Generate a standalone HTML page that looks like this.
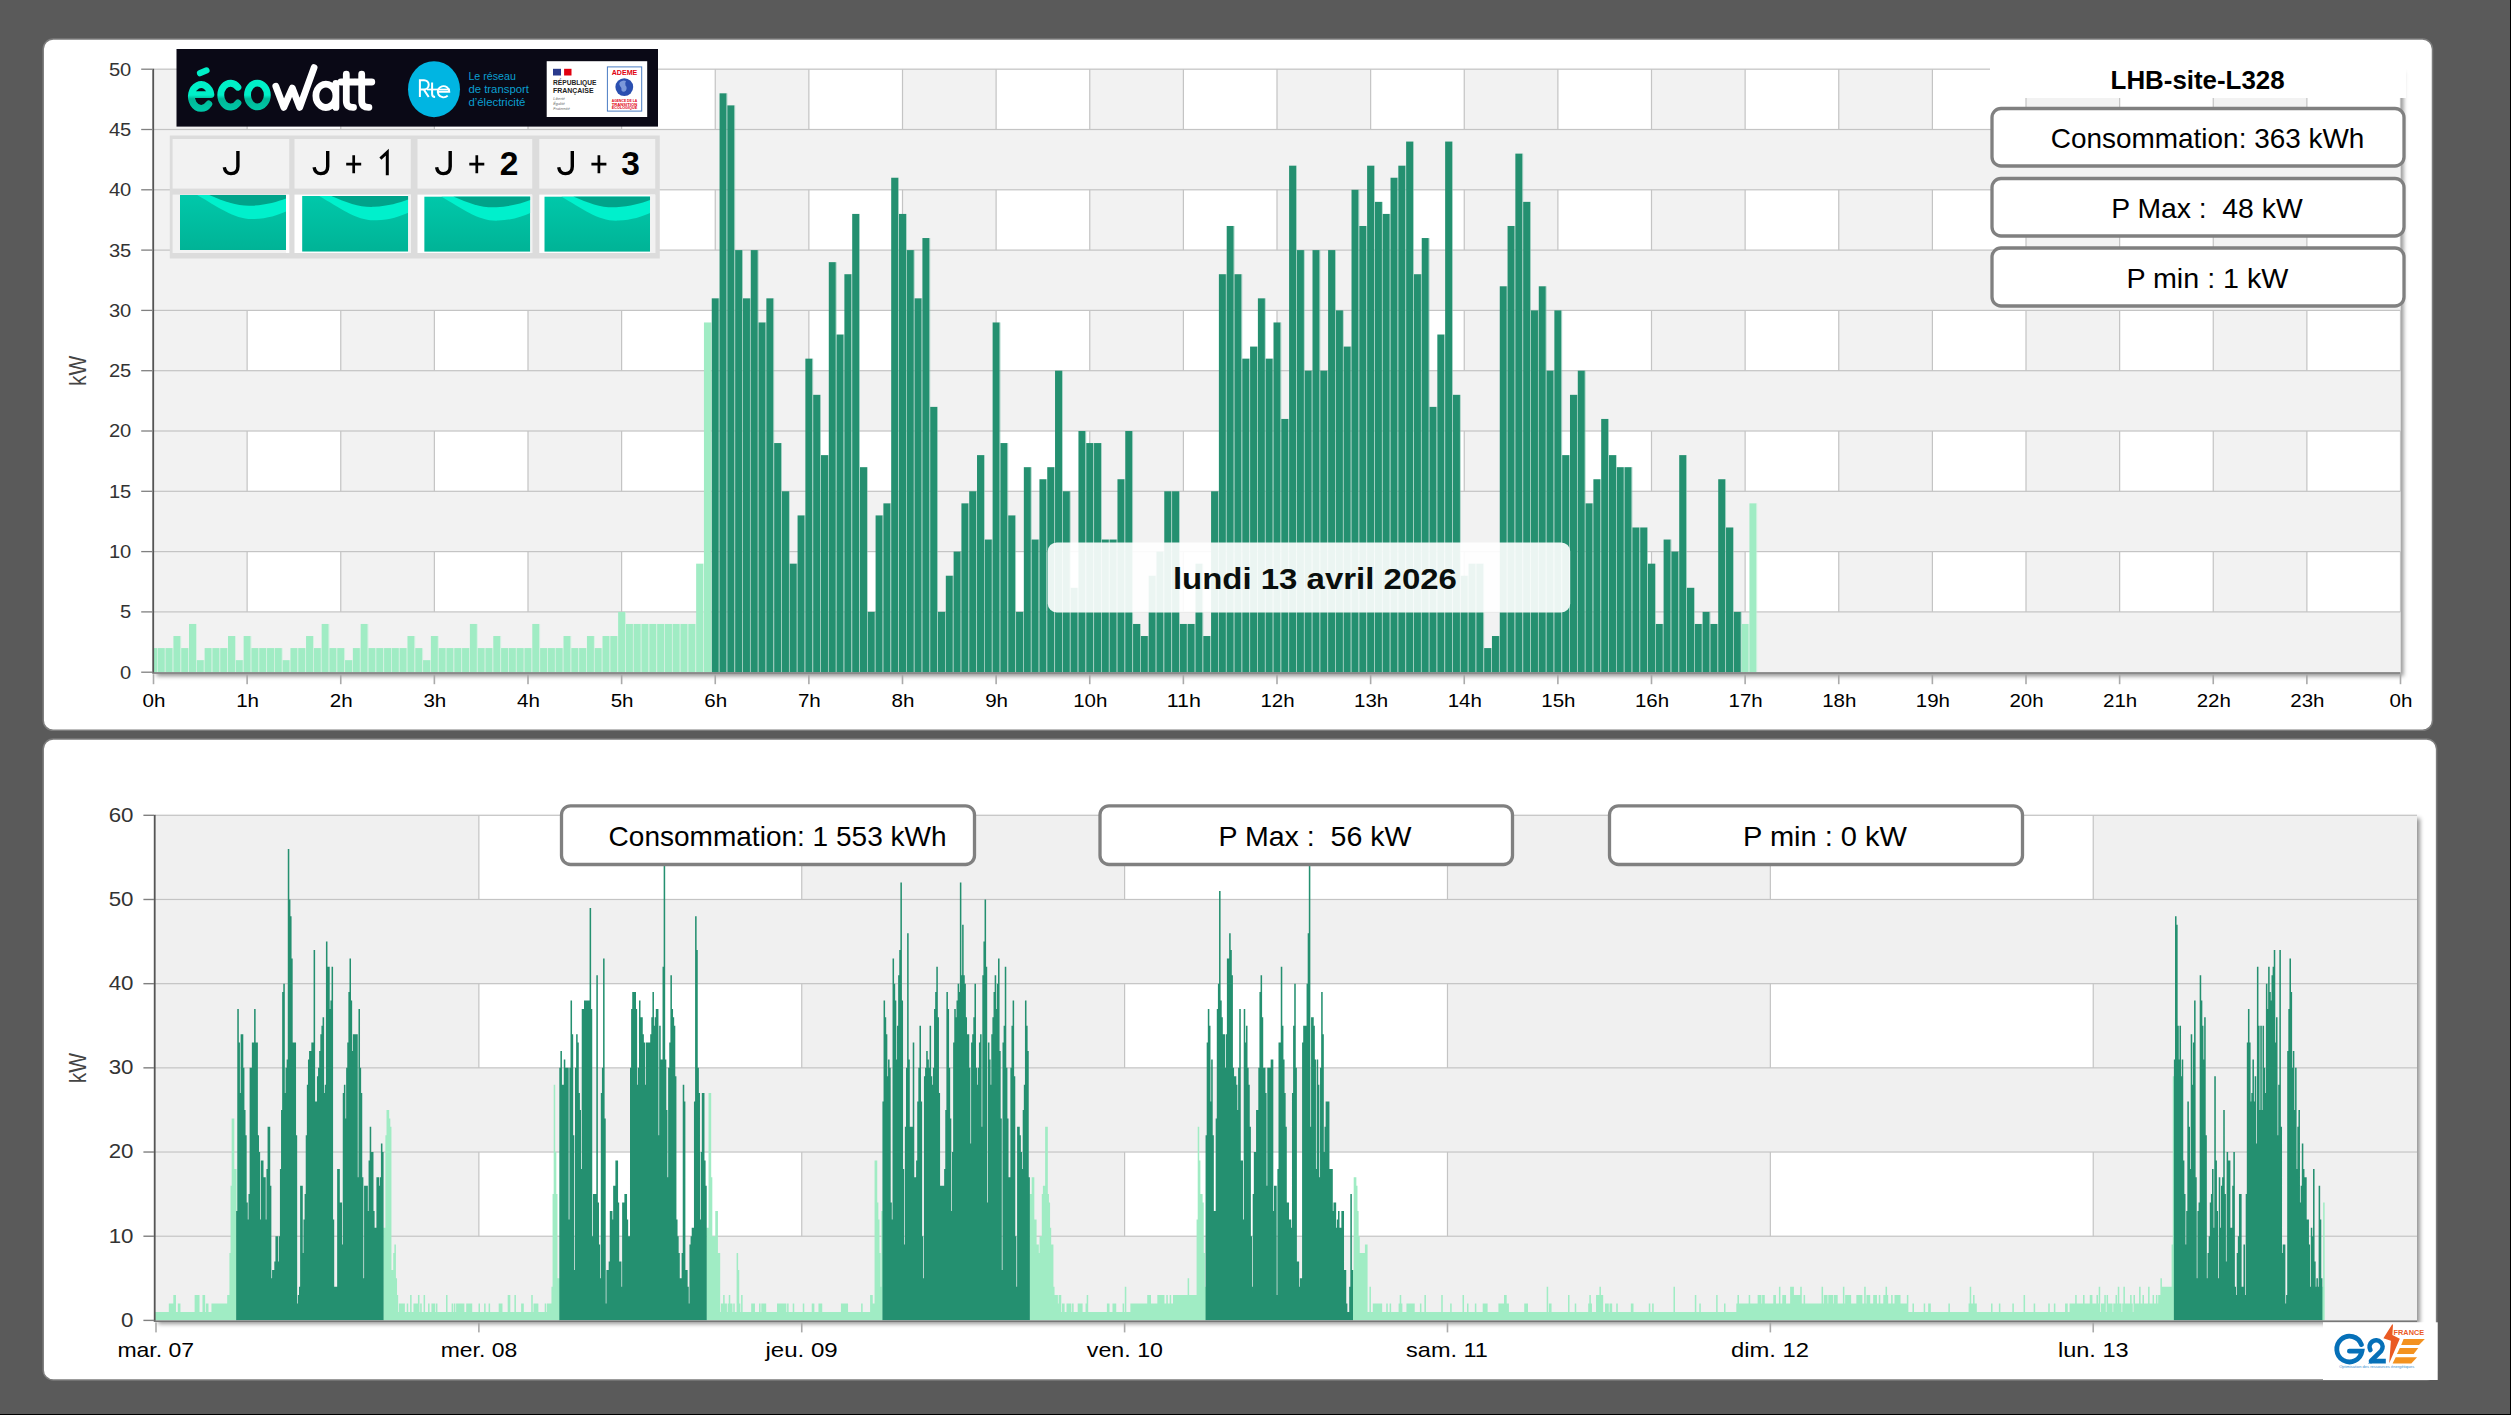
<!DOCTYPE html>
<html><head><meta charset="utf-8"><title>Energy dashboard</title>
<style>html,body{margin:0;padding:0;background:#5a5a5a;}body{width:2511px;height:1415px;overflow:hidden;position:relative;font-family:'Liberation Sans', sans-serif}</style></head>
<body>
<svg width="2511" height="1415" viewBox="0 0 2511 1415" style="position:absolute;left:0;top:0;font-family:'Liberation Sans', sans-serif">
<defs>
<filter id="sh" x="-5%" y="-5%" width="110%" height="110%"><feDropShadow dx="3" dy="3" stdDeviation="2.2" flood-color="#000" flood-opacity="0.42"/></filter>
<linearGradient id="teal" x1="0" y1="0" x2="0" y2="1"><stop offset="0" stop-color="#00c8aa"/><stop offset="1" stop-color="#00b396"/></linearGradient>
<linearGradient id="eco" gradientUnits="userSpaceOnUse" x1="0" y1="30" x2="0" y2="62"><stop offset="0" stop-color="#00f0c8"/><stop offset="0.5" stop-color="#00f0c8"/><stop offset="0.62" stop-color="#00b898"/><stop offset="1" stop-color="#00c8a8"/></linearGradient>
<clipPath id="cpTop"><rect x="153.5" y="67.2" width="2247.0" height="605.0"/></clipPath>
<clipPath id="cpBot"><rect x="155.0" y="813.3" width="2262.0" height="507.10000000000014"/></clipPath>
</defs>
<rect width="2511" height="1415" fill="#5a5a5a"/>
<rect x="2510" y="0" width="1" height="1415" fill="#000"/><rect x="0" y="1414" width="2511" height="1" fill="#000"/>
<rect x="43.2" y="39.0" width="2389.3" height="691.3" rx="10" ry="10" fill="#fff" stroke="#7c7c7c" stroke-width="1.5"/>
<rect x="43.2" y="739.0" width="2393.4" height="641" rx="10" ry="10" fill="#fff" stroke="#7c7c7c" stroke-width="1.5"/>
<rect x="153.5" y="69.2" width="2247.0" height="604.0" fill="#fff" filter="url(#sh)"/>
<rect x="153.50" y="69.2" width="93.62" height="603.0" fill="#f2f2f2"/>
<rect x="340.75" y="69.2" width="93.62" height="603.0" fill="#f2f2f2"/>
<rect x="528.00" y="69.2" width="93.62" height="603.0" fill="#f2f2f2"/>
<rect x="715.25" y="69.2" width="93.62" height="603.0" fill="#f2f2f2"/>
<rect x="902.50" y="69.2" width="93.62" height="603.0" fill="#f2f2f2"/>
<rect x="1089.75" y="69.2" width="93.62" height="603.0" fill="#f2f2f2"/>
<rect x="1277.00" y="69.2" width="93.62" height="603.0" fill="#f2f2f2"/>
<rect x="1464.25" y="69.2" width="93.62" height="603.0" fill="#f2f2f2"/>
<rect x="1651.50" y="69.2" width="93.62" height="603.0" fill="#f2f2f2"/>
<rect x="1838.75" y="69.2" width="93.62" height="603.0" fill="#f2f2f2"/>
<rect x="2026.00" y="69.2" width="93.62" height="603.0" fill="#f2f2f2"/>
<rect x="2213.25" y="69.2" width="93.62" height="603.0" fill="#f2f2f2"/>
<rect x="246.53" y="69.2" width="1.2" height="603.0" fill="#c4c4c4"/>
<rect x="340.15" y="69.2" width="1.2" height="603.0" fill="#c4c4c4"/>
<rect x="433.77" y="69.2" width="1.2" height="603.0" fill="#c4c4c4"/>
<rect x="527.40" y="69.2" width="1.2" height="603.0" fill="#c4c4c4"/>
<rect x="621.02" y="69.2" width="1.2" height="603.0" fill="#c4c4c4"/>
<rect x="714.65" y="69.2" width="1.2" height="603.0" fill="#c4c4c4"/>
<rect x="808.27" y="69.2" width="1.2" height="603.0" fill="#c4c4c4"/>
<rect x="901.90" y="69.2" width="1.2" height="603.0" fill="#c4c4c4"/>
<rect x="995.52" y="69.2" width="1.2" height="603.0" fill="#c4c4c4"/>
<rect x="1089.15" y="69.2" width="1.2" height="603.0" fill="#c4c4c4"/>
<rect x="1182.78" y="69.2" width="1.2" height="603.0" fill="#c4c4c4"/>
<rect x="1276.40" y="69.2" width="1.2" height="603.0" fill="#c4c4c4"/>
<rect x="1370.03" y="69.2" width="1.2" height="603.0" fill="#c4c4c4"/>
<rect x="1463.65" y="69.2" width="1.2" height="603.0" fill="#c4c4c4"/>
<rect x="1557.28" y="69.2" width="1.2" height="603.0" fill="#c4c4c4"/>
<rect x="1650.90" y="69.2" width="1.2" height="603.0" fill="#c4c4c4"/>
<rect x="1744.53" y="69.2" width="1.2" height="603.0" fill="#c4c4c4"/>
<rect x="1838.15" y="69.2" width="1.2" height="603.0" fill="#c4c4c4"/>
<rect x="1931.78" y="69.2" width="1.2" height="603.0" fill="#c4c4c4"/>
<rect x="2025.40" y="69.2" width="1.2" height="603.0" fill="#c4c4c4"/>
<rect x="2119.03" y="69.2" width="1.2" height="603.0" fill="#c4c4c4"/>
<rect x="2212.65" y="69.2" width="1.2" height="603.0" fill="#c4c4c4"/>
<rect x="2306.28" y="69.2" width="1.2" height="603.0" fill="#c4c4c4"/>
<rect x="2399.90" y="69.2" width="1.2" height="603.0" fill="#c4c4c4"/>
<rect x="153.5" y="611.90" width="2247.0" height="60.30" fill="#f2f2f2"/>
<rect x="153.5" y="491.30" width="2247.0" height="60.30" fill="#f2f2f2"/>
<rect x="153.5" y="370.70" width="2247.0" height="60.30" fill="#f2f2f2"/>
<rect x="153.5" y="250.10" width="2247.0" height="60.30" fill="#f2f2f2"/>
<rect x="153.5" y="129.50" width="2247.0" height="60.30" fill="#f2f2f2"/>
<rect x="153.5" y="611.30" width="2247.0" height="1.2" fill="#c4c4c4"/>
<rect x="153.5" y="551.00" width="2247.0" height="1.2" fill="#c4c4c4"/>
<rect x="153.5" y="490.70" width="2247.0" height="1.2" fill="#c4c4c4"/>
<rect x="153.5" y="430.40" width="2247.0" height="1.2" fill="#c4c4c4"/>
<rect x="153.5" y="370.10" width="2247.0" height="1.2" fill="#c4c4c4"/>
<rect x="153.5" y="309.80" width="2247.0" height="1.2" fill="#c4c4c4"/>
<rect x="153.5" y="249.50" width="2247.0" height="1.2" fill="#c4c4c4"/>
<rect x="153.5" y="189.20" width="2247.0" height="1.2" fill="#c4c4c4"/>
<rect x="153.5" y="128.90" width="2247.0" height="1.2" fill="#c4c4c4"/>
<rect x="153.5" y="68.60" width="2247.0" height="1.2" fill="#c4c4c4"/>
<g clip-path="url(#cpTop)">
<rect x="150.00" y="648.08" width="7.00" height="24.62" fill="#a0ecc4"/>
<rect x="157.00" y="648.08" width="0.80" height="24.62" fill="#c4f2da" opacity="0.7"/>
<rect x="157.80" y="648.08" width="7.00" height="24.62" fill="#a0ecc4"/>
<rect x="164.80" y="648.08" width="0.80" height="24.62" fill="#c4f2da" opacity="0.7"/>
<rect x="165.60" y="648.08" width="7.00" height="24.62" fill="#a0ecc4"/>
<rect x="172.61" y="648.08" width="0.80" height="24.62" fill="#c4f2da" opacity="0.7"/>
<rect x="173.41" y="636.02" width="7.00" height="36.68" fill="#a0ecc4"/>
<rect x="180.41" y="636.02" width="0.80" height="36.68" fill="#c4f2da" opacity="0.7"/>
<rect x="181.21" y="648.08" width="7.00" height="24.62" fill="#a0ecc4"/>
<rect x="188.21" y="648.08" width="0.80" height="24.62" fill="#c4f2da" opacity="0.7"/>
<rect x="189.01" y="623.96" width="7.00" height="48.74" fill="#a0ecc4"/>
<rect x="196.01" y="623.96" width="0.80" height="48.74" fill="#c4f2da" opacity="0.7"/>
<rect x="196.81" y="660.14" width="7.00" height="12.56" fill="#a0ecc4"/>
<rect x="203.81" y="660.14" width="0.80" height="12.56" fill="#c4f2da" opacity="0.7"/>
<rect x="204.61" y="648.08" width="7.00" height="24.62" fill="#a0ecc4"/>
<rect x="211.62" y="648.08" width="0.80" height="24.62" fill="#c4f2da" opacity="0.7"/>
<rect x="212.42" y="648.08" width="7.00" height="24.62" fill="#a0ecc4"/>
<rect x="219.42" y="648.08" width="0.80" height="24.62" fill="#c4f2da" opacity="0.7"/>
<rect x="220.22" y="648.08" width="7.00" height="24.62" fill="#a0ecc4"/>
<rect x="227.22" y="648.08" width="0.80" height="24.62" fill="#c4f2da" opacity="0.7"/>
<rect x="228.02" y="636.02" width="7.00" height="36.68" fill="#a0ecc4"/>
<rect x="235.02" y="636.02" width="0.80" height="36.68" fill="#c4f2da" opacity="0.7"/>
<rect x="235.82" y="660.14" width="7.00" height="12.56" fill="#a0ecc4"/>
<rect x="242.82" y="660.14" width="0.80" height="12.56" fill="#c4f2da" opacity="0.7"/>
<rect x="243.62" y="636.02" width="7.00" height="36.68" fill="#a0ecc4"/>
<rect x="250.63" y="636.02" width="0.80" height="36.68" fill="#c4f2da" opacity="0.7"/>
<rect x="251.43" y="648.08" width="7.00" height="24.62" fill="#a0ecc4"/>
<rect x="258.43" y="648.08" width="0.80" height="24.62" fill="#c4f2da" opacity="0.7"/>
<rect x="259.23" y="648.08" width="7.00" height="24.62" fill="#a0ecc4"/>
<rect x="266.23" y="648.08" width="0.80" height="24.62" fill="#c4f2da" opacity="0.7"/>
<rect x="267.03" y="648.08" width="7.00" height="24.62" fill="#a0ecc4"/>
<rect x="274.03" y="648.08" width="0.80" height="24.62" fill="#c4f2da" opacity="0.7"/>
<rect x="274.83" y="648.08" width="7.00" height="24.62" fill="#a0ecc4"/>
<rect x="281.83" y="648.08" width="0.80" height="24.62" fill="#c4f2da" opacity="0.7"/>
<rect x="282.63" y="660.14" width="7.00" height="12.56" fill="#a0ecc4"/>
<rect x="289.64" y="660.14" width="0.80" height="12.56" fill="#c4f2da" opacity="0.7"/>
<rect x="290.44" y="648.08" width="7.00" height="24.62" fill="#a0ecc4"/>
<rect x="297.44" y="648.08" width="0.80" height="24.62" fill="#c4f2da" opacity="0.7"/>
<rect x="298.24" y="648.08" width="7.00" height="24.62" fill="#a0ecc4"/>
<rect x="305.24" y="648.08" width="0.80" height="24.62" fill="#c4f2da" opacity="0.7"/>
<rect x="306.04" y="636.02" width="7.00" height="36.68" fill="#a0ecc4"/>
<rect x="313.04" y="636.02" width="0.80" height="36.68" fill="#c4f2da" opacity="0.7"/>
<rect x="313.84" y="648.08" width="7.00" height="24.62" fill="#a0ecc4"/>
<rect x="320.84" y="648.08" width="0.80" height="24.62" fill="#c4f2da" opacity="0.7"/>
<rect x="321.64" y="623.96" width="7.00" height="48.74" fill="#a0ecc4"/>
<rect x="328.65" y="623.96" width="0.80" height="48.74" fill="#c4f2da" opacity="0.7"/>
<rect x="329.45" y="648.08" width="7.00" height="24.62" fill="#a0ecc4"/>
<rect x="336.45" y="648.08" width="0.80" height="24.62" fill="#c4f2da" opacity="0.7"/>
<rect x="337.25" y="648.08" width="7.00" height="24.62" fill="#a0ecc4"/>
<rect x="344.25" y="648.08" width="0.80" height="24.62" fill="#c4f2da" opacity="0.7"/>
<rect x="345.05" y="660.14" width="7.00" height="12.56" fill="#a0ecc4"/>
<rect x="352.05" y="660.14" width="0.80" height="12.56" fill="#c4f2da" opacity="0.7"/>
<rect x="352.85" y="648.08" width="7.00" height="24.62" fill="#a0ecc4"/>
<rect x="359.86" y="648.08" width="0.80" height="24.62" fill="#c4f2da" opacity="0.7"/>
<rect x="360.66" y="623.96" width="7.00" height="48.74" fill="#a0ecc4"/>
<rect x="367.66" y="623.96" width="0.80" height="48.74" fill="#c4f2da" opacity="0.7"/>
<rect x="368.46" y="648.08" width="7.00" height="24.62" fill="#a0ecc4"/>
<rect x="375.46" y="648.08" width="0.80" height="24.62" fill="#c4f2da" opacity="0.7"/>
<rect x="376.26" y="648.08" width="7.00" height="24.62" fill="#a0ecc4"/>
<rect x="383.26" y="648.08" width="0.80" height="24.62" fill="#c4f2da" opacity="0.7"/>
<rect x="384.06" y="648.08" width="7.00" height="24.62" fill="#a0ecc4"/>
<rect x="391.06" y="648.08" width="0.80" height="24.62" fill="#c4f2da" opacity="0.7"/>
<rect x="391.86" y="648.08" width="7.00" height="24.62" fill="#a0ecc4"/>
<rect x="398.87" y="648.08" width="0.80" height="24.62" fill="#c4f2da" opacity="0.7"/>
<rect x="399.67" y="648.08" width="7.00" height="24.62" fill="#a0ecc4"/>
<rect x="406.67" y="648.08" width="0.80" height="24.62" fill="#c4f2da" opacity="0.7"/>
<rect x="407.47" y="636.02" width="7.00" height="36.68" fill="#a0ecc4"/>
<rect x="414.47" y="636.02" width="0.80" height="36.68" fill="#c4f2da" opacity="0.7"/>
<rect x="415.27" y="648.08" width="7.00" height="24.62" fill="#a0ecc4"/>
<rect x="422.27" y="648.08" width="0.80" height="24.62" fill="#c4f2da" opacity="0.7"/>
<rect x="423.07" y="660.14" width="7.00" height="12.56" fill="#a0ecc4"/>
<rect x="430.07" y="660.14" width="0.80" height="12.56" fill="#c4f2da" opacity="0.7"/>
<rect x="430.87" y="636.02" width="7.00" height="36.68" fill="#a0ecc4"/>
<rect x="437.88" y="636.02" width="0.80" height="36.68" fill="#c4f2da" opacity="0.7"/>
<rect x="438.68" y="648.08" width="7.00" height="24.62" fill="#a0ecc4"/>
<rect x="445.68" y="648.08" width="0.80" height="24.62" fill="#c4f2da" opacity="0.7"/>
<rect x="446.48" y="648.08" width="7.00" height="24.62" fill="#a0ecc4"/>
<rect x="453.48" y="648.08" width="0.80" height="24.62" fill="#c4f2da" opacity="0.7"/>
<rect x="454.28" y="648.08" width="7.00" height="24.62" fill="#a0ecc4"/>
<rect x="461.28" y="648.08" width="0.80" height="24.62" fill="#c4f2da" opacity="0.7"/>
<rect x="462.08" y="648.08" width="7.00" height="24.62" fill="#a0ecc4"/>
<rect x="469.08" y="648.08" width="0.80" height="24.62" fill="#c4f2da" opacity="0.7"/>
<rect x="469.88" y="623.96" width="7.00" height="48.74" fill="#a0ecc4"/>
<rect x="476.89" y="623.96" width="0.80" height="48.74" fill="#c4f2da" opacity="0.7"/>
<rect x="477.69" y="648.08" width="7.00" height="24.62" fill="#a0ecc4"/>
<rect x="484.69" y="648.08" width="0.80" height="24.62" fill="#c4f2da" opacity="0.7"/>
<rect x="485.49" y="648.08" width="7.00" height="24.62" fill="#a0ecc4"/>
<rect x="492.49" y="648.08" width="0.80" height="24.62" fill="#c4f2da" opacity="0.7"/>
<rect x="493.29" y="636.02" width="7.00" height="36.68" fill="#a0ecc4"/>
<rect x="500.29" y="636.02" width="0.80" height="36.68" fill="#c4f2da" opacity="0.7"/>
<rect x="501.09" y="648.08" width="7.00" height="24.62" fill="#a0ecc4"/>
<rect x="508.09" y="648.08" width="0.80" height="24.62" fill="#c4f2da" opacity="0.7"/>
<rect x="508.89" y="648.08" width="7.00" height="24.62" fill="#a0ecc4"/>
<rect x="515.90" y="648.08" width="0.80" height="24.62" fill="#c4f2da" opacity="0.7"/>
<rect x="516.70" y="648.08" width="7.00" height="24.62" fill="#a0ecc4"/>
<rect x="523.70" y="648.08" width="0.80" height="24.62" fill="#c4f2da" opacity="0.7"/>
<rect x="524.50" y="648.08" width="7.00" height="24.62" fill="#a0ecc4"/>
<rect x="531.50" y="648.08" width="0.80" height="24.62" fill="#c4f2da" opacity="0.7"/>
<rect x="532.30" y="623.96" width="7.00" height="48.74" fill="#a0ecc4"/>
<rect x="539.30" y="623.96" width="0.80" height="48.74" fill="#c4f2da" opacity="0.7"/>
<rect x="540.10" y="648.08" width="7.00" height="24.62" fill="#a0ecc4"/>
<rect x="547.11" y="648.08" width="0.80" height="24.62" fill="#c4f2da" opacity="0.7"/>
<rect x="547.91" y="648.08" width="7.00" height="24.62" fill="#a0ecc4"/>
<rect x="554.91" y="648.08" width="0.80" height="24.62" fill="#c4f2da" opacity="0.7"/>
<rect x="555.71" y="648.08" width="7.00" height="24.62" fill="#a0ecc4"/>
<rect x="562.71" y="648.08" width="0.80" height="24.62" fill="#c4f2da" opacity="0.7"/>
<rect x="563.51" y="636.02" width="7.00" height="36.68" fill="#a0ecc4"/>
<rect x="570.51" y="636.02" width="0.80" height="36.68" fill="#c4f2da" opacity="0.7"/>
<rect x="571.31" y="648.08" width="7.00" height="24.62" fill="#a0ecc4"/>
<rect x="578.31" y="648.08" width="0.80" height="24.62" fill="#c4f2da" opacity="0.7"/>
<rect x="579.11" y="648.08" width="7.00" height="24.62" fill="#a0ecc4"/>
<rect x="586.12" y="648.08" width="0.80" height="24.62" fill="#c4f2da" opacity="0.7"/>
<rect x="586.92" y="636.02" width="7.00" height="36.68" fill="#a0ecc4"/>
<rect x="593.92" y="636.02" width="0.80" height="36.68" fill="#c4f2da" opacity="0.7"/>
<rect x="594.72" y="648.08" width="7.00" height="24.62" fill="#a0ecc4"/>
<rect x="601.72" y="648.08" width="0.80" height="24.62" fill="#c4f2da" opacity="0.7"/>
<rect x="602.52" y="636.02" width="7.00" height="36.68" fill="#a0ecc4"/>
<rect x="609.52" y="636.02" width="0.80" height="36.68" fill="#c4f2da" opacity="0.7"/>
<rect x="610.32" y="636.02" width="7.00" height="36.68" fill="#a0ecc4"/>
<rect x="617.32" y="636.02" width="0.80" height="36.68" fill="#c4f2da" opacity="0.7"/>
<rect x="618.12" y="611.90" width="7.00" height="60.80" fill="#a0ecc4"/>
<rect x="625.13" y="611.90" width="0.80" height="60.80" fill="#c4f2da" opacity="0.7"/>
<rect x="625.93" y="623.96" width="7.00" height="48.74" fill="#a0ecc4"/>
<rect x="632.93" y="623.96" width="0.80" height="48.74" fill="#c4f2da" opacity="0.7"/>
<rect x="633.73" y="623.96" width="7.00" height="48.74" fill="#a0ecc4"/>
<rect x="640.73" y="623.96" width="0.80" height="48.74" fill="#c4f2da" opacity="0.7"/>
<rect x="641.53" y="623.96" width="7.00" height="48.74" fill="#a0ecc4"/>
<rect x="648.53" y="623.96" width="0.80" height="48.74" fill="#c4f2da" opacity="0.7"/>
<rect x="649.33" y="623.96" width="7.00" height="48.74" fill="#a0ecc4"/>
<rect x="656.33" y="623.96" width="0.80" height="48.74" fill="#c4f2da" opacity="0.7"/>
<rect x="657.13" y="623.96" width="7.00" height="48.74" fill="#a0ecc4"/>
<rect x="664.14" y="623.96" width="0.80" height="48.74" fill="#c4f2da" opacity="0.7"/>
<rect x="664.94" y="623.96" width="7.00" height="48.74" fill="#a0ecc4"/>
<rect x="671.94" y="623.96" width="0.80" height="48.74" fill="#c4f2da" opacity="0.7"/>
<rect x="672.74" y="623.96" width="7.00" height="48.74" fill="#a0ecc4"/>
<rect x="679.74" y="623.96" width="0.80" height="48.74" fill="#c4f2da" opacity="0.7"/>
<rect x="680.54" y="623.96" width="7.00" height="48.74" fill="#a0ecc4"/>
<rect x="687.54" y="623.96" width="0.80" height="48.74" fill="#c4f2da" opacity="0.7"/>
<rect x="688.34" y="623.96" width="7.00" height="48.74" fill="#a0ecc4"/>
<rect x="695.34" y="623.96" width="0.80" height="48.74" fill="#c4f2da" opacity="0.7"/>
<rect x="696.14" y="563.66" width="7.00" height="109.04" fill="#a0ecc4"/>
<rect x="703.15" y="563.66" width="0.80" height="109.04" fill="#c4f2da" opacity="0.7"/>
<rect x="703.95" y="322.46" width="7.00" height="350.24" fill="#a0ecc4"/>
<rect x="710.95" y="322.46" width="0.80" height="350.24" fill="#c4f2da" opacity="0.7"/>
<rect x="711.75" y="298.34" width="7.00" height="374.36" fill="#249070"/>
<rect x="718.75" y="298.34" width="0.80" height="374.36" fill="#7fc0ac" opacity="0.7"/>
<rect x="719.55" y="93.32" width="7.00" height="579.38" fill="#249070"/>
<rect x="726.55" y="93.32" width="0.80" height="579.38" fill="#7fc0ac" opacity="0.7"/>
<rect x="727.35" y="105.38" width="7.00" height="567.32" fill="#249070"/>
<rect x="734.36" y="105.38" width="0.80" height="567.32" fill="#7fc0ac" opacity="0.7"/>
<rect x="735.16" y="250.10" width="7.00" height="422.60" fill="#249070"/>
<rect x="742.16" y="250.10" width="0.80" height="422.60" fill="#7fc0ac" opacity="0.7"/>
<rect x="742.96" y="298.34" width="7.00" height="374.36" fill="#249070"/>
<rect x="749.96" y="298.34" width="0.80" height="374.36" fill="#7fc0ac" opacity="0.7"/>
<rect x="750.76" y="250.10" width="7.00" height="422.60" fill="#249070"/>
<rect x="757.76" y="250.10" width="0.80" height="422.60" fill="#7fc0ac" opacity="0.7"/>
<rect x="758.56" y="322.46" width="7.00" height="350.24" fill="#249070"/>
<rect x="765.56" y="322.46" width="0.80" height="350.24" fill="#7fc0ac" opacity="0.7"/>
<rect x="766.36" y="298.34" width="7.00" height="374.36" fill="#249070"/>
<rect x="773.37" y="298.34" width="0.80" height="374.36" fill="#7fc0ac" opacity="0.7"/>
<rect x="774.17" y="443.06" width="7.00" height="229.64" fill="#249070"/>
<rect x="781.17" y="443.06" width="0.80" height="229.64" fill="#7fc0ac" opacity="0.7"/>
<rect x="781.97" y="491.30" width="7.00" height="181.40" fill="#249070"/>
<rect x="788.97" y="491.30" width="0.80" height="181.40" fill="#7fc0ac" opacity="0.7"/>
<rect x="789.77" y="563.66" width="7.00" height="109.04" fill="#249070"/>
<rect x="796.77" y="563.66" width="0.80" height="109.04" fill="#7fc0ac" opacity="0.7"/>
<rect x="797.57" y="515.42" width="7.00" height="157.28" fill="#249070"/>
<rect x="804.57" y="515.42" width="0.80" height="157.28" fill="#7fc0ac" opacity="0.7"/>
<rect x="805.37" y="358.64" width="7.00" height="314.06" fill="#249070"/>
<rect x="812.38" y="358.64" width="0.80" height="314.06" fill="#7fc0ac" opacity="0.7"/>
<rect x="813.18" y="394.82" width="7.00" height="277.88" fill="#249070"/>
<rect x="820.18" y="394.82" width="0.80" height="277.88" fill="#7fc0ac" opacity="0.7"/>
<rect x="820.98" y="455.12" width="7.00" height="217.58" fill="#249070"/>
<rect x="827.98" y="455.12" width="0.80" height="217.58" fill="#7fc0ac" opacity="0.7"/>
<rect x="828.78" y="262.16" width="7.00" height="410.54" fill="#249070"/>
<rect x="835.78" y="262.16" width="0.80" height="410.54" fill="#7fc0ac" opacity="0.7"/>
<rect x="836.58" y="334.52" width="7.00" height="338.18" fill="#249070"/>
<rect x="843.58" y="334.52" width="0.80" height="338.18" fill="#7fc0ac" opacity="0.7"/>
<rect x="844.38" y="274.22" width="7.00" height="398.48" fill="#249070"/>
<rect x="851.39" y="274.22" width="0.80" height="398.48" fill="#7fc0ac" opacity="0.7"/>
<rect x="852.19" y="213.92" width="7.00" height="458.78" fill="#249070"/>
<rect x="859.19" y="213.92" width="0.80" height="458.78" fill="#7fc0ac" opacity="0.7"/>
<rect x="859.99" y="467.18" width="7.00" height="205.52" fill="#249070"/>
<rect x="866.99" y="467.18" width="0.80" height="205.52" fill="#7fc0ac" opacity="0.7"/>
<rect x="867.79" y="611.90" width="7.00" height="60.80" fill="#249070"/>
<rect x="874.79" y="611.90" width="0.80" height="60.80" fill="#7fc0ac" opacity="0.7"/>
<rect x="875.59" y="515.42" width="7.00" height="157.28" fill="#249070"/>
<rect x="882.59" y="515.42" width="0.80" height="157.28" fill="#7fc0ac" opacity="0.7"/>
<rect x="883.39" y="503.36" width="7.00" height="169.34" fill="#249070"/>
<rect x="890.40" y="503.36" width="0.80" height="169.34" fill="#7fc0ac" opacity="0.7"/>
<rect x="891.20" y="177.74" width="7.00" height="494.96" fill="#249070"/>
<rect x="898.20" y="177.74" width="0.80" height="494.96" fill="#7fc0ac" opacity="0.7"/>
<rect x="899.00" y="213.92" width="7.00" height="458.78" fill="#249070"/>
<rect x="906.00" y="213.92" width="0.80" height="458.78" fill="#7fc0ac" opacity="0.7"/>
<rect x="906.80" y="250.10" width="7.00" height="422.60" fill="#249070"/>
<rect x="913.80" y="250.10" width="0.80" height="422.60" fill="#7fc0ac" opacity="0.7"/>
<rect x="914.60" y="298.34" width="7.00" height="374.36" fill="#249070"/>
<rect x="921.61" y="298.34" width="0.80" height="374.36" fill="#7fc0ac" opacity="0.7"/>
<rect x="922.41" y="238.04" width="7.00" height="434.66" fill="#249070"/>
<rect x="929.41" y="238.04" width="0.80" height="434.66" fill="#7fc0ac" opacity="0.7"/>
<rect x="930.21" y="406.88" width="7.00" height="265.82" fill="#249070"/>
<rect x="937.21" y="406.88" width="0.80" height="265.82" fill="#7fc0ac" opacity="0.7"/>
<rect x="938.01" y="611.90" width="7.00" height="60.80" fill="#249070"/>
<rect x="945.01" y="611.90" width="0.80" height="60.80" fill="#7fc0ac" opacity="0.7"/>
<rect x="945.81" y="575.72" width="7.00" height="96.98" fill="#249070"/>
<rect x="952.81" y="575.72" width="0.80" height="96.98" fill="#7fc0ac" opacity="0.7"/>
<rect x="953.61" y="551.60" width="7.00" height="121.10" fill="#249070"/>
<rect x="960.62" y="551.60" width="0.80" height="121.10" fill="#7fc0ac" opacity="0.7"/>
<rect x="961.42" y="503.36" width="7.00" height="169.34" fill="#249070"/>
<rect x="968.42" y="503.36" width="0.80" height="169.34" fill="#7fc0ac" opacity="0.7"/>
<rect x="969.22" y="491.30" width="7.00" height="181.40" fill="#249070"/>
<rect x="976.22" y="491.30" width="0.80" height="181.40" fill="#7fc0ac" opacity="0.7"/>
<rect x="977.02" y="455.12" width="7.00" height="217.58" fill="#249070"/>
<rect x="984.02" y="455.12" width="0.80" height="217.58" fill="#7fc0ac" opacity="0.7"/>
<rect x="984.82" y="539.54" width="7.00" height="133.16" fill="#249070"/>
<rect x="991.82" y="539.54" width="0.80" height="133.16" fill="#7fc0ac" opacity="0.7"/>
<rect x="992.62" y="322.46" width="7.00" height="350.24" fill="#249070"/>
<rect x="999.63" y="322.46" width="0.80" height="350.24" fill="#7fc0ac" opacity="0.7"/>
<rect x="1000.43" y="443.06" width="7.00" height="229.64" fill="#249070"/>
<rect x="1007.43" y="443.06" width="0.80" height="229.64" fill="#7fc0ac" opacity="0.7"/>
<rect x="1008.23" y="515.42" width="7.00" height="157.28" fill="#249070"/>
<rect x="1015.23" y="515.42" width="0.80" height="157.28" fill="#7fc0ac" opacity="0.7"/>
<rect x="1016.03" y="611.90" width="7.00" height="60.80" fill="#249070"/>
<rect x="1023.03" y="611.90" width="0.80" height="60.80" fill="#7fc0ac" opacity="0.7"/>
<rect x="1023.83" y="467.18" width="7.00" height="205.52" fill="#249070"/>
<rect x="1030.83" y="467.18" width="0.80" height="205.52" fill="#7fc0ac" opacity="0.7"/>
<rect x="1031.63" y="539.54" width="7.00" height="133.16" fill="#249070"/>
<rect x="1038.64" y="539.54" width="0.80" height="133.16" fill="#7fc0ac" opacity="0.7"/>
<rect x="1039.44" y="479.24" width="7.00" height="193.46" fill="#249070"/>
<rect x="1046.44" y="479.24" width="0.80" height="193.46" fill="#7fc0ac" opacity="0.7"/>
<rect x="1047.24" y="467.18" width="7.00" height="205.52" fill="#249070"/>
<rect x="1054.24" y="467.18" width="0.80" height="205.52" fill="#7fc0ac" opacity="0.7"/>
<rect x="1055.04" y="370.70" width="7.00" height="302.00" fill="#249070"/>
<rect x="1062.04" y="370.70" width="0.80" height="302.00" fill="#7fc0ac" opacity="0.7"/>
<rect x="1062.84" y="491.30" width="7.00" height="181.40" fill="#249070"/>
<rect x="1069.84" y="491.30" width="0.80" height="181.40" fill="#7fc0ac" opacity="0.7"/>
<rect x="1070.64" y="587.78" width="7.00" height="84.92" fill="#249070"/>
<rect x="1077.65" y="587.78" width="0.80" height="84.92" fill="#7fc0ac" opacity="0.7"/>
<rect x="1078.45" y="431.00" width="7.00" height="241.70" fill="#249070"/>
<rect x="1085.45" y="431.00" width="0.80" height="241.70" fill="#7fc0ac" opacity="0.7"/>
<rect x="1086.25" y="443.06" width="7.00" height="229.64" fill="#249070"/>
<rect x="1093.25" y="443.06" width="0.80" height="229.64" fill="#7fc0ac" opacity="0.7"/>
<rect x="1094.05" y="443.06" width="7.00" height="229.64" fill="#249070"/>
<rect x="1101.05" y="443.06" width="0.80" height="229.64" fill="#7fc0ac" opacity="0.7"/>
<rect x="1101.85" y="539.54" width="7.00" height="133.16" fill="#249070"/>
<rect x="1108.86" y="539.54" width="0.80" height="133.16" fill="#7fc0ac" opacity="0.7"/>
<rect x="1109.66" y="539.54" width="7.00" height="133.16" fill="#249070"/>
<rect x="1116.66" y="539.54" width="0.80" height="133.16" fill="#7fc0ac" opacity="0.7"/>
<rect x="1117.46" y="479.24" width="7.00" height="193.46" fill="#249070"/>
<rect x="1124.46" y="479.24" width="0.80" height="193.46" fill="#7fc0ac" opacity="0.7"/>
<rect x="1125.26" y="431.00" width="7.00" height="241.70" fill="#249070"/>
<rect x="1132.26" y="431.00" width="0.80" height="241.70" fill="#7fc0ac" opacity="0.7"/>
<rect x="1133.06" y="623.96" width="7.00" height="48.74" fill="#249070"/>
<rect x="1140.06" y="623.96" width="0.80" height="48.74" fill="#7fc0ac" opacity="0.7"/>
<rect x="1140.86" y="636.02" width="7.00" height="36.68" fill="#249070"/>
<rect x="1147.87" y="636.02" width="0.80" height="36.68" fill="#7fc0ac" opacity="0.7"/>
<rect x="1148.67" y="575.72" width="7.00" height="96.98" fill="#249070"/>
<rect x="1155.67" y="575.72" width="0.80" height="96.98" fill="#7fc0ac" opacity="0.7"/>
<rect x="1156.47" y="551.60" width="7.00" height="121.10" fill="#249070"/>
<rect x="1163.47" y="551.60" width="0.80" height="121.10" fill="#7fc0ac" opacity="0.7"/>
<rect x="1164.27" y="491.30" width="7.00" height="181.40" fill="#249070"/>
<rect x="1171.27" y="491.30" width="0.80" height="181.40" fill="#7fc0ac" opacity="0.7"/>
<rect x="1172.07" y="491.30" width="7.00" height="181.40" fill="#249070"/>
<rect x="1179.07" y="491.30" width="0.80" height="181.40" fill="#7fc0ac" opacity="0.7"/>
<rect x="1179.87" y="623.96" width="7.00" height="48.74" fill="#249070"/>
<rect x="1186.88" y="623.96" width="0.80" height="48.74" fill="#7fc0ac" opacity="0.7"/>
<rect x="1187.68" y="623.96" width="7.00" height="48.74" fill="#249070"/>
<rect x="1194.68" y="623.96" width="0.80" height="48.74" fill="#7fc0ac" opacity="0.7"/>
<rect x="1195.48" y="563.66" width="7.00" height="109.04" fill="#249070"/>
<rect x="1202.48" y="563.66" width="0.80" height="109.04" fill="#7fc0ac" opacity="0.7"/>
<rect x="1203.28" y="636.02" width="7.00" height="36.68" fill="#249070"/>
<rect x="1210.28" y="636.02" width="0.80" height="36.68" fill="#7fc0ac" opacity="0.7"/>
<rect x="1211.08" y="491.30" width="7.00" height="181.40" fill="#249070"/>
<rect x="1218.08" y="491.30" width="0.80" height="181.40" fill="#7fc0ac" opacity="0.7"/>
<rect x="1218.88" y="274.22" width="7.00" height="398.48" fill="#249070"/>
<rect x="1225.89" y="274.22" width="0.80" height="398.48" fill="#7fc0ac" opacity="0.7"/>
<rect x="1226.69" y="225.98" width="7.00" height="446.72" fill="#249070"/>
<rect x="1233.69" y="225.98" width="0.80" height="446.72" fill="#7fc0ac" opacity="0.7"/>
<rect x="1234.49" y="274.22" width="7.00" height="398.48" fill="#249070"/>
<rect x="1241.49" y="274.22" width="0.80" height="398.48" fill="#7fc0ac" opacity="0.7"/>
<rect x="1242.29" y="358.64" width="7.00" height="314.06" fill="#249070"/>
<rect x="1249.29" y="358.64" width="0.80" height="314.06" fill="#7fc0ac" opacity="0.7"/>
<rect x="1250.09" y="346.58" width="7.00" height="326.12" fill="#249070"/>
<rect x="1257.09" y="346.58" width="0.80" height="326.12" fill="#7fc0ac" opacity="0.7"/>
<rect x="1257.89" y="298.34" width="7.00" height="374.36" fill="#249070"/>
<rect x="1264.90" y="298.34" width="0.80" height="374.36" fill="#7fc0ac" opacity="0.7"/>
<rect x="1265.70" y="358.64" width="7.00" height="314.06" fill="#249070"/>
<rect x="1272.70" y="358.64" width="0.80" height="314.06" fill="#7fc0ac" opacity="0.7"/>
<rect x="1273.50" y="322.46" width="7.00" height="350.24" fill="#249070"/>
<rect x="1280.50" y="322.46" width="0.80" height="350.24" fill="#7fc0ac" opacity="0.7"/>
<rect x="1281.30" y="418.94" width="7.00" height="253.76" fill="#249070"/>
<rect x="1288.30" y="418.94" width="0.80" height="253.76" fill="#7fc0ac" opacity="0.7"/>
<rect x="1289.10" y="165.68" width="7.00" height="507.02" fill="#249070"/>
<rect x="1296.11" y="165.68" width="0.80" height="507.02" fill="#7fc0ac" opacity="0.7"/>
<rect x="1296.91" y="250.10" width="7.00" height="422.60" fill="#249070"/>
<rect x="1303.91" y="250.10" width="0.80" height="422.60" fill="#7fc0ac" opacity="0.7"/>
<rect x="1304.71" y="370.70" width="7.00" height="302.00" fill="#249070"/>
<rect x="1311.71" y="370.70" width="0.80" height="302.00" fill="#7fc0ac" opacity="0.7"/>
<rect x="1312.51" y="250.10" width="7.00" height="422.60" fill="#249070"/>
<rect x="1319.51" y="250.10" width="0.80" height="422.60" fill="#7fc0ac" opacity="0.7"/>
<rect x="1320.31" y="370.70" width="7.00" height="302.00" fill="#249070"/>
<rect x="1327.31" y="370.70" width="0.80" height="302.00" fill="#7fc0ac" opacity="0.7"/>
<rect x="1328.11" y="250.10" width="7.00" height="422.60" fill="#249070"/>
<rect x="1335.12" y="250.10" width="0.80" height="422.60" fill="#7fc0ac" opacity="0.7"/>
<rect x="1335.92" y="310.40" width="7.00" height="362.30" fill="#249070"/>
<rect x="1342.92" y="310.40" width="0.80" height="362.30" fill="#7fc0ac" opacity="0.7"/>
<rect x="1343.72" y="346.58" width="7.00" height="326.12" fill="#249070"/>
<rect x="1350.72" y="346.58" width="0.80" height="326.12" fill="#7fc0ac" opacity="0.7"/>
<rect x="1351.52" y="189.80" width="7.00" height="482.90" fill="#249070"/>
<rect x="1358.52" y="189.80" width="0.80" height="482.90" fill="#7fc0ac" opacity="0.7"/>
<rect x="1359.32" y="225.98" width="7.00" height="446.72" fill="#249070"/>
<rect x="1366.32" y="225.98" width="0.80" height="446.72" fill="#7fc0ac" opacity="0.7"/>
<rect x="1367.12" y="165.68" width="7.00" height="507.02" fill="#249070"/>
<rect x="1374.13" y="165.68" width="0.80" height="507.02" fill="#7fc0ac" opacity="0.7"/>
<rect x="1374.93" y="201.86" width="7.00" height="470.84" fill="#249070"/>
<rect x="1381.93" y="201.86" width="0.80" height="470.84" fill="#7fc0ac" opacity="0.7"/>
<rect x="1382.73" y="213.92" width="7.00" height="458.78" fill="#249070"/>
<rect x="1389.73" y="213.92" width="0.80" height="458.78" fill="#7fc0ac" opacity="0.7"/>
<rect x="1390.53" y="177.74" width="7.00" height="494.96" fill="#249070"/>
<rect x="1397.53" y="177.74" width="0.80" height="494.96" fill="#7fc0ac" opacity="0.7"/>
<rect x="1398.33" y="165.68" width="7.00" height="507.02" fill="#249070"/>
<rect x="1405.33" y="165.68" width="0.80" height="507.02" fill="#7fc0ac" opacity="0.7"/>
<rect x="1406.13" y="141.56" width="7.00" height="531.14" fill="#249070"/>
<rect x="1413.14" y="141.56" width="0.80" height="531.14" fill="#7fc0ac" opacity="0.7"/>
<rect x="1413.94" y="274.22" width="7.00" height="398.48" fill="#249070"/>
<rect x="1420.94" y="274.22" width="0.80" height="398.48" fill="#7fc0ac" opacity="0.7"/>
<rect x="1421.74" y="238.04" width="7.00" height="434.66" fill="#249070"/>
<rect x="1428.74" y="238.04" width="0.80" height="434.66" fill="#7fc0ac" opacity="0.7"/>
<rect x="1429.54" y="406.88" width="7.00" height="265.82" fill="#249070"/>
<rect x="1436.54" y="406.88" width="0.80" height="265.82" fill="#7fc0ac" opacity="0.7"/>
<rect x="1437.34" y="334.52" width="7.00" height="338.18" fill="#249070"/>
<rect x="1444.34" y="334.52" width="0.80" height="338.18" fill="#7fc0ac" opacity="0.7"/>
<rect x="1445.14" y="141.56" width="7.00" height="531.14" fill="#249070"/>
<rect x="1452.15" y="141.56" width="0.80" height="531.14" fill="#7fc0ac" opacity="0.7"/>
<rect x="1452.95" y="394.82" width="7.00" height="277.88" fill="#249070"/>
<rect x="1459.95" y="394.82" width="0.80" height="277.88" fill="#7fc0ac" opacity="0.7"/>
<rect x="1460.75" y="575.72" width="7.00" height="96.98" fill="#249070"/>
<rect x="1467.75" y="575.72" width="0.80" height="96.98" fill="#7fc0ac" opacity="0.7"/>
<rect x="1468.55" y="563.66" width="7.00" height="109.04" fill="#249070"/>
<rect x="1475.55" y="563.66" width="0.80" height="109.04" fill="#7fc0ac" opacity="0.7"/>
<rect x="1476.35" y="563.66" width="7.00" height="109.04" fill="#249070"/>
<rect x="1483.36" y="563.66" width="0.80" height="109.04" fill="#7fc0ac" opacity="0.7"/>
<rect x="1484.16" y="648.08" width="7.00" height="24.62" fill="#249070"/>
<rect x="1491.16" y="648.08" width="0.80" height="24.62" fill="#7fc0ac" opacity="0.7"/>
<rect x="1491.96" y="636.02" width="7.00" height="36.68" fill="#249070"/>
<rect x="1498.96" y="636.02" width="0.80" height="36.68" fill="#7fc0ac" opacity="0.7"/>
<rect x="1499.76" y="286.28" width="7.00" height="386.42" fill="#249070"/>
<rect x="1506.76" y="286.28" width="0.80" height="386.42" fill="#7fc0ac" opacity="0.7"/>
<rect x="1507.56" y="225.98" width="7.00" height="446.72" fill="#249070"/>
<rect x="1514.56" y="225.98" width="0.80" height="446.72" fill="#7fc0ac" opacity="0.7"/>
<rect x="1515.36" y="153.62" width="7.00" height="519.08" fill="#249070"/>
<rect x="1522.37" y="153.62" width="0.80" height="519.08" fill="#7fc0ac" opacity="0.7"/>
<rect x="1523.17" y="201.86" width="7.00" height="470.84" fill="#249070"/>
<rect x="1530.17" y="201.86" width="0.80" height="470.84" fill="#7fc0ac" opacity="0.7"/>
<rect x="1530.97" y="310.40" width="7.00" height="362.30" fill="#249070"/>
<rect x="1537.97" y="310.40" width="0.80" height="362.30" fill="#7fc0ac" opacity="0.7"/>
<rect x="1538.77" y="286.28" width="7.00" height="386.42" fill="#249070"/>
<rect x="1545.77" y="286.28" width="0.80" height="386.42" fill="#7fc0ac" opacity="0.7"/>
<rect x="1546.57" y="370.70" width="7.00" height="302.00" fill="#249070"/>
<rect x="1553.57" y="370.70" width="0.80" height="302.00" fill="#7fc0ac" opacity="0.7"/>
<rect x="1554.37" y="310.40" width="7.00" height="362.30" fill="#249070"/>
<rect x="1561.38" y="310.40" width="0.80" height="362.30" fill="#7fc0ac" opacity="0.7"/>
<rect x="1562.18" y="455.12" width="7.00" height="217.58" fill="#249070"/>
<rect x="1569.18" y="455.12" width="0.80" height="217.58" fill="#7fc0ac" opacity="0.7"/>
<rect x="1569.98" y="394.82" width="7.00" height="277.88" fill="#249070"/>
<rect x="1576.98" y="394.82" width="0.80" height="277.88" fill="#7fc0ac" opacity="0.7"/>
<rect x="1577.78" y="370.70" width="7.00" height="302.00" fill="#249070"/>
<rect x="1584.78" y="370.70" width="0.80" height="302.00" fill="#7fc0ac" opacity="0.7"/>
<rect x="1585.58" y="503.36" width="7.00" height="169.34" fill="#249070"/>
<rect x="1592.58" y="503.36" width="0.80" height="169.34" fill="#7fc0ac" opacity="0.7"/>
<rect x="1593.38" y="479.24" width="7.00" height="193.46" fill="#249070"/>
<rect x="1600.39" y="479.24" width="0.80" height="193.46" fill="#7fc0ac" opacity="0.7"/>
<rect x="1601.19" y="418.94" width="7.00" height="253.76" fill="#249070"/>
<rect x="1608.19" y="418.94" width="0.80" height="253.76" fill="#7fc0ac" opacity="0.7"/>
<rect x="1608.99" y="455.12" width="7.00" height="217.58" fill="#249070"/>
<rect x="1615.99" y="455.12" width="0.80" height="217.58" fill="#7fc0ac" opacity="0.7"/>
<rect x="1616.79" y="467.18" width="7.00" height="205.52" fill="#249070"/>
<rect x="1623.79" y="467.18" width="0.80" height="205.52" fill="#7fc0ac" opacity="0.7"/>
<rect x="1624.59" y="467.18" width="7.00" height="205.52" fill="#249070"/>
<rect x="1631.59" y="467.18" width="0.80" height="205.52" fill="#7fc0ac" opacity="0.7"/>
<rect x="1632.39" y="527.48" width="7.00" height="145.22" fill="#249070"/>
<rect x="1639.40" y="527.48" width="0.80" height="145.22" fill="#7fc0ac" opacity="0.7"/>
<rect x="1640.20" y="527.48" width="7.00" height="145.22" fill="#249070"/>
<rect x="1647.20" y="527.48" width="0.80" height="145.22" fill="#7fc0ac" opacity="0.7"/>
<rect x="1648.00" y="563.66" width="7.00" height="109.04" fill="#249070"/>
<rect x="1655.00" y="563.66" width="0.80" height="109.04" fill="#7fc0ac" opacity="0.7"/>
<rect x="1655.80" y="623.96" width="7.00" height="48.74" fill="#249070"/>
<rect x="1662.80" y="623.96" width="0.80" height="48.74" fill="#7fc0ac" opacity="0.7"/>
<rect x="1663.60" y="539.54" width="7.00" height="133.16" fill="#249070"/>
<rect x="1670.61" y="539.54" width="0.80" height="133.16" fill="#7fc0ac" opacity="0.7"/>
<rect x="1671.41" y="551.60" width="7.00" height="121.10" fill="#249070"/>
<rect x="1678.41" y="551.60" width="0.80" height="121.10" fill="#7fc0ac" opacity="0.7"/>
<rect x="1679.21" y="455.12" width="7.00" height="217.58" fill="#249070"/>
<rect x="1686.21" y="455.12" width="0.80" height="217.58" fill="#7fc0ac" opacity="0.7"/>
<rect x="1687.01" y="587.78" width="7.00" height="84.92" fill="#249070"/>
<rect x="1694.01" y="587.78" width="0.80" height="84.92" fill="#7fc0ac" opacity="0.7"/>
<rect x="1694.81" y="623.96" width="7.00" height="48.74" fill="#249070"/>
<rect x="1701.81" y="623.96" width="0.80" height="48.74" fill="#7fc0ac" opacity="0.7"/>
<rect x="1702.61" y="611.90" width="7.00" height="60.80" fill="#249070"/>
<rect x="1709.62" y="611.90" width="0.80" height="60.80" fill="#7fc0ac" opacity="0.7"/>
<rect x="1710.42" y="623.96" width="7.00" height="48.74" fill="#249070"/>
<rect x="1717.42" y="623.96" width="0.80" height="48.74" fill="#7fc0ac" opacity="0.7"/>
<rect x="1718.22" y="479.24" width="7.00" height="193.46" fill="#249070"/>
<rect x="1725.22" y="479.24" width="0.80" height="193.46" fill="#7fc0ac" opacity="0.7"/>
<rect x="1726.02" y="527.48" width="7.00" height="145.22" fill="#249070"/>
<rect x="1733.02" y="527.48" width="0.80" height="145.22" fill="#7fc0ac" opacity="0.7"/>
<rect x="1733.82" y="611.90" width="7.00" height="60.80" fill="#249070"/>
<rect x="1740.82" y="611.90" width="0.80" height="60.80" fill="#7fc0ac" opacity="0.7"/>
<rect x="1741.62" y="623.96" width="7.00" height="48.74" fill="#a0ecc4"/>
<rect x="1748.63" y="623.96" width="0.80" height="48.74" fill="#c4f2da" opacity="0.7"/>
<rect x="1749.43" y="503.36" width="7.00" height="169.34" fill="#a0ecc4"/>
<rect x="1756.43" y="503.36" width="0.80" height="169.34" fill="#c4f2da" opacity="0.7"/>
</g>
<rect x="152.3" y="68.7" width="1.8" height="604.5" fill="#555"/>
<rect x="152.3" y="672.2" width="2248.2" height="1.6" fill="#777"/>
<rect x="141.2" y="671.55" width="11.3" height="1.3" fill="#808080"/>
<text x="120.10" y="678.60" font-size="17.8" font-weight="normal" fill="#333" textLength="11.20" lengthAdjust="spacingAndGlyphs" xml:space="preserve" >0</text>
<rect x="141.2" y="611.25" width="11.3" height="1.3" fill="#808080"/>
<text x="120.10" y="618.30" font-size="17.8" font-weight="normal" fill="#333" textLength="11.20" lengthAdjust="spacingAndGlyphs" xml:space="preserve" >5</text>
<rect x="141.2" y="550.95" width="11.3" height="1.3" fill="#808080"/>
<text x="108.90" y="558.00" font-size="17.8" font-weight="normal" fill="#333" textLength="22.40" lengthAdjust="spacingAndGlyphs" xml:space="preserve" >10</text>
<rect x="141.2" y="490.65" width="11.3" height="1.3" fill="#808080"/>
<text x="108.90" y="497.70" font-size="17.8" font-weight="normal" fill="#333" textLength="22.40" lengthAdjust="spacingAndGlyphs" xml:space="preserve" >15</text>
<rect x="141.2" y="430.35" width="11.3" height="1.3" fill="#808080"/>
<text x="108.90" y="437.40" font-size="17.8" font-weight="normal" fill="#333" textLength="22.40" lengthAdjust="spacingAndGlyphs" xml:space="preserve" >20</text>
<rect x="141.2" y="370.05" width="11.3" height="1.3" fill="#808080"/>
<text x="108.90" y="377.10" font-size="17.8" font-weight="normal" fill="#333" textLength="22.40" lengthAdjust="spacingAndGlyphs" xml:space="preserve" >25</text>
<rect x="141.2" y="309.75" width="11.3" height="1.3" fill="#808080"/>
<text x="108.90" y="316.80" font-size="17.8" font-weight="normal" fill="#333" textLength="22.40" lengthAdjust="spacingAndGlyphs" xml:space="preserve" >30</text>
<rect x="141.2" y="249.45" width="11.3" height="1.3" fill="#808080"/>
<text x="108.90" y="256.50" font-size="17.8" font-weight="normal" fill="#333" textLength="22.40" lengthAdjust="spacingAndGlyphs" xml:space="preserve" >35</text>
<rect x="141.2" y="189.15" width="11.3" height="1.3" fill="#808080"/>
<text x="108.90" y="196.20" font-size="17.8" font-weight="normal" fill="#333" textLength="22.40" lengthAdjust="spacingAndGlyphs" xml:space="preserve" >40</text>
<rect x="141.2" y="128.85" width="11.3" height="1.3" fill="#808080"/>
<text x="108.90" y="135.90" font-size="17.8" font-weight="normal" fill="#333" textLength="22.40" lengthAdjust="spacingAndGlyphs" xml:space="preserve" >45</text>
<rect x="141.2" y="68.55" width="11.3" height="1.3" fill="#808080"/>
<text x="108.90" y="75.60" font-size="17.8" font-weight="normal" fill="#333" textLength="22.40" lengthAdjust="spacingAndGlyphs" xml:space="preserve" >50</text>
<rect x="152.70" y="674.2" width="1.6" height="10" fill="#aaa"/>
<text x="142.55" y="706.90" font-size="17.8" font-weight="normal" fill="#000" textLength="22.90" lengthAdjust="spacingAndGlyphs" xml:space="preserve" >0h</text>
<rect x="246.32" y="674.2" width="1.6" height="10" fill="#aaa"/>
<text x="236.18" y="706.90" font-size="17.8" font-weight="normal" fill="#000" textLength="22.90" lengthAdjust="spacingAndGlyphs" xml:space="preserve" >1h</text>
<rect x="339.95" y="674.2" width="1.6" height="10" fill="#aaa"/>
<text x="329.80" y="706.90" font-size="17.8" font-weight="normal" fill="#000" textLength="22.90" lengthAdjust="spacingAndGlyphs" xml:space="preserve" >2h</text>
<rect x="433.57" y="674.2" width="1.6" height="10" fill="#aaa"/>
<text x="423.43" y="706.90" font-size="17.8" font-weight="normal" fill="#000" textLength="22.90" lengthAdjust="spacingAndGlyphs" xml:space="preserve" >3h</text>
<rect x="527.20" y="674.2" width="1.6" height="10" fill="#aaa"/>
<text x="517.05" y="706.90" font-size="17.8" font-weight="normal" fill="#000" textLength="22.90" lengthAdjust="spacingAndGlyphs" xml:space="preserve" >4h</text>
<rect x="620.83" y="674.2" width="1.6" height="10" fill="#aaa"/>
<text x="610.67" y="706.90" font-size="17.8" font-weight="normal" fill="#000" textLength="22.90" lengthAdjust="spacingAndGlyphs" xml:space="preserve" >5h</text>
<rect x="714.45" y="674.2" width="1.6" height="10" fill="#aaa"/>
<text x="704.30" y="706.90" font-size="17.8" font-weight="normal" fill="#000" textLength="22.90" lengthAdjust="spacingAndGlyphs" xml:space="preserve" >6h</text>
<rect x="808.08" y="674.2" width="1.6" height="10" fill="#aaa"/>
<text x="797.92" y="706.90" font-size="17.8" font-weight="normal" fill="#000" textLength="22.90" lengthAdjust="spacingAndGlyphs" xml:space="preserve" >7h</text>
<rect x="901.70" y="674.2" width="1.6" height="10" fill="#aaa"/>
<text x="891.55" y="706.90" font-size="17.8" font-weight="normal" fill="#000" textLength="22.90" lengthAdjust="spacingAndGlyphs" xml:space="preserve" >8h</text>
<rect x="995.33" y="674.2" width="1.6" height="10" fill="#aaa"/>
<text x="985.17" y="706.90" font-size="17.8" font-weight="normal" fill="#000" textLength="22.90" lengthAdjust="spacingAndGlyphs" xml:space="preserve" >9h</text>
<rect x="1088.95" y="674.2" width="1.6" height="10" fill="#aaa"/>
<text x="1073.15" y="706.90" font-size="17.8" font-weight="normal" fill="#000" textLength="34.20" lengthAdjust="spacingAndGlyphs" xml:space="preserve" >10h</text>
<rect x="1182.58" y="674.2" width="1.6" height="10" fill="#aaa"/>
<text x="1166.78" y="706.90" font-size="17.8" font-weight="normal" fill="#000" textLength="34.20" lengthAdjust="spacingAndGlyphs" xml:space="preserve" >11h</text>
<rect x="1276.20" y="674.2" width="1.6" height="10" fill="#aaa"/>
<text x="1260.40" y="706.90" font-size="17.8" font-weight="normal" fill="#000" textLength="34.20" lengthAdjust="spacingAndGlyphs" xml:space="preserve" >12h</text>
<rect x="1369.83" y="674.2" width="1.6" height="10" fill="#aaa"/>
<text x="1354.03" y="706.90" font-size="17.8" font-weight="normal" fill="#000" textLength="34.20" lengthAdjust="spacingAndGlyphs" xml:space="preserve" >13h</text>
<rect x="1463.45" y="674.2" width="1.6" height="10" fill="#aaa"/>
<text x="1447.65" y="706.90" font-size="17.8" font-weight="normal" fill="#000" textLength="34.20" lengthAdjust="spacingAndGlyphs" xml:space="preserve" >14h</text>
<rect x="1557.08" y="674.2" width="1.6" height="10" fill="#aaa"/>
<text x="1541.28" y="706.90" font-size="17.8" font-weight="normal" fill="#000" textLength="34.20" lengthAdjust="spacingAndGlyphs" xml:space="preserve" >15h</text>
<rect x="1650.70" y="674.2" width="1.6" height="10" fill="#aaa"/>
<text x="1634.90" y="706.90" font-size="17.8" font-weight="normal" fill="#000" textLength="34.20" lengthAdjust="spacingAndGlyphs" xml:space="preserve" >16h</text>
<rect x="1744.33" y="674.2" width="1.6" height="10" fill="#aaa"/>
<text x="1728.53" y="706.90" font-size="17.8" font-weight="normal" fill="#000" textLength="34.20" lengthAdjust="spacingAndGlyphs" xml:space="preserve" >17h</text>
<rect x="1837.95" y="674.2" width="1.6" height="10" fill="#aaa"/>
<text x="1822.15" y="706.90" font-size="17.8" font-weight="normal" fill="#000" textLength="34.20" lengthAdjust="spacingAndGlyphs" xml:space="preserve" >18h</text>
<rect x="1931.58" y="674.2" width="1.6" height="10" fill="#aaa"/>
<text x="1915.78" y="706.90" font-size="17.8" font-weight="normal" fill="#000" textLength="34.20" lengthAdjust="spacingAndGlyphs" xml:space="preserve" >19h</text>
<rect x="2025.20" y="674.2" width="1.6" height="10" fill="#aaa"/>
<text x="2009.40" y="706.90" font-size="17.8" font-weight="normal" fill="#000" textLength="34.20" lengthAdjust="spacingAndGlyphs" xml:space="preserve" >20h</text>
<rect x="2118.82" y="674.2" width="1.6" height="10" fill="#aaa"/>
<text x="2103.03" y="706.90" font-size="17.8" font-weight="normal" fill="#000" textLength="34.20" lengthAdjust="spacingAndGlyphs" xml:space="preserve" >21h</text>
<rect x="2212.45" y="674.2" width="1.6" height="10" fill="#aaa"/>
<text x="2196.65" y="706.90" font-size="17.8" font-weight="normal" fill="#000" textLength="34.20" lengthAdjust="spacingAndGlyphs" xml:space="preserve" >22h</text>
<rect x="2306.07" y="674.2" width="1.6" height="10" fill="#aaa"/>
<text x="2290.28" y="706.90" font-size="17.8" font-weight="normal" fill="#000" textLength="34.20" lengthAdjust="spacingAndGlyphs" xml:space="preserve" >23h</text>
<rect x="2399.70" y="674.2" width="1.6" height="10" fill="#aaa"/>
<text x="2389.55" y="706.90" font-size="17.8" font-weight="normal" fill="#000" textLength="22.90" lengthAdjust="spacingAndGlyphs" xml:space="preserve" >0h</text>
<g transform="translate(86.2,370.8) rotate(-90)">
<text x="-15.25" y="0.00" font-size="23.2" font-weight="normal" fill="#444" textLength="30.50" lengthAdjust="spacingAndGlyphs" xml:space="preserve" >kW</text>
</g>
<rect x="155.0" y="815.3" width="2262.0" height="505.60000000000014" fill="#fff" filter="url(#sh)"/>
<rect x="155.00" y="815.3" width="323.87" height="505.10000000000014" fill="#f0f0f0"/>
<rect x="801.74" y="815.3" width="322.87" height="505.10000000000014" fill="#f0f0f0"/>
<rect x="1447.48" y="815.3" width="322.87" height="505.10000000000014" fill="#f0f0f0"/>
<rect x="2093.22" y="815.3" width="323.78" height="505.10000000000014" fill="#f0f0f0"/>
<rect x="478.27" y="815.3" width="1.2" height="505.10000000000014" fill="#c4c4c4"/>
<rect x="801.14" y="815.3" width="1.2" height="505.10000000000014" fill="#c4c4c4"/>
<rect x="1124.01" y="815.3" width="1.2" height="505.10000000000014" fill="#c4c4c4"/>
<rect x="1446.88" y="815.3" width="1.2" height="505.10000000000014" fill="#c4c4c4"/>
<rect x="1769.75" y="815.3" width="1.2" height="505.10000000000014" fill="#c4c4c4"/>
<rect x="2092.62" y="815.3" width="1.2" height="505.10000000000014" fill="#c4c4c4"/>
<rect x="155.0" y="1236.22" width="2262.0" height="84.18" fill="#f0f0f0"/>
<rect x="155.0" y="1067.85" width="2262.0" height="84.18" fill="#f0f0f0"/>
<rect x="155.0" y="899.48" width="2262.0" height="84.18" fill="#f0f0f0"/>
<rect x="155.0" y="1235.62" width="2262.0" height="1.2" fill="#c4c4c4"/>
<rect x="155.0" y="1151.43" width="2262.0" height="1.2" fill="#c4c4c4"/>
<rect x="155.0" y="1067.25" width="2262.0" height="1.2" fill="#c4c4c4"/>
<rect x="155.0" y="983.07" width="2262.0" height="1.2" fill="#c4c4c4"/>
<rect x="155.0" y="898.88" width="2262.0" height="1.2" fill="#c4c4c4"/>
<rect x="155.0" y="814.70" width="2262.0" height="1.2" fill="#c4c4c4"/>
<g clip-path="url(#cpBot)">
<path d="M154.23 1320.4V1312.0h1.54V1320.4zM155.35 1320.4V1312.0h1.54V1320.4zM156.47 1320.4V1312.0h1.54V1320.4zM157.60 1320.4V1312.0h1.54V1320.4zM158.72 1320.4V1312.0h1.54V1320.4zM159.84 1320.4V1312.0h1.54V1320.4zM160.96 1320.4V1312.0h1.54V1320.4zM162.08 1320.4V1312.0h1.54V1320.4zM163.21 1320.4V1312.0h1.54V1320.4zM164.33 1320.4V1312.0h1.54V1320.4zM165.45 1320.4V1312.0h1.54V1320.4zM166.57 1320.4V1312.0h1.54V1320.4zM167.70 1320.4V1312.0h1.54V1320.4zM168.82 1320.4V1303.6h1.54V1320.4zM169.94 1320.4V1303.6h1.54V1320.4zM171.06 1320.4V1303.6h1.54V1320.4zM172.18 1320.4V1303.6h1.54V1320.4zM173.31 1320.4V1295.1h1.54V1320.4zM174.43 1320.4V1295.1h1.54V1320.4zM175.55 1320.4V1312.0h1.54V1320.4zM176.67 1320.4V1312.0h1.54V1320.4zM177.80 1320.4V1303.6h1.54V1320.4zM178.92 1320.4V1303.6h1.54V1320.4zM180.04 1320.4V1312.0h1.54V1320.4zM181.16 1320.4V1312.0h1.54V1320.4zM182.28 1320.4V1312.0h1.54V1320.4zM183.41 1320.4V1312.0h1.54V1320.4zM184.53 1320.4V1312.0h1.54V1320.4zM185.65 1320.4V1312.0h1.54V1320.4zM186.77 1320.4V1312.0h1.54V1320.4zM187.89 1320.4V1312.0h1.54V1320.4zM189.02 1320.4V1312.0h1.54V1320.4zM190.14 1320.4V1312.0h1.54V1320.4zM191.26 1320.4V1312.0h1.54V1320.4zM192.38 1320.4V1312.0h1.54V1320.4zM193.51 1320.4V1312.0h1.54V1320.4zM194.63 1320.4V1295.1h1.54V1320.4zM195.75 1320.4V1295.1h1.54V1320.4zM196.87 1320.4V1295.1h1.54V1320.4zM197.99 1320.4V1295.1h1.54V1320.4zM199.12 1320.4V1312.0h1.54V1320.4zM200.24 1320.4V1312.0h1.54V1320.4zM201.36 1320.4V1312.0h1.54V1320.4zM202.48 1320.4V1295.1h1.54V1320.4zM203.61 1320.4V1295.1h1.54V1320.4zM204.73 1320.4V1312.0h1.54V1320.4zM205.85 1320.4V1303.6h1.54V1320.4zM206.97 1320.4V1303.6h1.54V1320.4zM208.09 1320.4V1312.0h1.54V1320.4zM209.22 1320.4V1312.0h1.54V1320.4zM210.34 1320.4V1312.0h1.54V1320.4zM211.46 1320.4V1303.6h1.54V1320.4zM212.58 1320.4V1303.6h1.54V1320.4zM213.71 1320.4V1303.6h1.54V1320.4zM214.83 1320.4V1303.6h1.54V1320.4zM215.95 1320.4V1303.6h1.54V1320.4zM217.07 1320.4V1303.6h1.54V1320.4zM218.19 1320.4V1303.6h1.54V1320.4zM219.32 1320.4V1303.6h1.54V1320.4zM220.44 1320.4V1303.6h1.54V1320.4zM221.56 1320.4V1303.6h1.54V1320.4zM222.68 1320.4V1303.6h1.54V1320.4zM223.81 1320.4V1303.6h1.54V1320.4zM224.93 1320.4V1303.6h1.54V1320.4zM226.05 1320.4V1303.6h1.54V1320.4zM227.17 1320.4V1295.1h1.54V1320.4zM228.29 1320.4V1295.1h1.54V1320.4zM229.42 1320.4V1253.1h1.54V1320.4zM230.54 1320.4V1185.7h1.54V1320.4zM231.66 1320.4V1118.4h1.54V1320.4zM232.78 1320.4V1118.4h1.54V1320.4zM233.91 1320.4V1168.9h1.54V1320.4zM235.03 1320.4V1168.9h1.54V1320.4zM383.16 1320.4V1227.8h1.54V1320.4zM384.28 1320.4V1227.8h1.54V1320.4zM385.40 1320.4V1135.2h1.54V1320.4zM386.52 1320.4V1109.9h1.54V1320.4zM387.65 1320.4V1109.9h1.54V1320.4zM388.77 1320.4V1118.4h1.54V1320.4zM389.89 1320.4V1126.8h1.54V1320.4zM391.01 1320.4V1269.9h1.54V1320.4zM392.14 1320.4V1269.9h1.54V1320.4zM393.26 1320.4V1253.1h1.54V1320.4zM394.38 1320.4V1244.6h1.54V1320.4zM395.50 1320.4V1278.3h1.54V1320.4zM396.62 1320.4V1295.1h1.54V1320.4zM397.75 1320.4V1312.0h1.54V1320.4zM398.87 1320.4V1303.6h1.54V1320.4zM399.99 1320.4V1303.6h1.54V1320.4zM401.11 1320.4V1303.6h1.54V1320.4zM402.24 1320.4V1303.6h1.54V1320.4zM403.36 1320.4V1303.6h1.54V1320.4zM404.48 1320.4V1312.0h1.54V1320.4zM405.60 1320.4V1312.0h1.54V1320.4zM406.72 1320.4V1303.6h1.54V1320.4zM407.85 1320.4V1312.0h1.54V1320.4zM408.97 1320.4V1312.0h1.54V1320.4zM410.09 1320.4V1295.1h1.54V1320.4zM411.21 1320.4V1312.0h1.54V1320.4zM412.33 1320.4V1312.0h1.54V1320.4zM413.46 1320.4V1303.6h1.54V1320.4zM414.58 1320.4V1303.6h1.54V1320.4zM415.70 1320.4V1303.6h1.54V1320.4zM416.82 1320.4V1303.6h1.54V1320.4zM417.95 1320.4V1295.1h1.54V1320.4zM419.07 1320.4V1312.0h1.54V1320.4zM420.19 1320.4V1303.6h1.54V1320.4zM421.31 1320.4V1312.0h1.54V1320.4zM422.43 1320.4V1312.0h1.54V1320.4zM423.56 1320.4V1295.1h1.54V1320.4zM424.68 1320.4V1312.0h1.54V1320.4zM425.80 1320.4V1312.0h1.54V1320.4zM426.92 1320.4V1312.0h1.54V1320.4zM428.05 1320.4V1303.6h1.54V1320.4zM429.17 1320.4V1312.0h1.54V1320.4zM430.29 1320.4V1312.0h1.54V1320.4zM431.41 1320.4V1303.6h1.54V1320.4zM432.53 1320.4V1303.6h1.54V1320.4zM433.66 1320.4V1303.6h1.54V1320.4zM434.78 1320.4V1312.0h1.54V1320.4zM435.90 1320.4V1303.6h1.54V1320.4zM437.02 1320.4V1312.0h1.54V1320.4zM438.15 1320.4V1312.0h1.54V1320.4zM439.27 1320.4V1312.0h1.54V1320.4zM440.39 1320.4V1312.0h1.54V1320.4zM441.51 1320.4V1312.0h1.54V1320.4zM442.63 1320.4V1312.0h1.54V1320.4zM443.76 1320.4V1312.0h1.54V1320.4zM444.88 1320.4V1312.0h1.54V1320.4zM446.00 1320.4V1295.1h1.54V1320.4zM447.12 1320.4V1312.0h1.54V1320.4zM448.25 1320.4V1312.0h1.54V1320.4zM449.37 1320.4V1312.0h1.54V1320.4zM450.49 1320.4V1312.0h1.54V1320.4zM451.61 1320.4V1303.6h1.54V1320.4zM452.73 1320.4V1312.0h1.54V1320.4zM453.86 1320.4V1303.6h1.54V1320.4zM454.98 1320.4V1312.0h1.54V1320.4zM456.10 1320.4V1303.6h1.54V1320.4zM457.22 1320.4V1303.6h1.54V1320.4zM458.35 1320.4V1303.6h1.54V1320.4zM459.47 1320.4V1303.6h1.54V1320.4zM460.59 1320.4V1303.6h1.54V1320.4zM461.71 1320.4V1303.6h1.54V1320.4zM462.83 1320.4V1303.6h1.54V1320.4zM463.96 1320.4V1312.0h1.54V1320.4zM465.08 1320.4V1312.0h1.54V1320.4zM466.20 1320.4V1303.6h1.54V1320.4zM467.32 1320.4V1303.6h1.54V1320.4zM468.44 1320.4V1303.6h1.54V1320.4zM469.57 1320.4V1303.6h1.54V1320.4zM470.69 1320.4V1303.6h1.54V1320.4zM471.81 1320.4V1312.0h1.54V1320.4zM472.93 1320.4V1312.0h1.54V1320.4zM474.06 1320.4V1312.0h1.54V1320.4zM475.18 1320.4V1312.0h1.54V1320.4zM476.30 1320.4V1312.0h1.54V1320.4zM477.37 1320.4V1312.0h1.54V1320.4zM478.49 1320.4V1303.6h1.54V1320.4zM479.61 1320.4V1312.0h1.54V1320.4zM480.74 1320.4V1312.0h1.54V1320.4zM481.86 1320.4V1312.0h1.54V1320.4zM482.98 1320.4V1312.0h1.54V1320.4zM484.10 1320.4V1303.6h1.54V1320.4zM485.22 1320.4V1312.0h1.54V1320.4zM486.35 1320.4V1312.0h1.54V1320.4zM487.47 1320.4V1312.0h1.54V1320.4zM488.59 1320.4V1303.6h1.54V1320.4zM489.71 1320.4V1312.0h1.54V1320.4zM490.84 1320.4V1312.0h1.54V1320.4zM491.96 1320.4V1312.0h1.54V1320.4zM493.08 1320.4V1312.0h1.54V1320.4zM494.20 1320.4V1312.0h1.54V1320.4zM495.32 1320.4V1312.0h1.54V1320.4zM496.45 1320.4V1312.0h1.54V1320.4zM497.57 1320.4V1312.0h1.54V1320.4zM498.69 1320.4V1303.6h1.54V1320.4zM499.81 1320.4V1303.6h1.54V1320.4zM500.94 1320.4V1303.6h1.54V1320.4zM502.06 1320.4V1312.0h1.54V1320.4zM503.18 1320.4V1312.0h1.54V1320.4zM504.30 1320.4V1312.0h1.54V1320.4zM505.42 1320.4V1312.0h1.54V1320.4zM506.55 1320.4V1312.0h1.54V1320.4zM507.67 1320.4V1295.1h1.54V1320.4zM508.79 1320.4V1295.1h1.54V1320.4zM509.91 1320.4V1312.0h1.54V1320.4zM511.03 1320.4V1312.0h1.54V1320.4zM512.16 1320.4V1312.0h1.54V1320.4zM513.28 1320.4V1312.0h1.54V1320.4zM514.40 1320.4V1295.1h1.54V1320.4zM515.52 1320.4V1312.0h1.54V1320.4zM516.65 1320.4V1312.0h1.54V1320.4zM517.77 1320.4V1312.0h1.54V1320.4zM518.89 1320.4V1312.0h1.54V1320.4zM520.01 1320.4V1312.0h1.54V1320.4zM521.13 1320.4V1303.6h1.54V1320.4zM522.26 1320.4V1303.6h1.54V1320.4zM523.38 1320.4V1312.0h1.54V1320.4zM524.50 1320.4V1312.0h1.54V1320.4zM525.62 1320.4V1312.0h1.54V1320.4zM526.75 1320.4V1312.0h1.54V1320.4zM527.87 1320.4V1312.0h1.54V1320.4zM528.99 1320.4V1312.0h1.54V1320.4zM530.11 1320.4V1312.0h1.54V1320.4zM531.23 1320.4V1295.1h1.54V1320.4zM532.36 1320.4V1312.0h1.54V1320.4zM533.48 1320.4V1303.6h1.54V1320.4zM534.60 1320.4V1303.6h1.54V1320.4zM535.72 1320.4V1303.6h1.54V1320.4zM536.85 1320.4V1303.6h1.54V1320.4zM537.97 1320.4V1312.0h1.54V1320.4zM539.09 1320.4V1312.0h1.54V1320.4zM540.21 1320.4V1312.0h1.54V1320.4zM541.33 1320.4V1312.0h1.54V1320.4zM542.46 1320.4V1312.0h1.54V1320.4zM543.58 1320.4V1312.0h1.54V1320.4zM544.70 1320.4V1303.6h1.54V1320.4zM545.82 1320.4V1312.0h1.54V1320.4zM546.95 1320.4V1303.6h1.54V1320.4zM548.07 1320.4V1303.6h1.54V1320.4zM549.19 1320.4V1303.6h1.54V1320.4zM550.31 1320.4V1303.6h1.54V1320.4zM551.43 1320.4V1286.7h1.54V1320.4zM552.56 1320.4V1194.1h1.54V1320.4zM553.68 1320.4V1084.7h1.54V1320.4zM554.80 1320.4V1152.0h1.54V1320.4zM555.92 1320.4V1194.1h1.54V1320.4zM557.05 1320.4V1278.3h1.54V1320.4zM558.17 1320.4V1278.3h1.54V1320.4zM706.30 1320.4V1227.8h1.54V1320.4zM707.42 1320.4V1227.8h1.54V1320.4zM708.54 1320.4V1093.1h1.54V1320.4zM709.66 1320.4V1093.1h1.54V1320.4zM710.79 1320.4V1177.3h1.54V1320.4zM711.91 1320.4V1236.2h1.54V1320.4zM713.03 1320.4V1236.2h1.54V1320.4zM714.15 1320.4V1236.2h1.54V1320.4zM715.28 1320.4V1211.0h1.54V1320.4zM716.40 1320.4V1211.0h1.54V1320.4zM717.52 1320.4V1253.1h1.54V1320.4zM718.64 1320.4V1253.1h1.54V1320.4zM719.76 1320.4V1312.0h1.54V1320.4zM720.89 1320.4V1303.6h1.54V1320.4zM722.01 1320.4V1303.6h1.54V1320.4zM723.13 1320.4V1295.1h1.54V1320.4zM724.25 1320.4V1303.6h1.54V1320.4zM725.38 1320.4V1303.6h1.54V1320.4zM726.50 1320.4V1312.0h1.54V1320.4zM727.62 1320.4V1303.6h1.54V1320.4zM728.74 1320.4V1295.1h1.54V1320.4zM729.86 1320.4V1303.6h1.54V1320.4zM730.99 1320.4V1303.6h1.54V1320.4zM732.11 1320.4V1312.0h1.54V1320.4zM733.23 1320.4V1303.6h1.54V1320.4zM734.35 1320.4V1312.0h1.54V1320.4zM735.47 1320.4V1312.0h1.54V1320.4zM736.60 1320.4V1253.1h1.54V1320.4zM737.72 1320.4V1269.9h1.54V1320.4zM738.84 1320.4V1303.6h1.54V1320.4zM739.96 1320.4V1312.0h1.54V1320.4zM741.09 1320.4V1295.1h1.54V1320.4zM742.21 1320.4V1312.0h1.54V1320.4zM743.33 1320.4V1312.0h1.54V1320.4zM744.45 1320.4V1312.0h1.54V1320.4zM745.57 1320.4V1312.0h1.54V1320.4zM746.70 1320.4V1312.0h1.54V1320.4zM747.82 1320.4V1312.0h1.54V1320.4zM748.94 1320.4V1312.0h1.54V1320.4zM750.06 1320.4V1312.0h1.54V1320.4zM751.19 1320.4V1303.6h1.54V1320.4zM752.31 1320.4V1303.6h1.54V1320.4zM753.43 1320.4V1303.6h1.54V1320.4zM754.55 1320.4V1312.0h1.54V1320.4zM755.67 1320.4V1312.0h1.54V1320.4zM756.80 1320.4V1312.0h1.54V1320.4zM757.92 1320.4V1312.0h1.54V1320.4zM759.04 1320.4V1303.6h1.54V1320.4zM760.16 1320.4V1312.0h1.54V1320.4zM761.29 1320.4V1303.6h1.54V1320.4zM762.41 1320.4V1303.6h1.54V1320.4zM763.53 1320.4V1303.6h1.54V1320.4zM764.65 1320.4V1303.6h1.54V1320.4zM765.77 1320.4V1312.0h1.54V1320.4zM766.90 1320.4V1312.0h1.54V1320.4zM768.02 1320.4V1312.0h1.54V1320.4zM769.14 1320.4V1312.0h1.54V1320.4zM770.26 1320.4V1312.0h1.54V1320.4zM771.39 1320.4V1312.0h1.54V1320.4zM772.51 1320.4V1312.0h1.54V1320.4zM773.63 1320.4V1312.0h1.54V1320.4zM774.75 1320.4V1312.0h1.54V1320.4zM775.87 1320.4V1312.0h1.54V1320.4zM777.00 1320.4V1303.6h1.54V1320.4zM778.12 1320.4V1303.6h1.54V1320.4zM779.24 1320.4V1303.6h1.54V1320.4zM780.36 1320.4V1303.6h1.54V1320.4zM781.49 1320.4V1303.6h1.54V1320.4zM782.61 1320.4V1303.6h1.54V1320.4zM783.73 1320.4V1303.6h1.54V1320.4zM784.85 1320.4V1303.6h1.54V1320.4zM785.97 1320.4V1312.0h1.54V1320.4zM787.10 1320.4V1303.6h1.54V1320.4zM788.22 1320.4V1312.0h1.54V1320.4zM789.34 1320.4V1312.0h1.54V1320.4zM790.46 1320.4V1312.0h1.54V1320.4zM791.58 1320.4V1312.0h1.54V1320.4zM792.71 1320.4V1303.6h1.54V1320.4zM793.83 1320.4V1312.0h1.54V1320.4zM794.95 1320.4V1312.0h1.54V1320.4zM796.07 1320.4V1312.0h1.54V1320.4zM797.20 1320.4V1312.0h1.54V1320.4zM798.32 1320.4V1312.0h1.54V1320.4zM799.44 1320.4V1312.0h1.54V1320.4zM800.51 1320.4V1312.0h1.54V1320.4zM801.63 1320.4V1312.0h1.54V1320.4zM802.75 1320.4V1303.6h1.54V1320.4zM803.88 1320.4V1312.0h1.54V1320.4zM805.00 1320.4V1312.0h1.54V1320.4zM806.12 1320.4V1312.0h1.54V1320.4zM807.24 1320.4V1312.0h1.54V1320.4zM808.36 1320.4V1312.0h1.54V1320.4zM809.49 1320.4V1312.0h1.54V1320.4zM810.61 1320.4V1312.0h1.54V1320.4zM811.73 1320.4V1303.6h1.54V1320.4zM812.85 1320.4V1303.6h1.54V1320.4zM813.98 1320.4V1312.0h1.54V1320.4zM815.10 1320.4V1312.0h1.54V1320.4zM816.22 1320.4V1312.0h1.54V1320.4zM817.34 1320.4V1312.0h1.54V1320.4zM818.46 1320.4V1303.6h1.54V1320.4zM819.59 1320.4V1303.6h1.54V1320.4zM820.71 1320.4V1303.6h1.54V1320.4zM821.83 1320.4V1312.0h1.54V1320.4zM822.95 1320.4V1312.0h1.54V1320.4zM824.08 1320.4V1312.0h1.54V1320.4zM825.20 1320.4V1312.0h1.54V1320.4zM826.32 1320.4V1312.0h1.54V1320.4zM827.44 1320.4V1312.0h1.54V1320.4zM828.56 1320.4V1312.0h1.54V1320.4zM829.69 1320.4V1312.0h1.54V1320.4zM830.81 1320.4V1312.0h1.54V1320.4zM831.93 1320.4V1312.0h1.54V1320.4zM833.05 1320.4V1312.0h1.54V1320.4zM834.17 1320.4V1312.0h1.54V1320.4zM835.30 1320.4V1312.0h1.54V1320.4zM836.42 1320.4V1312.0h1.54V1320.4zM837.54 1320.4V1312.0h1.54V1320.4zM838.66 1320.4V1312.0h1.54V1320.4zM839.79 1320.4V1312.0h1.54V1320.4zM840.91 1320.4V1303.6h1.54V1320.4zM842.03 1320.4V1303.6h1.54V1320.4zM843.15 1320.4V1303.6h1.54V1320.4zM844.27 1320.4V1303.6h1.54V1320.4zM845.40 1320.4V1303.6h1.54V1320.4zM846.52 1320.4V1303.6h1.54V1320.4zM847.64 1320.4V1312.0h1.54V1320.4zM848.76 1320.4V1312.0h1.54V1320.4zM849.89 1320.4V1312.0h1.54V1320.4zM851.01 1320.4V1312.0h1.54V1320.4zM852.13 1320.4V1312.0h1.54V1320.4zM853.25 1320.4V1312.0h1.54V1320.4zM854.37 1320.4V1312.0h1.54V1320.4zM855.50 1320.4V1312.0h1.54V1320.4zM856.62 1320.4V1312.0h1.54V1320.4zM857.74 1320.4V1312.0h1.54V1320.4zM858.86 1320.4V1312.0h1.54V1320.4zM859.99 1320.4V1312.0h1.54V1320.4zM861.11 1320.4V1303.6h1.54V1320.4zM862.23 1320.4V1312.0h1.54V1320.4zM863.35 1320.4V1312.0h1.54V1320.4zM864.47 1320.4V1312.0h1.54V1320.4zM865.60 1320.4V1312.0h1.54V1320.4zM866.72 1320.4V1312.0h1.54V1320.4zM867.84 1320.4V1312.0h1.54V1320.4zM868.96 1320.4V1312.0h1.54V1320.4zM870.09 1320.4V1295.1h1.54V1320.4zM871.21 1320.4V1295.1h1.54V1320.4zM872.33 1320.4V1303.6h1.54V1320.4zM873.45 1320.4V1303.6h1.54V1320.4zM874.57 1320.4V1160.5h1.54V1320.4zM875.70 1320.4V1160.5h1.54V1320.4zM876.82 1320.4V1202.5h1.54V1320.4zM877.94 1320.4V1219.4h1.54V1320.4zM879.06 1320.4V1253.1h1.54V1320.4zM880.19 1320.4V1286.7h1.54V1320.4zM881.31 1320.4V1211.0h1.54V1320.4zM1029.44 1320.4V1194.1h1.54V1320.4zM1030.56 1320.4V1194.1h1.54V1320.4zM1031.68 1320.4V1177.3h1.54V1320.4zM1032.80 1320.4V1177.3h1.54V1320.4zM1033.93 1320.4V1219.4h1.54V1320.4zM1035.05 1320.4V1219.4h1.54V1320.4zM1036.17 1320.4V1244.6h1.54V1320.4zM1037.29 1320.4V1244.6h1.54V1320.4zM1038.42 1320.4V1253.1h1.54V1320.4zM1039.54 1320.4V1236.2h1.54V1320.4zM1040.66 1320.4V1236.2h1.54V1320.4zM1041.78 1320.4V1194.1h1.54V1320.4zM1042.90 1320.4V1185.7h1.54V1320.4zM1044.03 1320.4V1185.7h1.54V1320.4zM1045.15 1320.4V1126.8h1.54V1320.4zM1046.27 1320.4V1126.8h1.54V1320.4zM1047.39 1320.4V1194.1h1.54V1320.4zM1048.52 1320.4V1202.5h1.54V1320.4zM1049.64 1320.4V1227.8h1.54V1320.4zM1050.76 1320.4V1244.6h1.54V1320.4zM1051.88 1320.4V1244.6h1.54V1320.4zM1053.00 1320.4V1286.7h1.54V1320.4zM1054.13 1320.4V1295.1h1.54V1320.4zM1055.25 1320.4V1295.1h1.54V1320.4zM1056.37 1320.4V1295.1h1.54V1320.4zM1057.49 1320.4V1303.6h1.54V1320.4zM1058.61 1320.4V1295.1h1.54V1320.4zM1059.74 1320.4V1295.1h1.54V1320.4zM1060.86 1320.4V1312.0h1.54V1320.4zM1061.98 1320.4V1303.6h1.54V1320.4zM1063.10 1320.4V1303.6h1.54V1320.4zM1064.23 1320.4V1312.0h1.54V1320.4zM1065.35 1320.4V1312.0h1.54V1320.4zM1066.47 1320.4V1303.6h1.54V1320.4zM1067.59 1320.4V1303.6h1.54V1320.4zM1068.71 1320.4V1303.6h1.54V1320.4zM1069.84 1320.4V1303.6h1.54V1320.4zM1070.96 1320.4V1312.0h1.54V1320.4zM1072.08 1320.4V1303.6h1.54V1320.4zM1073.20 1320.4V1312.0h1.54V1320.4zM1074.33 1320.4V1312.0h1.54V1320.4zM1075.45 1320.4V1312.0h1.54V1320.4zM1076.57 1320.4V1312.0h1.54V1320.4zM1077.69 1320.4V1303.6h1.54V1320.4zM1078.81 1320.4V1303.6h1.54V1320.4zM1079.94 1320.4V1303.6h1.54V1320.4zM1081.06 1320.4V1303.6h1.54V1320.4zM1082.18 1320.4V1312.0h1.54V1320.4zM1083.30 1320.4V1312.0h1.54V1320.4zM1084.43 1320.4V1312.0h1.54V1320.4zM1085.55 1320.4V1303.6h1.54V1320.4zM1086.67 1320.4V1295.1h1.54V1320.4zM1087.79 1320.4V1312.0h1.54V1320.4zM1088.91 1320.4V1312.0h1.54V1320.4zM1090.04 1320.4V1312.0h1.54V1320.4zM1091.16 1320.4V1312.0h1.54V1320.4zM1092.28 1320.4V1312.0h1.54V1320.4zM1093.40 1320.4V1312.0h1.54V1320.4zM1094.53 1320.4V1312.0h1.54V1320.4zM1095.65 1320.4V1312.0h1.54V1320.4zM1096.77 1320.4V1312.0h1.54V1320.4zM1097.89 1320.4V1312.0h1.54V1320.4zM1099.01 1320.4V1312.0h1.54V1320.4zM1100.14 1320.4V1312.0h1.54V1320.4zM1101.26 1320.4V1312.0h1.54V1320.4zM1102.38 1320.4V1312.0h1.54V1320.4zM1103.50 1320.4V1312.0h1.54V1320.4zM1104.63 1320.4V1312.0h1.54V1320.4zM1105.75 1320.4V1312.0h1.54V1320.4zM1106.87 1320.4V1303.6h1.54V1320.4zM1107.99 1320.4V1303.6h1.54V1320.4zM1109.11 1320.4V1312.0h1.54V1320.4zM1110.24 1320.4V1312.0h1.54V1320.4zM1111.36 1320.4V1312.0h1.54V1320.4zM1112.48 1320.4V1303.6h1.54V1320.4zM1113.60 1320.4V1303.6h1.54V1320.4zM1114.72 1320.4V1303.6h1.54V1320.4zM1115.85 1320.4V1312.0h1.54V1320.4zM1116.97 1320.4V1312.0h1.54V1320.4zM1118.09 1320.4V1312.0h1.54V1320.4zM1119.21 1320.4V1312.0h1.54V1320.4zM1120.34 1320.4V1312.0h1.54V1320.4zM1121.46 1320.4V1312.0h1.54V1320.4zM1122.58 1320.4V1303.6h1.54V1320.4zM1123.65 1320.4V1312.0h1.54V1320.4zM1124.77 1320.4V1286.7h1.54V1320.4zM1125.89 1320.4V1312.0h1.54V1320.4zM1127.02 1320.4V1312.0h1.54V1320.4zM1128.14 1320.4V1312.0h1.54V1320.4zM1129.26 1320.4V1312.0h1.54V1320.4zM1130.38 1320.4V1303.6h1.54V1320.4zM1131.50 1320.4V1303.6h1.54V1320.4zM1132.63 1320.4V1303.6h1.54V1320.4zM1133.75 1320.4V1303.6h1.54V1320.4zM1134.87 1320.4V1303.6h1.54V1320.4zM1135.99 1320.4V1303.6h1.54V1320.4zM1137.12 1320.4V1303.6h1.54V1320.4zM1138.24 1320.4V1303.6h1.54V1320.4zM1139.36 1320.4V1303.6h1.54V1320.4zM1140.48 1320.4V1303.6h1.54V1320.4zM1141.60 1320.4V1303.6h1.54V1320.4zM1142.73 1320.4V1303.6h1.54V1320.4zM1143.85 1320.4V1303.6h1.54V1320.4zM1144.97 1320.4V1303.6h1.54V1320.4zM1146.09 1320.4V1303.6h1.54V1320.4zM1147.22 1320.4V1295.1h1.54V1320.4zM1148.34 1320.4V1295.1h1.54V1320.4zM1149.46 1320.4V1295.1h1.54V1320.4zM1150.58 1320.4V1303.6h1.54V1320.4zM1151.70 1320.4V1303.6h1.54V1320.4zM1152.83 1320.4V1303.6h1.54V1320.4zM1153.95 1320.4V1303.6h1.54V1320.4zM1155.07 1320.4V1303.6h1.54V1320.4zM1156.19 1320.4V1303.6h1.54V1320.4zM1157.31 1320.4V1295.1h1.54V1320.4zM1158.44 1320.4V1295.1h1.54V1320.4zM1159.56 1320.4V1295.1h1.54V1320.4zM1160.68 1320.4V1295.1h1.54V1320.4zM1161.80 1320.4V1295.1h1.54V1320.4zM1162.93 1320.4V1295.1h1.54V1320.4zM1164.05 1320.4V1303.6h1.54V1320.4zM1165.17 1320.4V1303.6h1.54V1320.4zM1166.29 1320.4V1295.1h1.54V1320.4zM1167.41 1320.4V1303.6h1.54V1320.4zM1168.54 1320.4V1303.6h1.54V1320.4zM1169.66 1320.4V1295.1h1.54V1320.4zM1170.78 1320.4V1303.6h1.54V1320.4zM1171.90 1320.4V1303.6h1.54V1320.4zM1173.03 1320.4V1295.1h1.54V1320.4zM1174.15 1320.4V1295.1h1.54V1320.4zM1175.27 1320.4V1295.1h1.54V1320.4zM1176.39 1320.4V1295.1h1.54V1320.4zM1177.51 1320.4V1295.1h1.54V1320.4zM1178.64 1320.4V1295.1h1.54V1320.4zM1179.76 1320.4V1295.1h1.54V1320.4zM1180.88 1320.4V1295.1h1.54V1320.4zM1182.00 1320.4V1295.1h1.54V1320.4zM1183.13 1320.4V1295.1h1.54V1320.4zM1184.25 1320.4V1295.1h1.54V1320.4zM1185.37 1320.4V1295.1h1.54V1320.4zM1186.49 1320.4V1295.1h1.54V1320.4zM1187.61 1320.4V1278.3h1.54V1320.4zM1188.74 1320.4V1295.1h1.54V1320.4zM1189.86 1320.4V1295.1h1.54V1320.4zM1190.98 1320.4V1295.1h1.54V1320.4zM1192.10 1320.4V1295.1h1.54V1320.4zM1193.23 1320.4V1295.1h1.54V1320.4zM1194.35 1320.4V1295.1h1.54V1320.4zM1195.47 1320.4V1295.1h1.54V1320.4zM1196.59 1320.4V1219.4h1.54V1320.4zM1197.71 1320.4V1126.8h1.54V1320.4zM1198.84 1320.4V1160.5h1.54V1320.4zM1199.96 1320.4V1194.1h1.54V1320.4zM1201.08 1320.4V1194.1h1.54V1320.4zM1202.20 1320.4V1202.5h1.54V1320.4zM1203.33 1320.4V1253.1h1.54V1320.4zM1204.45 1320.4V1286.7h1.54V1320.4zM1352.58 1320.4V1269.9h1.54V1320.4zM1353.70 1320.4V1177.3h1.54V1320.4zM1354.82 1320.4V1177.3h1.54V1320.4zM1355.94 1320.4V1185.7h1.54V1320.4zM1357.07 1320.4V1211.0h1.54V1320.4zM1358.19 1320.4V1236.2h1.54V1320.4zM1359.31 1320.4V1253.1h1.54V1320.4zM1360.43 1320.4V1253.1h1.54V1320.4zM1361.56 1320.4V1253.1h1.54V1320.4zM1362.68 1320.4V1253.1h1.54V1320.4zM1363.80 1320.4V1253.1h1.54V1320.4zM1364.92 1320.4V1244.6h1.54V1320.4zM1366.04 1320.4V1244.6h1.54V1320.4zM1367.17 1320.4V1312.0h1.54V1320.4zM1368.29 1320.4V1312.0h1.54V1320.4zM1369.41 1320.4V1286.7h1.54V1320.4zM1370.53 1320.4V1312.0h1.54V1320.4zM1371.66 1320.4V1312.0h1.54V1320.4zM1372.78 1320.4V1303.6h1.54V1320.4zM1373.90 1320.4V1303.6h1.54V1320.4zM1375.02 1320.4V1303.6h1.54V1320.4zM1376.14 1320.4V1303.6h1.54V1320.4zM1377.27 1320.4V1303.6h1.54V1320.4zM1378.39 1320.4V1303.6h1.54V1320.4zM1379.51 1320.4V1303.6h1.54V1320.4zM1380.63 1320.4V1303.6h1.54V1320.4zM1381.75 1320.4V1312.0h1.54V1320.4zM1382.88 1320.4V1312.0h1.54V1320.4zM1384.00 1320.4V1312.0h1.54V1320.4zM1385.12 1320.4V1312.0h1.54V1320.4zM1386.24 1320.4V1303.6h1.54V1320.4zM1387.37 1320.4V1312.0h1.54V1320.4zM1388.49 1320.4V1312.0h1.54V1320.4zM1389.61 1320.4V1303.6h1.54V1320.4zM1390.73 1320.4V1312.0h1.54V1320.4zM1391.85 1320.4V1312.0h1.54V1320.4zM1392.98 1320.4V1312.0h1.54V1320.4zM1394.10 1320.4V1312.0h1.54V1320.4zM1395.22 1320.4V1312.0h1.54V1320.4zM1396.34 1320.4V1312.0h1.54V1320.4zM1397.47 1320.4V1312.0h1.54V1320.4zM1398.59 1320.4V1303.6h1.54V1320.4zM1399.71 1320.4V1295.1h1.54V1320.4zM1400.83 1320.4V1303.6h1.54V1320.4zM1401.95 1320.4V1312.0h1.54V1320.4zM1403.08 1320.4V1312.0h1.54V1320.4zM1404.20 1320.4V1312.0h1.54V1320.4zM1405.32 1320.4V1312.0h1.54V1320.4zM1406.44 1320.4V1303.6h1.54V1320.4zM1407.57 1320.4V1303.6h1.54V1320.4zM1408.69 1320.4V1303.6h1.54V1320.4zM1409.81 1320.4V1303.6h1.54V1320.4zM1410.93 1320.4V1303.6h1.54V1320.4zM1412.05 1320.4V1303.6h1.54V1320.4zM1413.18 1320.4V1303.6h1.54V1320.4zM1414.30 1320.4V1312.0h1.54V1320.4zM1415.42 1320.4V1312.0h1.54V1320.4zM1416.54 1320.4V1312.0h1.54V1320.4zM1417.67 1320.4V1312.0h1.54V1320.4zM1418.79 1320.4V1312.0h1.54V1320.4zM1419.91 1320.4V1303.6h1.54V1320.4zM1421.03 1320.4V1312.0h1.54V1320.4zM1422.15 1320.4V1312.0h1.54V1320.4zM1423.28 1320.4V1312.0h1.54V1320.4zM1424.40 1320.4V1295.1h1.54V1320.4zM1425.52 1320.4V1312.0h1.54V1320.4zM1426.64 1320.4V1312.0h1.54V1320.4zM1427.77 1320.4V1312.0h1.54V1320.4zM1428.89 1320.4V1312.0h1.54V1320.4zM1430.01 1320.4V1312.0h1.54V1320.4zM1431.13 1320.4V1312.0h1.54V1320.4zM1432.25 1320.4V1312.0h1.54V1320.4zM1433.38 1320.4V1312.0h1.54V1320.4zM1434.50 1320.4V1312.0h1.54V1320.4zM1435.62 1320.4V1312.0h1.54V1320.4zM1436.74 1320.4V1312.0h1.54V1320.4zM1437.86 1320.4V1312.0h1.54V1320.4zM1438.99 1320.4V1312.0h1.54V1320.4zM1440.11 1320.4V1312.0h1.54V1320.4zM1441.23 1320.4V1295.1h1.54V1320.4zM1442.35 1320.4V1312.0h1.54V1320.4zM1443.48 1320.4V1312.0h1.54V1320.4zM1444.60 1320.4V1312.0h1.54V1320.4zM1445.72 1320.4V1312.0h1.54V1320.4zM1446.79 1320.4V1312.0h1.54V1320.4zM1447.91 1320.4V1312.0h1.54V1320.4zM1449.03 1320.4V1312.0h1.54V1320.4zM1450.16 1320.4V1303.6h1.54V1320.4zM1451.28 1320.4V1312.0h1.54V1320.4zM1452.40 1320.4V1312.0h1.54V1320.4zM1453.52 1320.4V1312.0h1.54V1320.4zM1454.64 1320.4V1312.0h1.54V1320.4zM1455.77 1320.4V1312.0h1.54V1320.4zM1456.89 1320.4V1312.0h1.54V1320.4zM1458.01 1320.4V1312.0h1.54V1320.4zM1459.13 1320.4V1312.0h1.54V1320.4zM1460.26 1320.4V1312.0h1.54V1320.4zM1461.38 1320.4V1312.0h1.54V1320.4zM1462.50 1320.4V1295.1h1.54V1320.4zM1463.62 1320.4V1312.0h1.54V1320.4zM1464.74 1320.4V1312.0h1.54V1320.4zM1465.87 1320.4V1312.0h1.54V1320.4zM1466.99 1320.4V1303.6h1.54V1320.4zM1468.11 1320.4V1312.0h1.54V1320.4zM1469.23 1320.4V1312.0h1.54V1320.4zM1470.36 1320.4V1312.0h1.54V1320.4zM1471.48 1320.4V1312.0h1.54V1320.4zM1472.60 1320.4V1312.0h1.54V1320.4zM1473.72 1320.4V1312.0h1.54V1320.4zM1474.84 1320.4V1303.6h1.54V1320.4zM1475.97 1320.4V1312.0h1.54V1320.4zM1477.09 1320.4V1312.0h1.54V1320.4zM1478.21 1320.4V1312.0h1.54V1320.4zM1479.33 1320.4V1312.0h1.54V1320.4zM1480.45 1320.4V1312.0h1.54V1320.4zM1481.58 1320.4V1312.0h1.54V1320.4zM1482.70 1320.4V1303.6h1.54V1320.4zM1483.82 1320.4V1303.6h1.54V1320.4zM1484.94 1320.4V1303.6h1.54V1320.4zM1486.07 1320.4V1303.6h1.54V1320.4zM1487.19 1320.4V1312.0h1.54V1320.4zM1488.31 1320.4V1312.0h1.54V1320.4zM1489.43 1320.4V1312.0h1.54V1320.4zM1490.55 1320.4V1312.0h1.54V1320.4zM1491.68 1320.4V1312.0h1.54V1320.4zM1492.80 1320.4V1312.0h1.54V1320.4zM1493.92 1320.4V1312.0h1.54V1320.4zM1495.04 1320.4V1312.0h1.54V1320.4zM1496.17 1320.4V1312.0h1.54V1320.4zM1497.29 1320.4V1312.0h1.54V1320.4zM1498.41 1320.4V1303.6h1.54V1320.4zM1499.53 1320.4V1303.6h1.54V1320.4zM1500.65 1320.4V1303.6h1.54V1320.4zM1501.78 1320.4V1303.6h1.54V1320.4zM1502.90 1320.4V1303.6h1.54V1320.4zM1504.02 1320.4V1295.1h1.54V1320.4zM1505.14 1320.4V1295.1h1.54V1320.4zM1506.27 1320.4V1303.6h1.54V1320.4zM1507.39 1320.4V1303.6h1.54V1320.4zM1508.51 1320.4V1312.0h1.54V1320.4zM1509.63 1320.4V1312.0h1.54V1320.4zM1510.75 1320.4V1312.0h1.54V1320.4zM1511.88 1320.4V1312.0h1.54V1320.4zM1513.00 1320.4V1312.0h1.54V1320.4zM1514.12 1320.4V1312.0h1.54V1320.4zM1515.24 1320.4V1312.0h1.54V1320.4zM1516.37 1320.4V1312.0h1.54V1320.4zM1517.49 1320.4V1312.0h1.54V1320.4zM1518.61 1320.4V1312.0h1.54V1320.4zM1519.73 1320.4V1312.0h1.54V1320.4zM1520.85 1320.4V1312.0h1.54V1320.4zM1521.98 1320.4V1312.0h1.54V1320.4zM1523.10 1320.4V1312.0h1.54V1320.4zM1524.22 1320.4V1303.6h1.54V1320.4zM1525.34 1320.4V1303.6h1.54V1320.4zM1526.47 1320.4V1303.6h1.54V1320.4zM1527.59 1320.4V1312.0h1.54V1320.4zM1528.71 1320.4V1312.0h1.54V1320.4zM1529.83 1320.4V1312.0h1.54V1320.4zM1530.95 1320.4V1312.0h1.54V1320.4zM1532.08 1320.4V1312.0h1.54V1320.4zM1533.20 1320.4V1312.0h1.54V1320.4zM1534.32 1320.4V1312.0h1.54V1320.4zM1535.44 1320.4V1312.0h1.54V1320.4zM1536.56 1320.4V1312.0h1.54V1320.4zM1537.69 1320.4V1312.0h1.54V1320.4zM1538.81 1320.4V1312.0h1.54V1320.4zM1539.93 1320.4V1312.0h1.54V1320.4zM1541.05 1320.4V1312.0h1.54V1320.4zM1542.18 1320.4V1312.0h1.54V1320.4zM1543.30 1320.4V1312.0h1.54V1320.4zM1544.42 1320.4V1312.0h1.54V1320.4zM1545.54 1320.4V1312.0h1.54V1320.4zM1546.66 1320.4V1286.7h1.54V1320.4zM1547.79 1320.4V1312.0h1.54V1320.4zM1548.91 1320.4V1303.6h1.54V1320.4zM1550.03 1320.4V1303.6h1.54V1320.4zM1551.15 1320.4V1312.0h1.54V1320.4zM1552.28 1320.4V1312.0h1.54V1320.4zM1553.40 1320.4V1312.0h1.54V1320.4zM1554.52 1320.4V1312.0h1.54V1320.4zM1555.64 1320.4V1312.0h1.54V1320.4zM1556.76 1320.4V1312.0h1.54V1320.4zM1557.89 1320.4V1312.0h1.54V1320.4zM1559.01 1320.4V1312.0h1.54V1320.4zM1560.13 1320.4V1312.0h1.54V1320.4zM1561.25 1320.4V1312.0h1.54V1320.4zM1562.38 1320.4V1312.0h1.54V1320.4zM1563.50 1320.4V1312.0h1.54V1320.4zM1564.62 1320.4V1312.0h1.54V1320.4zM1565.74 1320.4V1312.0h1.54V1320.4zM1566.86 1320.4V1312.0h1.54V1320.4zM1567.99 1320.4V1295.1h1.54V1320.4zM1569.11 1320.4V1312.0h1.54V1320.4zM1570.23 1320.4V1312.0h1.54V1320.4zM1571.35 1320.4V1312.0h1.54V1320.4zM1572.48 1320.4V1312.0h1.54V1320.4zM1573.60 1320.4V1312.0h1.54V1320.4zM1574.72 1320.4V1303.6h1.54V1320.4zM1575.84 1320.4V1312.0h1.54V1320.4zM1576.96 1320.4V1312.0h1.54V1320.4zM1578.09 1320.4V1312.0h1.54V1320.4zM1579.21 1320.4V1312.0h1.54V1320.4zM1580.33 1320.4V1312.0h1.54V1320.4zM1581.45 1320.4V1312.0h1.54V1320.4zM1582.58 1320.4V1312.0h1.54V1320.4zM1583.70 1320.4V1312.0h1.54V1320.4zM1584.82 1320.4V1312.0h1.54V1320.4zM1585.94 1320.4V1312.0h1.54V1320.4zM1587.06 1320.4V1312.0h1.54V1320.4zM1588.19 1320.4V1303.6h1.54V1320.4zM1589.31 1320.4V1295.1h1.54V1320.4zM1590.43 1320.4V1303.6h1.54V1320.4zM1591.55 1320.4V1312.0h1.54V1320.4zM1592.67 1320.4V1312.0h1.54V1320.4zM1593.80 1320.4V1312.0h1.54V1320.4zM1594.92 1320.4V1312.0h1.54V1320.4zM1596.04 1320.4V1295.1h1.54V1320.4zM1597.16 1320.4V1295.1h1.54V1320.4zM1598.29 1320.4V1295.1h1.54V1320.4zM1599.41 1320.4V1286.7h1.54V1320.4zM1600.53 1320.4V1295.1h1.54V1320.4zM1601.65 1320.4V1295.1h1.54V1320.4zM1602.77 1320.4V1312.0h1.54V1320.4zM1603.90 1320.4V1312.0h1.54V1320.4zM1605.02 1320.4V1303.6h1.54V1320.4zM1606.14 1320.4V1303.6h1.54V1320.4zM1607.26 1320.4V1303.6h1.54V1320.4zM1608.39 1320.4V1312.0h1.54V1320.4zM1609.51 1320.4V1303.6h1.54V1320.4zM1610.63 1320.4V1303.6h1.54V1320.4zM1611.75 1320.4V1312.0h1.54V1320.4zM1612.87 1320.4V1312.0h1.54V1320.4zM1614.00 1320.4V1312.0h1.54V1320.4zM1615.12 1320.4V1312.0h1.54V1320.4zM1616.24 1320.4V1303.6h1.54V1320.4zM1617.36 1320.4V1312.0h1.54V1320.4zM1618.49 1320.4V1312.0h1.54V1320.4zM1619.61 1320.4V1312.0h1.54V1320.4zM1620.73 1320.4V1312.0h1.54V1320.4zM1621.85 1320.4V1312.0h1.54V1320.4zM1622.97 1320.4V1312.0h1.54V1320.4zM1624.10 1320.4V1312.0h1.54V1320.4zM1625.22 1320.4V1312.0h1.54V1320.4zM1626.34 1320.4V1312.0h1.54V1320.4zM1627.46 1320.4V1312.0h1.54V1320.4zM1628.59 1320.4V1312.0h1.54V1320.4zM1629.71 1320.4V1312.0h1.54V1320.4zM1630.83 1320.4V1303.6h1.54V1320.4zM1631.95 1320.4V1303.6h1.54V1320.4zM1633.07 1320.4V1312.0h1.54V1320.4zM1634.20 1320.4V1312.0h1.54V1320.4zM1635.32 1320.4V1312.0h1.54V1320.4zM1636.44 1320.4V1312.0h1.54V1320.4zM1637.56 1320.4V1312.0h1.54V1320.4zM1638.69 1320.4V1312.0h1.54V1320.4zM1639.81 1320.4V1312.0h1.54V1320.4zM1640.93 1320.4V1312.0h1.54V1320.4zM1642.05 1320.4V1312.0h1.54V1320.4zM1643.17 1320.4V1312.0h1.54V1320.4zM1644.30 1320.4V1312.0h1.54V1320.4zM1645.42 1320.4V1312.0h1.54V1320.4zM1646.54 1320.4V1312.0h1.54V1320.4zM1647.66 1320.4V1312.0h1.54V1320.4zM1648.78 1320.4V1303.6h1.54V1320.4zM1649.91 1320.4V1312.0h1.54V1320.4zM1651.03 1320.4V1312.0h1.54V1320.4zM1652.15 1320.4V1303.6h1.54V1320.4zM1653.27 1320.4V1312.0h1.54V1320.4zM1654.40 1320.4V1312.0h1.54V1320.4zM1655.52 1320.4V1312.0h1.54V1320.4zM1656.64 1320.4V1312.0h1.54V1320.4zM1657.76 1320.4V1312.0h1.54V1320.4zM1658.88 1320.4V1312.0h1.54V1320.4zM1660.01 1320.4V1312.0h1.54V1320.4zM1661.13 1320.4V1312.0h1.54V1320.4zM1662.25 1320.4V1312.0h1.54V1320.4zM1663.37 1320.4V1312.0h1.54V1320.4zM1664.50 1320.4V1312.0h1.54V1320.4zM1665.62 1320.4V1312.0h1.54V1320.4zM1666.74 1320.4V1312.0h1.54V1320.4zM1667.86 1320.4V1312.0h1.54V1320.4zM1668.98 1320.4V1312.0h1.54V1320.4zM1670.11 1320.4V1312.0h1.54V1320.4zM1671.23 1320.4V1312.0h1.54V1320.4zM1672.35 1320.4V1312.0h1.54V1320.4zM1673.47 1320.4V1286.7h1.54V1320.4zM1674.60 1320.4V1312.0h1.54V1320.4zM1675.72 1320.4V1312.0h1.54V1320.4zM1676.84 1320.4V1312.0h1.54V1320.4zM1677.96 1320.4V1312.0h1.54V1320.4zM1679.08 1320.4V1312.0h1.54V1320.4zM1680.21 1320.4V1312.0h1.54V1320.4zM1681.33 1320.4V1312.0h1.54V1320.4zM1682.45 1320.4V1312.0h1.54V1320.4zM1683.57 1320.4V1312.0h1.54V1320.4zM1684.70 1320.4V1312.0h1.54V1320.4zM1685.82 1320.4V1312.0h1.54V1320.4zM1686.94 1320.4V1312.0h1.54V1320.4zM1688.06 1320.4V1312.0h1.54V1320.4zM1689.18 1320.4V1312.0h1.54V1320.4zM1690.31 1320.4V1312.0h1.54V1320.4zM1691.43 1320.4V1312.0h1.54V1320.4zM1692.55 1320.4V1312.0h1.54V1320.4zM1693.67 1320.4V1312.0h1.54V1320.4zM1694.80 1320.4V1295.1h1.54V1320.4zM1695.92 1320.4V1312.0h1.54V1320.4zM1697.04 1320.4V1312.0h1.54V1320.4zM1698.16 1320.4V1312.0h1.54V1320.4zM1699.28 1320.4V1303.6h1.54V1320.4zM1700.41 1320.4V1312.0h1.54V1320.4zM1701.53 1320.4V1312.0h1.54V1320.4zM1702.65 1320.4V1312.0h1.54V1320.4zM1703.77 1320.4V1312.0h1.54V1320.4zM1704.89 1320.4V1312.0h1.54V1320.4zM1706.02 1320.4V1312.0h1.54V1320.4zM1707.14 1320.4V1312.0h1.54V1320.4zM1708.26 1320.4V1312.0h1.54V1320.4zM1709.38 1320.4V1312.0h1.54V1320.4zM1710.51 1320.4V1312.0h1.54V1320.4zM1711.63 1320.4V1312.0h1.54V1320.4zM1712.75 1320.4V1312.0h1.54V1320.4zM1713.87 1320.4V1312.0h1.54V1320.4zM1714.99 1320.4V1312.0h1.54V1320.4zM1716.12 1320.4V1295.1h1.54V1320.4zM1717.24 1320.4V1312.0h1.54V1320.4zM1718.36 1320.4V1312.0h1.54V1320.4zM1719.48 1320.4V1312.0h1.54V1320.4zM1720.61 1320.4V1312.0h1.54V1320.4zM1721.73 1320.4V1312.0h1.54V1320.4zM1722.85 1320.4V1312.0h1.54V1320.4zM1723.97 1320.4V1303.6h1.54V1320.4zM1725.09 1320.4V1312.0h1.54V1320.4zM1726.22 1320.4V1312.0h1.54V1320.4zM1727.34 1320.4V1312.0h1.54V1320.4zM1728.46 1320.4V1312.0h1.54V1320.4zM1729.58 1320.4V1312.0h1.54V1320.4zM1730.71 1320.4V1312.0h1.54V1320.4zM1731.83 1320.4V1312.0h1.54V1320.4zM1732.95 1320.4V1312.0h1.54V1320.4zM1734.07 1320.4V1312.0h1.54V1320.4zM1735.19 1320.4V1312.0h1.54V1320.4zM1736.32 1320.4V1303.6h1.54V1320.4zM1737.44 1320.4V1295.1h1.54V1320.4zM1738.56 1320.4V1303.6h1.54V1320.4zM1739.68 1320.4V1303.6h1.54V1320.4zM1740.81 1320.4V1303.6h1.54V1320.4zM1741.93 1320.4V1303.6h1.54V1320.4zM1743.05 1320.4V1303.6h1.54V1320.4zM1744.17 1320.4V1303.6h1.54V1320.4zM1745.29 1320.4V1303.6h1.54V1320.4zM1746.42 1320.4V1303.6h1.54V1320.4zM1747.54 1320.4V1303.6h1.54V1320.4zM1748.66 1320.4V1295.1h1.54V1320.4zM1749.78 1320.4V1303.6h1.54V1320.4zM1750.91 1320.4V1303.6h1.54V1320.4zM1752.03 1320.4V1303.6h1.54V1320.4zM1753.15 1320.4V1303.6h1.54V1320.4zM1754.27 1320.4V1303.6h1.54V1320.4zM1755.39 1320.4V1303.6h1.54V1320.4zM1756.52 1320.4V1303.6h1.54V1320.4zM1757.64 1320.4V1295.1h1.54V1320.4zM1758.76 1320.4V1295.1h1.54V1320.4zM1759.88 1320.4V1295.1h1.54V1320.4zM1761.00 1320.4V1303.6h1.54V1320.4zM1762.13 1320.4V1295.1h1.54V1320.4zM1763.25 1320.4V1295.1h1.54V1320.4zM1764.37 1320.4V1303.6h1.54V1320.4zM1765.49 1320.4V1303.6h1.54V1320.4zM1766.62 1320.4V1303.6h1.54V1320.4zM1767.74 1320.4V1303.6h1.54V1320.4zM1768.86 1320.4V1303.6h1.54V1320.4zM1769.93 1320.4V1303.6h1.54V1320.4zM1771.05 1320.4V1303.6h1.54V1320.4zM1772.17 1320.4V1303.6h1.54V1320.4zM1773.30 1320.4V1295.1h1.54V1320.4zM1774.42 1320.4V1295.1h1.54V1320.4zM1775.54 1320.4V1303.6h1.54V1320.4zM1776.66 1320.4V1303.6h1.54V1320.4zM1777.78 1320.4V1303.6h1.54V1320.4zM1778.91 1320.4V1286.7h1.54V1320.4zM1780.03 1320.4V1303.6h1.54V1320.4zM1781.15 1320.4V1303.6h1.54V1320.4zM1782.27 1320.4V1295.1h1.54V1320.4zM1783.40 1320.4V1295.1h1.54V1320.4zM1784.52 1320.4V1295.1h1.54V1320.4zM1785.64 1320.4V1303.6h1.54V1320.4zM1786.76 1320.4V1303.6h1.54V1320.4zM1787.88 1320.4V1303.6h1.54V1320.4zM1789.01 1320.4V1303.6h1.54V1320.4zM1790.13 1320.4V1286.7h1.54V1320.4zM1791.25 1320.4V1286.7h1.54V1320.4zM1792.37 1320.4V1286.7h1.54V1320.4zM1793.50 1320.4V1295.1h1.54V1320.4zM1794.62 1320.4V1295.1h1.54V1320.4zM1795.74 1320.4V1295.1h1.54V1320.4zM1796.86 1320.4V1295.1h1.54V1320.4zM1797.98 1320.4V1295.1h1.54V1320.4zM1799.11 1320.4V1295.1h1.54V1320.4zM1800.23 1320.4V1286.7h1.54V1320.4zM1801.35 1320.4V1303.6h1.54V1320.4zM1802.47 1320.4V1303.6h1.54V1320.4zM1803.59 1320.4V1295.1h1.54V1320.4zM1804.72 1320.4V1303.6h1.54V1320.4zM1805.84 1320.4V1303.6h1.54V1320.4zM1806.96 1320.4V1303.6h1.54V1320.4zM1808.08 1320.4V1303.6h1.54V1320.4zM1809.21 1320.4V1303.6h1.54V1320.4zM1810.33 1320.4V1303.6h1.54V1320.4zM1811.45 1320.4V1303.6h1.54V1320.4zM1812.57 1320.4V1303.6h1.54V1320.4zM1813.69 1320.4V1303.6h1.54V1320.4zM1814.82 1320.4V1303.6h1.54V1320.4zM1815.94 1320.4V1303.6h1.54V1320.4zM1817.06 1320.4V1303.6h1.54V1320.4zM1818.18 1320.4V1303.6h1.54V1320.4zM1819.31 1320.4V1303.6h1.54V1320.4zM1820.43 1320.4V1303.6h1.54V1320.4zM1821.55 1320.4V1286.7h1.54V1320.4zM1822.67 1320.4V1303.6h1.54V1320.4zM1823.79 1320.4V1295.1h1.54V1320.4zM1824.92 1320.4V1295.1h1.54V1320.4zM1826.04 1320.4V1295.1h1.54V1320.4zM1827.16 1320.4V1303.6h1.54V1320.4zM1828.28 1320.4V1295.1h1.54V1320.4zM1829.41 1320.4V1295.1h1.54V1320.4zM1830.53 1320.4V1295.1h1.54V1320.4zM1831.65 1320.4V1295.1h1.54V1320.4zM1832.77 1320.4V1303.6h1.54V1320.4zM1833.89 1320.4V1295.1h1.54V1320.4zM1835.02 1320.4V1295.1h1.54V1320.4zM1836.14 1320.4V1295.1h1.54V1320.4zM1837.26 1320.4V1303.6h1.54V1320.4zM1838.38 1320.4V1303.6h1.54V1320.4zM1839.51 1320.4V1303.6h1.54V1320.4zM1840.63 1320.4V1303.6h1.54V1320.4zM1841.75 1320.4V1303.6h1.54V1320.4zM1842.87 1320.4V1286.7h1.54V1320.4zM1843.99 1320.4V1303.6h1.54V1320.4zM1845.12 1320.4V1295.1h1.54V1320.4zM1846.24 1320.4V1295.1h1.54V1320.4zM1847.36 1320.4V1295.1h1.54V1320.4zM1848.48 1320.4V1295.1h1.54V1320.4zM1849.61 1320.4V1295.1h1.54V1320.4zM1850.73 1320.4V1303.6h1.54V1320.4zM1851.85 1320.4V1303.6h1.54V1320.4zM1852.97 1320.4V1303.6h1.54V1320.4zM1854.09 1320.4V1303.6h1.54V1320.4zM1855.22 1320.4V1303.6h1.54V1320.4zM1856.34 1320.4V1295.1h1.54V1320.4zM1857.46 1320.4V1295.1h1.54V1320.4zM1858.58 1320.4V1295.1h1.54V1320.4zM1859.70 1320.4V1295.1h1.54V1320.4zM1860.83 1320.4V1295.1h1.54V1320.4zM1861.95 1320.4V1303.6h1.54V1320.4zM1863.07 1320.4V1303.6h1.54V1320.4zM1864.19 1320.4V1286.7h1.54V1320.4zM1865.32 1320.4V1303.6h1.54V1320.4zM1866.44 1320.4V1295.1h1.54V1320.4zM1867.56 1320.4V1295.1h1.54V1320.4zM1868.68 1320.4V1295.1h1.54V1320.4zM1869.80 1320.4V1303.6h1.54V1320.4zM1870.93 1320.4V1303.6h1.54V1320.4zM1872.05 1320.4V1303.6h1.54V1320.4zM1873.17 1320.4V1295.1h1.54V1320.4zM1874.29 1320.4V1295.1h1.54V1320.4zM1875.42 1320.4V1295.1h1.54V1320.4zM1876.54 1320.4V1303.6h1.54V1320.4zM1877.66 1320.4V1303.6h1.54V1320.4zM1878.78 1320.4V1295.1h1.54V1320.4zM1879.90 1320.4V1303.6h1.54V1320.4zM1881.03 1320.4V1303.6h1.54V1320.4zM1882.15 1320.4V1303.6h1.54V1320.4zM1883.27 1320.4V1295.1h1.54V1320.4zM1884.39 1320.4V1295.1h1.54V1320.4zM1885.52 1320.4V1286.7h1.54V1320.4zM1886.64 1320.4V1295.1h1.54V1320.4zM1887.76 1320.4V1303.6h1.54V1320.4zM1888.88 1320.4V1303.6h1.54V1320.4zM1890.00 1320.4V1303.6h1.54V1320.4zM1891.13 1320.4V1295.1h1.54V1320.4zM1892.25 1320.4V1303.6h1.54V1320.4zM1893.37 1320.4V1303.6h1.54V1320.4zM1894.49 1320.4V1295.1h1.54V1320.4zM1895.62 1320.4V1295.1h1.54V1320.4zM1896.74 1320.4V1295.1h1.54V1320.4zM1897.86 1320.4V1295.1h1.54V1320.4zM1898.98 1320.4V1295.1h1.54V1320.4zM1900.10 1320.4V1303.6h1.54V1320.4zM1901.23 1320.4V1303.6h1.54V1320.4zM1902.35 1320.4V1303.6h1.54V1320.4zM1903.47 1320.4V1303.6h1.54V1320.4zM1904.59 1320.4V1303.6h1.54V1320.4zM1905.72 1320.4V1303.6h1.54V1320.4zM1906.84 1320.4V1295.1h1.54V1320.4zM1907.96 1320.4V1312.0h1.54V1320.4zM1909.08 1320.4V1312.0h1.54V1320.4zM1910.20 1320.4V1312.0h1.54V1320.4zM1911.33 1320.4V1312.0h1.54V1320.4zM1912.45 1320.4V1303.6h1.54V1320.4zM1913.57 1320.4V1312.0h1.54V1320.4zM1914.69 1320.4V1312.0h1.54V1320.4zM1915.81 1320.4V1312.0h1.54V1320.4zM1916.94 1320.4V1312.0h1.54V1320.4zM1918.06 1320.4V1312.0h1.54V1320.4zM1919.18 1320.4V1312.0h1.54V1320.4zM1920.30 1320.4V1312.0h1.54V1320.4zM1921.43 1320.4V1312.0h1.54V1320.4zM1922.55 1320.4V1312.0h1.54V1320.4zM1923.67 1320.4V1303.6h1.54V1320.4zM1924.79 1320.4V1312.0h1.54V1320.4zM1925.91 1320.4V1312.0h1.54V1320.4zM1927.04 1320.4V1312.0h1.54V1320.4zM1928.16 1320.4V1303.6h1.54V1320.4zM1929.28 1320.4V1303.6h1.54V1320.4zM1930.40 1320.4V1312.0h1.54V1320.4zM1931.53 1320.4V1312.0h1.54V1320.4zM1932.65 1320.4V1312.0h1.54V1320.4zM1933.77 1320.4V1312.0h1.54V1320.4zM1934.89 1320.4V1312.0h1.54V1320.4zM1936.01 1320.4V1312.0h1.54V1320.4zM1937.14 1320.4V1312.0h1.54V1320.4zM1938.26 1320.4V1312.0h1.54V1320.4zM1939.38 1320.4V1312.0h1.54V1320.4zM1940.50 1320.4V1312.0h1.54V1320.4zM1941.63 1320.4V1312.0h1.54V1320.4zM1942.75 1320.4V1312.0h1.54V1320.4zM1943.87 1320.4V1312.0h1.54V1320.4zM1944.99 1320.4V1312.0h1.54V1320.4zM1946.11 1320.4V1312.0h1.54V1320.4zM1947.24 1320.4V1312.0h1.54V1320.4zM1948.36 1320.4V1303.6h1.54V1320.4zM1949.48 1320.4V1312.0h1.54V1320.4zM1950.60 1320.4V1312.0h1.54V1320.4zM1951.73 1320.4V1312.0h1.54V1320.4zM1952.85 1320.4V1312.0h1.54V1320.4zM1953.97 1320.4V1312.0h1.54V1320.4zM1955.09 1320.4V1312.0h1.54V1320.4zM1956.21 1320.4V1312.0h1.54V1320.4zM1957.34 1320.4V1312.0h1.54V1320.4zM1958.46 1320.4V1312.0h1.54V1320.4zM1959.58 1320.4V1312.0h1.54V1320.4zM1960.70 1320.4V1312.0h1.54V1320.4zM1961.83 1320.4V1312.0h1.54V1320.4zM1962.95 1320.4V1312.0h1.54V1320.4zM1964.07 1320.4V1312.0h1.54V1320.4zM1965.19 1320.4V1312.0h1.54V1320.4zM1966.31 1320.4V1312.0h1.54V1320.4zM1967.44 1320.4V1312.0h1.54V1320.4zM1968.56 1320.4V1303.6h1.54V1320.4zM1969.68 1320.4V1286.7h1.54V1320.4zM1970.80 1320.4V1303.6h1.54V1320.4zM1971.92 1320.4V1303.6h1.54V1320.4zM1973.05 1320.4V1295.1h1.54V1320.4zM1974.17 1320.4V1303.6h1.54V1320.4zM1975.29 1320.4V1303.6h1.54V1320.4zM1976.41 1320.4V1312.0h1.54V1320.4zM1977.54 1320.4V1312.0h1.54V1320.4zM1978.66 1320.4V1312.0h1.54V1320.4zM1979.78 1320.4V1312.0h1.54V1320.4zM1980.90 1320.4V1312.0h1.54V1320.4zM1982.02 1320.4V1312.0h1.54V1320.4zM1983.15 1320.4V1312.0h1.54V1320.4zM1984.27 1320.4V1312.0h1.54V1320.4zM1985.39 1320.4V1312.0h1.54V1320.4zM1986.51 1320.4V1312.0h1.54V1320.4zM1987.64 1320.4V1312.0h1.54V1320.4zM1988.76 1320.4V1312.0h1.54V1320.4zM1989.88 1320.4V1312.0h1.54V1320.4zM1991.00 1320.4V1303.6h1.54V1320.4zM1992.12 1320.4V1312.0h1.54V1320.4zM1993.25 1320.4V1312.0h1.54V1320.4zM1994.37 1320.4V1312.0h1.54V1320.4zM1995.49 1320.4V1312.0h1.54V1320.4zM1996.61 1320.4V1312.0h1.54V1320.4zM1997.74 1320.4V1312.0h1.54V1320.4zM1998.86 1320.4V1303.6h1.54V1320.4zM1999.98 1320.4V1312.0h1.54V1320.4zM2001.10 1320.4V1312.0h1.54V1320.4zM2002.22 1320.4V1312.0h1.54V1320.4zM2003.35 1320.4V1312.0h1.54V1320.4zM2004.47 1320.4V1312.0h1.54V1320.4zM2005.59 1320.4V1312.0h1.54V1320.4zM2006.71 1320.4V1312.0h1.54V1320.4zM2007.84 1320.4V1312.0h1.54V1320.4zM2008.96 1320.4V1312.0h1.54V1320.4zM2010.08 1320.4V1312.0h1.54V1320.4zM2011.20 1320.4V1312.0h1.54V1320.4zM2012.32 1320.4V1303.6h1.54V1320.4zM2013.45 1320.4V1312.0h1.54V1320.4zM2014.57 1320.4V1312.0h1.54V1320.4zM2015.69 1320.4V1312.0h1.54V1320.4zM2016.81 1320.4V1312.0h1.54V1320.4zM2017.94 1320.4V1312.0h1.54V1320.4zM2019.06 1320.4V1312.0h1.54V1320.4zM2020.18 1320.4V1312.0h1.54V1320.4zM2021.30 1320.4V1312.0h1.54V1320.4zM2022.42 1320.4V1312.0h1.54V1320.4zM2023.55 1320.4V1295.1h1.54V1320.4zM2024.67 1320.4V1312.0h1.54V1320.4zM2025.79 1320.4V1312.0h1.54V1320.4zM2026.91 1320.4V1312.0h1.54V1320.4zM2028.03 1320.4V1312.0h1.54V1320.4zM2029.16 1320.4V1312.0h1.54V1320.4zM2030.28 1320.4V1312.0h1.54V1320.4zM2031.40 1320.4V1312.0h1.54V1320.4zM2032.52 1320.4V1312.0h1.54V1320.4zM2033.65 1320.4V1303.6h1.54V1320.4zM2034.77 1320.4V1312.0h1.54V1320.4zM2035.89 1320.4V1312.0h1.54V1320.4zM2037.01 1320.4V1312.0h1.54V1320.4zM2038.13 1320.4V1312.0h1.54V1320.4zM2039.26 1320.4V1312.0h1.54V1320.4zM2040.38 1320.4V1312.0h1.54V1320.4zM2041.50 1320.4V1312.0h1.54V1320.4zM2042.62 1320.4V1312.0h1.54V1320.4zM2043.75 1320.4V1312.0h1.54V1320.4zM2044.87 1320.4V1312.0h1.54V1320.4zM2045.99 1320.4V1312.0h1.54V1320.4zM2047.11 1320.4V1312.0h1.54V1320.4zM2048.23 1320.4V1303.6h1.54V1320.4zM2049.36 1320.4V1312.0h1.54V1320.4zM2050.48 1320.4V1312.0h1.54V1320.4zM2051.60 1320.4V1312.0h1.54V1320.4zM2052.72 1320.4V1312.0h1.54V1320.4zM2053.85 1320.4V1303.6h1.54V1320.4zM2054.97 1320.4V1312.0h1.54V1320.4zM2056.09 1320.4V1312.0h1.54V1320.4zM2057.21 1320.4V1312.0h1.54V1320.4zM2058.33 1320.4V1312.0h1.54V1320.4zM2059.46 1320.4V1312.0h1.54V1320.4zM2060.58 1320.4V1312.0h1.54V1320.4zM2061.70 1320.4V1312.0h1.54V1320.4zM2062.82 1320.4V1312.0h1.54V1320.4zM2063.95 1320.4V1312.0h1.54V1320.4zM2065.07 1320.4V1303.6h1.54V1320.4zM2066.19 1320.4V1303.6h1.54V1320.4zM2067.31 1320.4V1312.0h1.54V1320.4zM2068.43 1320.4V1312.0h1.54V1320.4zM2069.56 1320.4V1303.6h1.54V1320.4zM2070.68 1320.4V1303.6h1.54V1320.4zM2071.80 1320.4V1303.6h1.54V1320.4zM2072.92 1320.4V1303.6h1.54V1320.4zM2074.05 1320.4V1303.6h1.54V1320.4zM2075.17 1320.4V1295.1h1.54V1320.4zM2076.29 1320.4V1303.6h1.54V1320.4zM2077.41 1320.4V1303.6h1.54V1320.4zM2078.53 1320.4V1303.6h1.54V1320.4zM2079.66 1320.4V1303.6h1.54V1320.4zM2080.78 1320.4V1303.6h1.54V1320.4zM2081.90 1320.4V1303.6h1.54V1320.4zM2083.02 1320.4V1295.1h1.54V1320.4zM2084.14 1320.4V1303.6h1.54V1320.4zM2085.27 1320.4V1303.6h1.54V1320.4zM2086.39 1320.4V1303.6h1.54V1320.4zM2087.51 1320.4V1303.6h1.54V1320.4zM2088.63 1320.4V1303.6h1.54V1320.4zM2089.76 1320.4V1295.1h1.54V1320.4zM2090.88 1320.4V1295.1h1.54V1320.4zM2092.00 1320.4V1303.6h1.54V1320.4zM2093.07 1320.4V1303.6h1.54V1320.4zM2094.19 1320.4V1303.6h1.54V1320.4zM2095.31 1320.4V1303.6h1.54V1320.4zM2096.44 1320.4V1295.1h1.54V1320.4zM2097.56 1320.4V1303.6h1.54V1320.4zM2098.68 1320.4V1286.7h1.54V1320.4zM2099.80 1320.4V1312.0h1.54V1320.4zM2100.92 1320.4V1303.6h1.54V1320.4zM2102.05 1320.4V1303.6h1.54V1320.4zM2103.17 1320.4V1303.6h1.54V1320.4zM2104.29 1320.4V1295.1h1.54V1320.4zM2105.41 1320.4V1312.0h1.54V1320.4zM2106.54 1320.4V1295.1h1.54V1320.4zM2107.66 1320.4V1303.6h1.54V1320.4zM2108.78 1320.4V1303.6h1.54V1320.4zM2109.90 1320.4V1303.6h1.54V1320.4zM2111.02 1320.4V1303.6h1.54V1320.4zM2112.15 1320.4V1312.0h1.54V1320.4zM2113.27 1320.4V1303.6h1.54V1320.4zM2114.39 1320.4V1303.6h1.54V1320.4zM2115.51 1320.4V1295.1h1.54V1320.4zM2116.64 1320.4V1303.6h1.54V1320.4zM2117.76 1320.4V1286.7h1.54V1320.4zM2118.88 1320.4V1303.6h1.54V1320.4zM2120.00 1320.4V1303.6h1.54V1320.4zM2121.12 1320.4V1312.0h1.54V1320.4zM2122.25 1320.4V1303.6h1.54V1320.4zM2123.37 1320.4V1286.7h1.54V1320.4zM2124.49 1320.4V1303.6h1.54V1320.4zM2125.61 1320.4V1303.6h1.54V1320.4zM2126.73 1320.4V1303.6h1.54V1320.4zM2127.86 1320.4V1303.6h1.54V1320.4zM2128.98 1320.4V1303.6h1.54V1320.4zM2130.10 1320.4V1295.1h1.54V1320.4zM2131.22 1320.4V1303.6h1.54V1320.4zM2132.35 1320.4V1312.0h1.54V1320.4zM2133.47 1320.4V1295.1h1.54V1320.4zM2134.59 1320.4V1303.6h1.54V1320.4zM2135.71 1320.4V1303.6h1.54V1320.4zM2136.83 1320.4V1303.6h1.54V1320.4zM2137.96 1320.4V1303.6h1.54V1320.4zM2139.08 1320.4V1286.7h1.54V1320.4zM2140.20 1320.4V1303.6h1.54V1320.4zM2141.32 1320.4V1303.6h1.54V1320.4zM2142.45 1320.4V1295.1h1.54V1320.4zM2143.57 1320.4V1303.6h1.54V1320.4zM2144.69 1320.4V1303.6h1.54V1320.4zM2145.81 1320.4V1303.6h1.54V1320.4zM2146.93 1320.4V1303.6h1.54V1320.4zM2148.06 1320.4V1286.7h1.54V1320.4zM2149.18 1320.4V1303.6h1.54V1320.4zM2150.30 1320.4V1303.6h1.54V1320.4zM2151.42 1320.4V1303.6h1.54V1320.4zM2152.55 1320.4V1295.1h1.54V1320.4zM2153.67 1320.4V1303.6h1.54V1320.4zM2154.79 1320.4V1303.6h1.54V1320.4zM2155.91 1320.4V1295.1h1.54V1320.4zM2157.03 1320.4V1303.6h1.54V1320.4zM2158.16 1320.4V1295.1h1.54V1320.4zM2159.28 1320.4V1295.1h1.54V1320.4zM2160.40 1320.4V1278.3h1.54V1320.4zM2161.52 1320.4V1286.7h1.54V1320.4zM2162.65 1320.4V1286.7h1.54V1320.4zM2163.77 1320.4V1286.7h1.54V1320.4zM2164.89 1320.4V1286.7h1.54V1320.4zM2166.01 1320.4V1286.7h1.54V1320.4zM2167.13 1320.4V1286.7h1.54V1320.4zM2168.26 1320.4V1286.7h1.54V1320.4zM2169.38 1320.4V1286.7h1.54V1320.4zM2170.50 1320.4V1286.7h1.54V1320.4zM2171.62 1320.4V1244.6h1.54V1320.4zM2172.75 1320.4V1076.3h1.54V1320.4zM2322.00 1320.4V1286.7h1.54V1320.4zM2323.12 1320.4V1202.5h1.54V1320.4z" fill="#a0ecc4"/>
<path d="M236.15 1320.4V1211.0h1.54V1320.4zM237.27 1320.4V1008.9h1.54V1320.4zM238.39 1320.4V1042.6h1.54V1320.4zM239.52 1320.4V1093.1h1.54V1320.4zM240.64 1320.4V1034.2h1.54V1320.4zM241.76 1320.4V1034.2h1.54V1320.4zM242.88 1320.4V1067.8h1.54V1320.4zM244.00 1320.4V1109.9h1.54V1320.4zM245.13 1320.4V1135.2h1.54V1320.4zM246.25 1320.4V1202.5h1.54V1320.4zM247.37 1320.4V1219.4h1.54V1320.4zM248.49 1320.4V1194.1h1.54V1320.4zM249.62 1320.4V1067.8h1.54V1320.4zM250.74 1320.4V1067.8h1.54V1320.4zM251.86 1320.4V1042.6h1.54V1320.4zM252.98 1320.4V1042.6h1.54V1320.4zM254.10 1320.4V1008.9h1.54V1320.4zM255.23 1320.4V1042.6h1.54V1320.4zM256.35 1320.4V1042.6h1.54V1320.4zM257.47 1320.4V1135.2h1.54V1320.4zM258.59 1320.4V1152.0h1.54V1320.4zM259.72 1320.4V1219.4h1.54V1320.4zM260.84 1320.4V1160.5h1.54V1320.4zM261.96 1320.4V1160.5h1.54V1320.4zM263.08 1320.4V1177.3h1.54V1320.4zM264.20 1320.4V1177.3h1.54V1320.4zM265.33 1320.4V1219.4h1.54V1320.4zM266.45 1320.4V1168.9h1.54V1320.4zM267.57 1320.4V1126.8h1.54V1320.4zM268.69 1320.4V1126.8h1.54V1320.4zM269.82 1320.4V1185.7h1.54V1320.4zM270.94 1320.4V1278.3h1.54V1320.4zM272.06 1320.4V1269.9h1.54V1320.4zM273.18 1320.4V1269.9h1.54V1320.4zM274.30 1320.4V1261.5h1.54V1320.4zM275.43 1320.4V1236.2h1.54V1320.4zM276.55 1320.4V1236.2h1.54V1320.4zM277.67 1320.4V1261.5h1.54V1320.4zM278.79 1320.4V1236.2h1.54V1320.4zM279.92 1320.4V1168.9h1.54V1320.4zM281.04 1320.4V1109.9h1.54V1320.4zM282.16 1320.4V992.1h1.54V1320.4zM283.28 1320.4V983.7h1.54V1320.4zM284.40 1320.4V1093.1h1.54V1320.4zM285.53 1320.4V1067.8h1.54V1320.4zM286.65 1320.4V1059.4h1.54V1320.4zM287.77 1320.4V849.0h1.54V1320.4zM288.89 1320.4V899.5h1.54V1320.4zM290.02 1320.4V916.3h1.54V1320.4zM291.14 1320.4V958.4h1.54V1320.4zM292.26 1320.4V1042.6h1.54V1320.4zM293.38 1320.4V1042.6h1.54V1320.4zM294.50 1320.4V1042.6h1.54V1320.4zM295.63 1320.4V1135.2h1.54V1320.4zM296.75 1320.4V1303.6h1.54V1320.4zM297.87 1320.4V1295.1h1.54V1320.4zM298.99 1320.4V1286.7h1.54V1320.4zM300.11 1320.4V1185.7h1.54V1320.4zM301.24 1320.4V1185.7h1.54V1320.4zM302.36 1320.4V1253.1h1.54V1320.4zM303.48 1320.4V1219.4h1.54V1320.4zM304.60 1320.4V1194.1h1.54V1320.4zM305.73 1320.4V1135.2h1.54V1320.4zM306.85 1320.4V1084.7h1.54V1320.4zM307.97 1320.4V1059.4h1.54V1320.4zM309.09 1320.4V1051.0h1.54V1320.4zM310.21 1320.4V1051.0h1.54V1320.4zM311.34 1320.4V1042.6h1.54V1320.4zM312.46 1320.4V1042.6h1.54V1320.4zM313.58 1320.4V950.0h1.54V1320.4zM314.70 1320.4V1101.5h1.54V1320.4zM315.83 1320.4V1101.5h1.54V1320.4zM316.95 1320.4V1076.3h1.54V1320.4zM318.07 1320.4V1067.8h1.54V1320.4zM319.19 1320.4V1051.0h1.54V1320.4zM320.31 1320.4V1034.2h1.54V1320.4zM321.44 1320.4V1025.8h1.54V1320.4zM322.56 1320.4V1017.3h1.54V1320.4zM323.68 1320.4V1093.1h1.54V1320.4zM324.80 1320.4V1084.7h1.54V1320.4zM325.93 1320.4V941.6h1.54V1320.4zM327.05 1320.4V966.8h1.54V1320.4zM328.17 1320.4V966.8h1.54V1320.4zM329.29 1320.4V1008.9h1.54V1320.4zM330.41 1320.4V1000.5h1.54V1320.4zM331.54 1320.4V966.8h1.54V1320.4zM332.66 1320.4V1219.4h1.54V1320.4zM333.78 1320.4V1286.7h1.54V1320.4zM334.90 1320.4V1286.7h1.54V1320.4zM336.03 1320.4V1286.7h1.54V1320.4zM337.15 1320.4V1168.9h1.54V1320.4zM338.27 1320.4V1168.9h1.54V1320.4zM339.39 1320.4V1202.5h1.54V1320.4zM340.51 1320.4V1202.5h1.54V1320.4zM341.64 1320.4V1244.6h1.54V1320.4zM342.76 1320.4V1093.1h1.54V1320.4zM343.88 1320.4V1084.7h1.54V1320.4zM345.00 1320.4V1118.4h1.54V1320.4zM346.13 1320.4V1067.8h1.54V1320.4zM347.25 1320.4V1042.6h1.54V1320.4zM348.37 1320.4V992.1h1.54V1320.4zM349.49 1320.4V958.4h1.54V1320.4zM350.61 1320.4V1000.5h1.54V1320.4zM351.74 1320.4V1051.0h1.54V1320.4zM352.86 1320.4V1034.2h1.54V1320.4zM353.98 1320.4V1034.2h1.54V1320.4zM355.10 1320.4V1034.2h1.54V1320.4zM356.22 1320.4V1034.2h1.54V1320.4zM357.35 1320.4V1177.3h1.54V1320.4zM358.47 1320.4V1008.9h1.54V1320.4zM359.59 1320.4V1067.8h1.54V1320.4zM360.71 1320.4V1093.1h1.54V1320.4zM361.84 1320.4V1177.3h1.54V1320.4zM362.96 1320.4V1278.3h1.54V1320.4zM364.08 1320.4V1185.7h1.54V1320.4zM365.20 1320.4V1185.7h1.54V1320.4zM366.32 1320.4V1185.7h1.54V1320.4zM367.45 1320.4V1211.0h1.54V1320.4zM368.57 1320.4V1160.5h1.54V1320.4zM369.69 1320.4V1126.8h1.54V1320.4zM370.81 1320.4V1152.0h1.54V1320.4zM371.94 1320.4V1152.0h1.54V1320.4zM373.06 1320.4V1211.0h1.54V1320.4zM374.18 1320.4V1227.8h1.54V1320.4zM375.30 1320.4V1227.8h1.54V1320.4zM376.42 1320.4V1177.3h1.54V1320.4zM377.55 1320.4V1177.3h1.54V1320.4zM378.67 1320.4V1185.7h1.54V1320.4zM379.79 1320.4V1177.3h1.54V1320.4zM380.91 1320.4V1143.6h1.54V1320.4zM382.04 1320.4V1152.0h1.54V1320.4zM559.29 1320.4V1067.8h1.54V1320.4zM560.41 1320.4V1051.0h1.54V1320.4zM561.53 1320.4V1084.7h1.54V1320.4zM562.66 1320.4V1084.7h1.54V1320.4zM563.78 1320.4V1059.4h1.54V1320.4zM564.90 1320.4V1067.8h1.54V1320.4zM566.02 1320.4V1067.8h1.54V1320.4zM567.14 1320.4V1067.8h1.54V1320.4zM568.27 1320.4V1219.4h1.54V1320.4zM569.39 1320.4V1067.8h1.54V1320.4zM570.51 1320.4V1000.5h1.54V1320.4zM571.63 1320.4V1034.2h1.54V1320.4zM572.76 1320.4V1135.2h1.54V1320.4zM573.88 1320.4V1269.9h1.54V1320.4zM575.00 1320.4V1067.8h1.54V1320.4zM576.12 1320.4V1034.2h1.54V1320.4zM577.24 1320.4V1042.6h1.54V1320.4zM578.37 1320.4V1093.1h1.54V1320.4zM579.49 1320.4V1109.9h1.54V1320.4zM580.61 1320.4V1168.9h1.54V1320.4zM581.73 1320.4V1008.9h1.54V1320.4zM582.86 1320.4V1008.9h1.54V1320.4zM583.98 1320.4V1000.5h1.54V1320.4zM585.10 1320.4V1000.5h1.54V1320.4zM586.22 1320.4V1000.5h1.54V1320.4zM587.34 1320.4V1000.5h1.54V1320.4zM588.47 1320.4V1000.5h1.54V1320.4zM589.59 1320.4V907.9h1.54V1320.4zM590.71 1320.4V1008.9h1.54V1320.4zM591.83 1320.4V1236.2h1.54V1320.4zM592.96 1320.4V1194.1h1.54V1320.4zM594.08 1320.4V1194.1h1.54V1320.4zM595.20 1320.4V1194.1h1.54V1320.4zM596.32 1320.4V975.2h1.54V1320.4zM597.44 1320.4V1202.5h1.54V1320.4zM598.57 1320.4V1244.6h1.54V1320.4zM599.69 1320.4V1278.3h1.54V1320.4zM600.81 1320.4V1093.1h1.54V1320.4zM601.93 1320.4V1067.8h1.54V1320.4zM603.06 1320.4V958.4h1.54V1320.4zM604.18 1320.4V1118.4h1.54V1320.4zM605.30 1320.4V1303.6h1.54V1320.4zM606.42 1320.4V1269.9h1.54V1320.4zM607.54 1320.4V1269.9h1.54V1320.4zM608.67 1320.4V1261.5h1.54V1320.4zM609.79 1320.4V1211.0h1.54V1320.4zM610.91 1320.4V1211.0h1.54V1320.4zM612.03 1320.4V1219.4h1.54V1320.4zM613.16 1320.4V1185.7h1.54V1320.4zM614.28 1320.4V1185.7h1.54V1320.4zM615.40 1320.4V1160.5h1.54V1320.4zM616.52 1320.4V1160.5h1.54V1320.4zM617.64 1320.4V1202.5h1.54V1320.4zM618.77 1320.4V1261.5h1.54V1320.4zM619.89 1320.4V1261.5h1.54V1320.4zM621.01 1320.4V1286.7h1.54V1320.4zM622.13 1320.4V1202.5h1.54V1320.4zM623.25 1320.4V1202.5h1.54V1320.4zM624.38 1320.4V1194.1h1.54V1320.4zM625.50 1320.4V1194.1h1.54V1320.4zM626.62 1320.4V1219.4h1.54V1320.4zM627.74 1320.4V1236.2h1.54V1320.4zM628.87 1320.4V1236.2h1.54V1320.4zM629.99 1320.4V1067.8h1.54V1320.4zM631.11 1320.4V1008.9h1.54V1320.4zM632.23 1320.4V992.1h1.54V1320.4zM633.35 1320.4V992.1h1.54V1320.4zM634.48 1320.4V992.1h1.54V1320.4zM635.60 1320.4V1008.9h1.54V1320.4zM636.72 1320.4V1084.7h1.54V1320.4zM637.84 1320.4V1067.8h1.54V1320.4zM638.97 1320.4V1000.5h1.54V1320.4zM640.09 1320.4V1017.3h1.54V1320.4zM641.21 1320.4V1017.3h1.54V1320.4zM642.33 1320.4V1034.2h1.54V1320.4zM643.45 1320.4V1042.6h1.54V1320.4zM644.58 1320.4V1084.7h1.54V1320.4zM645.70 1320.4V1042.6h1.54V1320.4zM646.82 1320.4V1042.6h1.54V1320.4zM647.94 1320.4V1042.6h1.54V1320.4zM649.07 1320.4V1042.6h1.54V1320.4zM650.19 1320.4V1034.2h1.54V1320.4zM651.31 1320.4V1017.3h1.54V1320.4zM652.43 1320.4V992.1h1.54V1320.4zM653.55 1320.4V1025.8h1.54V1320.4zM654.68 1320.4V1017.3h1.54V1320.4zM655.80 1320.4V1008.9h1.54V1320.4zM656.92 1320.4V1008.9h1.54V1320.4zM658.04 1320.4V1135.2h1.54V1320.4zM659.17 1320.4V1025.8h1.54V1320.4zM660.29 1320.4V1059.4h1.54V1320.4zM661.41 1320.4V1059.4h1.54V1320.4zM662.53 1320.4V966.8h1.54V1320.4zM663.65 1320.4V865.8h1.54V1320.4zM664.78 1320.4V1059.4h1.54V1320.4zM665.90 1320.4V1109.9h1.54V1320.4zM667.02 1320.4V1177.3h1.54V1320.4zM668.14 1320.4V1067.8h1.54V1320.4zM669.27 1320.4V1042.6h1.54V1320.4zM670.39 1320.4V975.2h1.54V1320.4zM671.51 1320.4V1008.9h1.54V1320.4zM672.63 1320.4V1017.3h1.54V1320.4zM673.75 1320.4V1025.8h1.54V1320.4zM674.88 1320.4V1076.3h1.54V1320.4zM676.00 1320.4V1219.4h1.54V1320.4zM677.12 1320.4V1236.2h1.54V1320.4zM678.24 1320.4V1253.1h1.54V1320.4zM679.36 1320.4V1278.3h1.54V1320.4zM680.49 1320.4V1278.3h1.54V1320.4zM681.61 1320.4V1253.1h1.54V1320.4zM682.73 1320.4V1084.7h1.54V1320.4zM683.85 1320.4V1101.5h1.54V1320.4zM684.98 1320.4V1269.9h1.54V1320.4zM686.10 1320.4V1269.9h1.54V1320.4zM687.22 1320.4V1286.7h1.54V1320.4zM688.34 1320.4V1303.6h1.54V1320.4zM689.46 1320.4V1244.6h1.54V1320.4zM690.59 1320.4V1236.2h1.54V1320.4zM691.71 1320.4V1227.8h1.54V1320.4zM692.83 1320.4V1227.8h1.54V1320.4zM693.95 1320.4V1101.5h1.54V1320.4zM695.08 1320.4V916.3h1.54V1320.4zM696.20 1320.4V950.0h1.54V1320.4zM697.32 1320.4V1067.8h1.54V1320.4zM698.44 1320.4V1093.1h1.54V1320.4zM699.56 1320.4V1219.4h1.54V1320.4zM700.69 1320.4V1152.0h1.54V1320.4zM701.81 1320.4V1093.1h1.54V1320.4zM702.93 1320.4V1093.1h1.54V1320.4zM704.05 1320.4V1160.5h1.54V1320.4zM705.18 1320.4V1185.7h1.54V1320.4zM882.43 1320.4V1101.5h1.54V1320.4zM883.55 1320.4V1000.5h1.54V1320.4zM884.67 1320.4V1017.3h1.54V1320.4zM885.80 1320.4V1034.2h1.54V1320.4zM886.92 1320.4V1076.3h1.54V1320.4zM888.04 1320.4V1059.4h1.54V1320.4zM889.16 1320.4V1067.8h1.54V1320.4zM890.28 1320.4V1202.5h1.54V1320.4zM891.41 1320.4V1219.4h1.54V1320.4zM892.53 1320.4V958.4h1.54V1320.4zM893.65 1320.4V983.7h1.54V1320.4zM894.77 1320.4V1000.5h1.54V1320.4zM895.90 1320.4V1059.4h1.54V1320.4zM897.02 1320.4V1025.8h1.54V1320.4zM898.14 1320.4V975.2h1.54V1320.4zM899.26 1320.4V950.0h1.54V1320.4zM900.38 1320.4V882.6h1.54V1320.4zM901.51 1320.4V1000.5h1.54V1320.4zM902.63 1320.4V1168.9h1.54V1320.4zM903.75 1320.4V1244.6h1.54V1320.4zM904.87 1320.4V1126.8h1.54V1320.4zM906.00 1320.4V1067.8h1.54V1320.4zM907.12 1320.4V933.2h1.54V1320.4zM908.24 1320.4V1059.4h1.54V1320.4zM909.36 1320.4V1126.8h1.54V1320.4zM910.48 1320.4V1126.8h1.54V1320.4zM911.61 1320.4V1126.8h1.54V1320.4zM912.73 1320.4V1042.6h1.54V1320.4zM913.85 1320.4V1177.3h1.54V1320.4zM914.97 1320.4V1177.3h1.54V1320.4zM916.10 1320.4V1160.5h1.54V1320.4zM917.22 1320.4V1101.5h1.54V1320.4zM918.34 1320.4V1067.8h1.54V1320.4zM919.46 1320.4V1025.8h1.54V1320.4zM920.58 1320.4V1101.5h1.54V1320.4zM921.71 1320.4V1236.2h1.54V1320.4zM922.83 1320.4V1278.3h1.54V1320.4zM923.95 1320.4V1076.3h1.54V1320.4zM925.07 1320.4V1067.8h1.54V1320.4zM926.20 1320.4V1051.0h1.54V1320.4zM927.32 1320.4V1059.4h1.54V1320.4zM928.44 1320.4V1067.8h1.54V1320.4zM929.56 1320.4V1025.8h1.54V1320.4zM930.68 1320.4V1076.3h1.54V1320.4zM931.81 1320.4V1084.7h1.54V1320.4zM932.93 1320.4V1067.8h1.54V1320.4zM934.05 1320.4V1008.9h1.54V1320.4zM935.17 1320.4V992.1h1.54V1320.4zM936.30 1320.4V966.8h1.54V1320.4zM937.42 1320.4V1017.3h1.54V1320.4zM938.54 1320.4V1093.1h1.54V1320.4zM939.66 1320.4V1185.7h1.54V1320.4zM940.78 1320.4V1185.7h1.54V1320.4zM941.91 1320.4V1185.7h1.54V1320.4zM943.03 1320.4V1185.7h1.54V1320.4zM944.15 1320.4V1168.9h1.54V1320.4zM945.27 1320.4V1109.9h1.54V1320.4zM946.39 1320.4V992.1h1.54V1320.4zM947.52 1320.4V1008.9h1.54V1320.4zM948.64 1320.4V1067.8h1.54V1320.4zM949.76 1320.4V1118.4h1.54V1320.4zM950.88 1320.4V1211.0h1.54V1320.4zM952.01 1320.4V1152.0h1.54V1320.4zM953.13 1320.4V1042.6h1.54V1320.4zM954.25 1320.4V1008.9h1.54V1320.4zM955.37 1320.4V1017.3h1.54V1320.4zM956.49 1320.4V1000.5h1.54V1320.4zM957.62 1320.4V983.7h1.54V1320.4zM958.74 1320.4V992.1h1.54V1320.4zM959.86 1320.4V882.6h1.54V1320.4zM960.98 1320.4V975.2h1.54V1320.4zM962.11 1320.4V924.7h1.54V1320.4zM963.23 1320.4V975.2h1.54V1320.4zM964.35 1320.4V983.7h1.54V1320.4zM965.47 1320.4V1017.3h1.54V1320.4zM966.59 1320.4V1034.2h1.54V1320.4zM967.72 1320.4V1034.2h1.54V1320.4zM968.84 1320.4V1067.8h1.54V1320.4zM969.96 1320.4V1143.6h1.54V1320.4zM971.08 1320.4V1042.6h1.54V1320.4zM972.21 1320.4V1034.2h1.54V1320.4zM973.33 1320.4V1017.3h1.54V1320.4zM974.45 1320.4V983.7h1.54V1320.4zM975.57 1320.4V1067.8h1.54V1320.4zM976.69 1320.4V1084.7h1.54V1320.4zM977.82 1320.4V1067.8h1.54V1320.4zM978.94 1320.4V1042.6h1.54V1320.4zM980.06 1320.4V1034.2h1.54V1320.4zM981.18 1320.4V1126.8h1.54V1320.4zM982.31 1320.4V975.2h1.54V1320.4zM983.43 1320.4V941.6h1.54V1320.4zM984.55 1320.4V899.5h1.54V1320.4zM985.67 1320.4V966.8h1.54V1320.4zM986.79 1320.4V1202.5h1.54V1320.4zM987.92 1320.4V1042.6h1.54V1320.4zM989.04 1320.4V1059.4h1.54V1320.4zM990.16 1320.4V1084.7h1.54V1320.4zM991.28 1320.4V1034.2h1.54V1320.4zM992.41 1320.4V1017.3h1.54V1320.4zM993.53 1320.4V992.1h1.54V1320.4zM994.65 1320.4V975.2h1.54V1320.4zM995.77 1320.4V1008.9h1.54V1320.4zM996.89 1320.4V983.7h1.54V1320.4zM998.02 1320.4V958.4h1.54V1320.4zM999.14 1320.4V1051.0h1.54V1320.4zM1000.26 1320.4V1118.4h1.54V1320.4zM1001.38 1320.4V1269.9h1.54V1320.4zM1002.50 1320.4V1042.6h1.54V1320.4zM1003.63 1320.4V1025.8h1.54V1320.4zM1004.75 1320.4V966.8h1.54V1320.4zM1005.87 1320.4V1067.8h1.54V1320.4zM1006.99 1320.4V1118.4h1.54V1320.4zM1008.12 1320.4V1177.3h1.54V1320.4zM1009.24 1320.4V1177.3h1.54V1320.4zM1010.36 1320.4V1067.8h1.54V1320.4zM1011.48 1320.4V1025.8h1.54V1320.4zM1012.60 1320.4V1000.5h1.54V1320.4zM1013.73 1320.4V1076.3h1.54V1320.4zM1014.85 1320.4V1236.2h1.54V1320.4zM1015.97 1320.4V1286.7h1.54V1320.4zM1017.09 1320.4V1126.8h1.54V1320.4zM1018.22 1320.4V1126.8h1.54V1320.4zM1019.34 1320.4V1135.2h1.54V1320.4zM1020.46 1320.4V1152.0h1.54V1320.4zM1021.58 1320.4V1168.9h1.54V1320.4zM1022.70 1320.4V1109.9h1.54V1320.4zM1023.83 1320.4V1084.7h1.54V1320.4zM1024.95 1320.4V1000.5h1.54V1320.4zM1026.07 1320.4V1025.8h1.54V1320.4zM1027.19 1320.4V1051.0h1.54V1320.4zM1028.32 1320.4V1177.3h1.54V1320.4zM1205.57 1320.4V1135.2h1.54V1320.4zM1206.69 1320.4V1042.6h1.54V1320.4zM1207.81 1320.4V1008.9h1.54V1320.4zM1208.94 1320.4V1025.8h1.54V1320.4zM1210.06 1320.4V1101.5h1.54V1320.4zM1211.18 1320.4V1059.4h1.54V1320.4zM1212.30 1320.4V1135.2h1.54V1320.4zM1213.42 1320.4V1211.0h1.54V1320.4zM1214.55 1320.4V1211.0h1.54V1320.4zM1215.67 1320.4V1118.4h1.54V1320.4zM1216.79 1320.4V1008.9h1.54V1320.4zM1217.91 1320.4V983.7h1.54V1320.4zM1219.04 1320.4V891.1h1.54V1320.4zM1220.16 1320.4V1000.5h1.54V1320.4zM1221.28 1320.4V1017.3h1.54V1320.4zM1222.40 1320.4V1034.2h1.54V1320.4zM1223.52 1320.4V1034.2h1.54V1320.4zM1224.65 1320.4V1067.8h1.54V1320.4zM1225.77 1320.4V1034.2h1.54V1320.4zM1226.89 1320.4V958.4h1.54V1320.4zM1228.01 1320.4V958.4h1.54V1320.4zM1229.14 1320.4V933.2h1.54V1320.4zM1230.26 1320.4V950.0h1.54V1320.4zM1231.38 1320.4V975.2h1.54V1320.4zM1232.50 1320.4V1067.8h1.54V1320.4zM1233.62 1320.4V1076.3h1.54V1320.4zM1234.75 1320.4V1076.3h1.54V1320.4zM1235.87 1320.4V1084.7h1.54V1320.4zM1236.99 1320.4V1109.9h1.54V1320.4zM1238.11 1320.4V1067.8h1.54V1320.4zM1239.24 1320.4V1008.9h1.54V1320.4zM1240.36 1320.4V1160.5h1.54V1320.4zM1241.48 1320.4V1160.5h1.54V1320.4zM1242.60 1320.4V1219.4h1.54V1320.4zM1243.72 1320.4V1008.9h1.54V1320.4zM1244.85 1320.4V1042.6h1.54V1320.4zM1245.97 1320.4V1025.8h1.54V1320.4zM1247.09 1320.4V1067.8h1.54V1320.4zM1248.21 1320.4V1084.7h1.54V1320.4zM1249.34 1320.4V1126.8h1.54V1320.4zM1250.46 1320.4V1236.2h1.54V1320.4zM1251.58 1320.4V1286.7h1.54V1320.4zM1252.70 1320.4V1194.1h1.54V1320.4zM1253.82 1320.4V1152.0h1.54V1320.4zM1254.95 1320.4V1152.0h1.54V1320.4zM1256.07 1320.4V1109.9h1.54V1320.4zM1257.19 1320.4V1109.9h1.54V1320.4zM1258.31 1320.4V1067.8h1.54V1320.4zM1259.44 1320.4V992.1h1.54V1320.4zM1260.56 1320.4V975.2h1.54V1320.4zM1261.68 1320.4V1017.3h1.54V1320.4zM1262.80 1320.4V1067.8h1.54V1320.4zM1263.92 1320.4V1067.8h1.54V1320.4zM1265.05 1320.4V1093.1h1.54V1320.4zM1266.17 1320.4V1185.7h1.54V1320.4zM1267.29 1320.4V1067.8h1.54V1320.4zM1268.41 1320.4V1067.8h1.54V1320.4zM1269.53 1320.4V1067.8h1.54V1320.4zM1270.66 1320.4V1059.4h1.54V1320.4zM1271.78 1320.4V1059.4h1.54V1320.4zM1272.90 1320.4V1211.0h1.54V1320.4zM1274.02 1320.4V1185.7h1.54V1320.4zM1275.15 1320.4V1185.7h1.54V1320.4zM1276.27 1320.4V1295.1h1.54V1320.4zM1277.39 1320.4V1168.9h1.54V1320.4zM1278.51 1320.4V1042.6h1.54V1320.4zM1279.63 1320.4V1042.6h1.54V1320.4zM1280.76 1320.4V966.8h1.54V1320.4zM1281.88 1320.4V1025.8h1.54V1320.4zM1283.00 1320.4V1059.4h1.54V1320.4zM1284.12 1320.4V1093.1h1.54V1320.4zM1285.25 1320.4V1126.8h1.54V1320.4zM1286.37 1320.4V1202.5h1.54V1320.4zM1287.49 1320.4V1202.5h1.54V1320.4zM1288.61 1320.4V1219.4h1.54V1320.4zM1289.73 1320.4V1219.4h1.54V1320.4zM1290.86 1320.4V1227.8h1.54V1320.4zM1291.98 1320.4V1093.1h1.54V1320.4zM1293.10 1320.4V1025.8h1.54V1320.4zM1294.22 1320.4V983.7h1.54V1320.4zM1295.35 1320.4V1067.8h1.54V1320.4zM1296.47 1320.4V1261.5h1.54V1320.4zM1297.59 1320.4V1261.5h1.54V1320.4zM1298.71 1320.4V1286.7h1.54V1320.4zM1299.83 1320.4V1278.3h1.54V1320.4zM1300.96 1320.4V1278.3h1.54V1320.4zM1302.08 1320.4V1042.6h1.54V1320.4zM1303.20 1320.4V1025.8h1.54V1320.4zM1304.32 1320.4V1025.8h1.54V1320.4zM1305.45 1320.4V1025.8h1.54V1320.4zM1306.57 1320.4V983.7h1.54V1320.4zM1307.69 1320.4V933.2h1.54V1320.4zM1308.81 1320.4V865.8h1.54V1320.4zM1309.93 1320.4V1126.8h1.54V1320.4zM1311.06 1320.4V1017.3h1.54V1320.4zM1312.18 1320.4V1017.3h1.54V1320.4zM1313.30 1320.4V1025.8h1.54V1320.4zM1314.42 1320.4V1059.4h1.54V1320.4zM1315.55 1320.4V1168.9h1.54V1320.4zM1316.67 1320.4V1059.4h1.54V1320.4zM1317.79 1320.4V1084.7h1.54V1320.4zM1318.91 1320.4V1177.3h1.54V1320.4zM1320.03 1320.4V1067.8h1.54V1320.4zM1321.16 1320.4V992.1h1.54V1320.4zM1322.28 1320.4V1034.2h1.54V1320.4zM1323.40 1320.4V1152.0h1.54V1320.4zM1324.52 1320.4V1126.8h1.54V1320.4zM1325.64 1320.4V1101.5h1.54V1320.4zM1326.77 1320.4V1101.5h1.54V1320.4zM1327.89 1320.4V1101.5h1.54V1320.4zM1329.01 1320.4V1168.9h1.54V1320.4zM1330.13 1320.4V1168.9h1.54V1320.4zM1331.26 1320.4V1168.9h1.54V1320.4zM1332.38 1320.4V1211.0h1.54V1320.4zM1333.50 1320.4V1202.5h1.54V1320.4zM1334.62 1320.4V1202.5h1.54V1320.4zM1335.74 1320.4V1227.8h1.54V1320.4zM1336.87 1320.4V1219.4h1.54V1320.4zM1337.99 1320.4V1211.0h1.54V1320.4zM1339.11 1320.4V1227.8h1.54V1320.4zM1340.23 1320.4V1227.8h1.54V1320.4zM1341.36 1320.4V1211.0h1.54V1320.4zM1342.48 1320.4V1211.0h1.54V1320.4zM1343.60 1320.4V1269.9h1.54V1320.4zM1344.72 1320.4V1269.9h1.54V1320.4zM1345.84 1320.4V1303.6h1.54V1320.4zM1346.97 1320.4V1312.0h1.54V1320.4zM1348.09 1320.4V1312.0h1.54V1320.4zM1349.21 1320.4V1286.7h1.54V1320.4zM1350.33 1320.4V1194.1h1.54V1320.4zM1351.46 1320.4V1269.9h1.54V1320.4zM2173.87 1320.4V1059.4h1.54V1320.4zM2174.99 1320.4V916.3h1.54V1320.4zM2176.11 1320.4V924.7h1.54V1320.4zM2177.23 1320.4V1025.8h1.54V1320.4zM2178.36 1320.4V1059.4h1.54V1320.4zM2179.48 1320.4V1025.8h1.54V1320.4zM2180.60 1320.4V1076.3h1.54V1320.4zM2181.72 1320.4V1059.4h1.54V1320.4zM2182.84 1320.4V1160.5h1.54V1320.4zM2183.97 1320.4V1194.1h1.54V1320.4zM2185.09 1320.4V1244.6h1.54V1320.4zM2186.21 1320.4V1211.0h1.54V1320.4zM2187.33 1320.4V1101.5h1.54V1320.4zM2188.46 1320.4V1126.8h1.54V1320.4zM2189.58 1320.4V1168.9h1.54V1320.4zM2190.70 1320.4V1034.2h1.54V1320.4zM2191.82 1320.4V1084.7h1.54V1320.4zM2192.94 1320.4V1042.6h1.54V1320.4zM2194.07 1320.4V1000.5h1.54V1320.4zM2195.19 1320.4V1177.3h1.54V1320.4zM2196.31 1320.4V1278.3h1.54V1320.4zM2197.43 1320.4V1211.0h1.54V1320.4zM2198.56 1320.4V1202.5h1.54V1320.4zM2199.68 1320.4V975.2h1.54V1320.4zM2200.80 1320.4V1000.5h1.54V1320.4zM2201.92 1320.4V1025.8h1.54V1320.4zM2203.04 1320.4V1059.4h1.54V1320.4zM2204.17 1320.4V1017.3h1.54V1320.4zM2205.29 1320.4V1135.2h1.54V1320.4zM2206.41 1320.4V1278.3h1.54V1320.4zM2207.53 1320.4V1253.1h1.54V1320.4zM2208.66 1320.4V1236.2h1.54V1320.4zM2209.78 1320.4V1202.5h1.54V1320.4zM2210.90 1320.4V1194.1h1.54V1320.4zM2212.02 1320.4V1168.9h1.54V1320.4zM2213.14 1320.4V1227.8h1.54V1320.4zM2214.27 1320.4V1076.3h1.54V1320.4zM2215.39 1320.4V1160.5h1.54V1320.4zM2216.51 1320.4V1211.0h1.54V1320.4zM2217.63 1320.4V1278.3h1.54V1320.4zM2218.76 1320.4V1177.3h1.54V1320.4zM2219.88 1320.4V1227.8h1.54V1320.4zM2221.00 1320.4V1185.7h1.54V1320.4zM2222.12 1320.4V1177.3h1.54V1320.4zM2223.24 1320.4V1109.9h1.54V1320.4zM2224.37 1320.4V1194.1h1.54V1320.4zM2225.49 1320.4V1261.5h1.54V1320.4zM2226.61 1320.4V1152.0h1.54V1320.4zM2227.73 1320.4V1160.5h1.54V1320.4zM2228.86 1320.4V1160.5h1.54V1320.4zM2229.98 1320.4V1227.8h1.54V1320.4zM2231.10 1320.4V1227.8h1.54V1320.4zM2232.22 1320.4V1185.7h1.54V1320.4zM2233.34 1320.4V1152.0h1.54V1320.4zM2234.47 1320.4V1286.7h1.54V1320.4zM2235.59 1320.4V1295.1h1.54V1320.4zM2236.71 1320.4V1253.1h1.54V1320.4zM2237.83 1320.4V1236.2h1.54V1320.4zM2238.95 1320.4V1194.1h1.54V1320.4zM2240.08 1320.4V1194.1h1.54V1320.4zM2241.20 1320.4V1286.7h1.54V1320.4zM2242.32 1320.4V1286.7h1.54V1320.4zM2243.44 1320.4V1244.6h1.54V1320.4zM2244.57 1320.4V1295.1h1.54V1320.4zM2245.69 1320.4V1194.1h1.54V1320.4zM2246.81 1320.4V1042.6h1.54V1320.4zM2247.93 1320.4V1008.9h1.54V1320.4zM2249.05 1320.4V1042.6h1.54V1320.4zM2250.18 1320.4V1101.5h1.54V1320.4zM2251.30 1320.4V1093.1h1.54V1320.4zM2252.42 1320.4V1059.4h1.54V1320.4zM2253.54 1320.4V1101.5h1.54V1320.4zM2254.67 1320.4V1076.3h1.54V1320.4zM2255.79 1320.4V1143.6h1.54V1320.4zM2256.91 1320.4V966.8h1.54V1320.4zM2258.03 1320.4V1025.8h1.54V1320.4zM2259.15 1320.4V1109.9h1.54V1320.4zM2260.28 1320.4V1025.8h1.54V1320.4zM2261.40 1320.4V1109.9h1.54V1320.4zM2262.52 1320.4V1025.8h1.54V1320.4zM2263.64 1320.4V1067.8h1.54V1320.4zM2264.77 1320.4V1093.1h1.54V1320.4zM2265.89 1320.4V983.7h1.54V1320.4zM2267.01 1320.4V1008.9h1.54V1320.4zM2268.13 1320.4V966.8h1.54V1320.4zM2269.25 1320.4V992.1h1.54V1320.4zM2270.38 1320.4V1000.5h1.54V1320.4zM2271.50 1320.4V975.2h1.54V1320.4zM2272.62 1320.4V966.8h1.54V1320.4zM2273.74 1320.4V950.0h1.54V1320.4zM2274.87 1320.4V1042.6h1.54V1320.4zM2275.99 1320.4V1017.3h1.54V1320.4zM2277.11 1320.4V1135.2h1.54V1320.4zM2278.23 1320.4V1084.7h1.54V1320.4zM2279.35 1320.4V950.0h1.54V1320.4zM2280.48 1320.4V1126.8h1.54V1320.4zM2281.60 1320.4V1253.1h1.54V1320.4zM2282.72 1320.4V1244.6h1.54V1320.4zM2283.84 1320.4V1244.6h1.54V1320.4zM2284.97 1320.4V1303.6h1.54V1320.4zM2286.09 1320.4V1295.1h1.54V1320.4zM2287.21 1320.4V1051.0h1.54V1320.4zM2288.33 1320.4V1008.9h1.54V1320.4zM2289.45 1320.4V958.4h1.54V1320.4zM2290.58 1320.4V992.1h1.54V1320.4zM2291.70 1320.4V1067.8h1.54V1320.4zM2292.82 1320.4V1051.0h1.54V1320.4zM2293.94 1320.4V1109.9h1.54V1320.4zM2295.06 1320.4V1067.8h1.54V1320.4zM2296.19 1320.4V1168.9h1.54V1320.4zM2297.31 1320.4V1126.8h1.54V1320.4zM2298.43 1320.4V1109.9h1.54V1320.4zM2299.55 1320.4V1202.5h1.54V1320.4zM2300.68 1320.4V1185.7h1.54V1320.4zM2301.80 1320.4V1143.6h1.54V1320.4zM2302.92 1320.4V1168.9h1.54V1320.4zM2304.04 1320.4V1177.3h1.54V1320.4zM2305.16 1320.4V1177.3h1.54V1320.4zM2306.29 1320.4V1219.4h1.54V1320.4zM2307.41 1320.4V1219.4h1.54V1320.4zM2308.53 1320.4V1244.6h1.54V1320.4zM2309.65 1320.4V1286.7h1.54V1320.4zM2310.78 1320.4V1227.8h1.54V1320.4zM2311.90 1320.4V1236.2h1.54V1320.4zM2313.02 1320.4V1168.9h1.54V1320.4zM2314.14 1320.4V1261.5h1.54V1320.4zM2315.26 1320.4V1286.7h1.54V1320.4zM2316.39 1320.4V1278.3h1.54V1320.4zM2317.51 1320.4V1286.7h1.54V1320.4zM2318.63 1320.4V1185.7h1.54V1320.4zM2319.75 1320.4V1219.4h1.54V1320.4zM2320.88 1320.4V1278.3h1.54V1320.4z" fill="#249070"/>
</g>
<rect x="153.8" y="814.8" width="1.8" height="506.60000000000014" fill="#555"/>
<rect x="153.8" y="1320.4" width="2263.2" height="1.6" fill="#777"/>
<rect x="143.4" y="1319.70" width="10.6" height="1.4" fill="#808080"/>
<text x="121.10" y="1326.70" font-size="19.8" font-weight="normal" fill="#333" textLength="12.40" lengthAdjust="spacingAndGlyphs" xml:space="preserve" >0</text>
<rect x="143.4" y="1235.52" width="10.6" height="1.4" fill="#808080"/>
<text x="108.70" y="1242.52" font-size="19.8" font-weight="normal" fill="#333" textLength="24.80" lengthAdjust="spacingAndGlyphs" xml:space="preserve" >10</text>
<rect x="143.4" y="1151.33" width="10.6" height="1.4" fill="#808080"/>
<text x="108.70" y="1158.33" font-size="19.8" font-weight="normal" fill="#333" textLength="24.80" lengthAdjust="spacingAndGlyphs" xml:space="preserve" >20</text>
<rect x="143.4" y="1067.15" width="10.6" height="1.4" fill="#808080"/>
<text x="108.70" y="1074.15" font-size="19.8" font-weight="normal" fill="#333" textLength="24.80" lengthAdjust="spacingAndGlyphs" xml:space="preserve" >30</text>
<rect x="143.4" y="982.97" width="10.6" height="1.4" fill="#808080"/>
<text x="108.70" y="989.97" font-size="19.8" font-weight="normal" fill="#333" textLength="24.80" lengthAdjust="spacingAndGlyphs" xml:space="preserve" >40</text>
<rect x="143.4" y="898.78" width="10.6" height="1.4" fill="#808080"/>
<text x="108.70" y="905.78" font-size="19.8" font-weight="normal" fill="#333" textLength="24.80" lengthAdjust="spacingAndGlyphs" xml:space="preserve" >50</text>
<rect x="143.4" y="814.60" width="10.6" height="1.4" fill="#808080"/>
<text x="108.70" y="821.60" font-size="19.8" font-weight="normal" fill="#333" textLength="24.80" lengthAdjust="spacingAndGlyphs" xml:space="preserve" >60</text>
<rect x="155.20" y="1322.4" width="1.6" height="10" fill="#aaa"/>
<text x="117.40" y="1356.60" font-size="19.8" font-weight="normal" fill="#000" textLength="76.80" lengthAdjust="spacingAndGlyphs" xml:space="preserve" >mar. 07</text>
<rect x="478.07" y="1322.4" width="1.6" height="10" fill="#aaa"/>
<text x="440.75" y="1356.60" font-size="19.8" font-weight="normal" fill="#000" textLength="76.50" lengthAdjust="spacingAndGlyphs" xml:space="preserve" >mer. 08</text>
<rect x="800.94" y="1322.4" width="1.6" height="10" fill="#aaa"/>
<text x="765.45" y="1356.60" font-size="19.8" font-weight="normal" fill="#000" textLength="72.30" lengthAdjust="spacingAndGlyphs" xml:space="preserve" >jeu. 09</text>
<rect x="1123.81" y="1322.4" width="1.6" height="10" fill="#aaa"/>
<text x="1086.85" y="1356.60" font-size="19.8" font-weight="normal" fill="#000" textLength="76.10" lengthAdjust="spacingAndGlyphs" xml:space="preserve" >ven. 10</text>
<rect x="1446.68" y="1322.4" width="1.6" height="10" fill="#aaa"/>
<text x="1406.05" y="1356.60" font-size="19.8" font-weight="normal" fill="#000" textLength="81.90" lengthAdjust="spacingAndGlyphs" xml:space="preserve" >sam. 11</text>
<rect x="1769.55" y="1322.4" width="1.6" height="10" fill="#aaa"/>
<text x="1730.95" y="1356.60" font-size="19.8" font-weight="normal" fill="#000" textLength="78.10" lengthAdjust="spacingAndGlyphs" xml:space="preserve" >dim. 12</text>
<rect x="2092.42" y="1322.4" width="1.6" height="10" fill="#aaa"/>
<text x="2057.95" y="1356.60" font-size="19.8" font-weight="normal" fill="#000" textLength="70.70" lengthAdjust="spacingAndGlyphs" xml:space="preserve" >lun. 13</text>
<g transform="translate(86.2,1068.0) rotate(-90)">
<text x="-15.25" y="0.00" font-size="23.2" font-weight="normal" fill="#444" textLength="30.50" lengthAdjust="spacingAndGlyphs" xml:space="preserve" >kW</text>
</g>
<rect x="1990" y="60" width="416" height="38" fill="#fff"/>
<text x="2110.60" y="89.30" font-size="25.0" font-weight="bold" fill="#000" textLength="174.00" lengthAdjust="spacingAndGlyphs" xml:space="preserve" >LHB-site-L328</text>
<rect x="1992.0" y="108.5" width="412" height="57.5" rx="9" ry="9" fill="#fff" stroke="#808080" stroke-width="3.3"/>
<text x="2050.85" y="148.20" font-size="28.0" font-weight="normal" fill="#000" textLength="313.50" lengthAdjust="spacingAndGlyphs" xml:space="preserve" >Consommation: 363 kWh</text>
<rect x="1992.0" y="178.5" width="412" height="57.5" rx="9" ry="9" fill="#fff" stroke="#808080" stroke-width="3.3"/>
<text x="2111.15" y="218.20" font-size="28.0" font-weight="normal" fill="#000" textLength="191.50" lengthAdjust="spacingAndGlyphs" xml:space="preserve" >P Max :  48 kW</text>
<rect x="1992.0" y="248.0" width="412" height="58" rx="9" ry="9" fill="#fff" stroke="#808080" stroke-width="3.3"/>
<text x="2126.40" y="288.20" font-size="28.0" font-weight="normal" fill="#000" textLength="162.00" lengthAdjust="spacingAndGlyphs" xml:space="preserve" >P min : 1 kW</text>
<rect x="561.5" y="805.8" width="413" height="58.7" rx="9" ry="9" fill="#fff" stroke="#808080" stroke-width="3.3"/>
<text x="608.60" y="846.10" font-size="28.0" font-weight="normal" fill="#000" textLength="338.00" lengthAdjust="spacingAndGlyphs" xml:space="preserve" >Consommation: 1 553 kWh</text>
<rect x="1100.0" y="805.8" width="412.5" height="58.7" rx="9" ry="9" fill="#fff" stroke="#808080" stroke-width="3.3"/>
<text x="1218.50" y="846.10" font-size="28.0" font-weight="normal" fill="#000" textLength="193.00" lengthAdjust="spacingAndGlyphs" xml:space="preserve" >P Max :  56 kW</text>
<rect x="1609.5" y="805.8" width="413" height="58.7" rx="9" ry="9" fill="#fff" stroke="#808080" stroke-width="3.3"/>
<text x="1743.00" y="846.10" font-size="28.0" font-weight="normal" fill="#000" textLength="164.00" lengthAdjust="spacingAndGlyphs" xml:space="preserve" >P min : 0 kW</text>
<rect x="1047.7" y="542.4" width="522.5" height="70" rx="9" ry="9" fill="#fff" fill-opacity="0.91"/>
<text x="1172.90" y="588.50" font-size="29.6" font-weight="bold" fill="#0a0f0d" textLength="284.00" lengthAdjust="spacingAndGlyphs" xml:space="preserve" >lundi 13 avril 2026</text>
<g transform="translate(176.5,49)">
<rect x="0" y="0" width="481.5" height="77.6" fill="#0a0916"/>
<g fill="none" stroke="url(#eco)" stroke-width="6.9" stroke-linecap="round" stroke-linejoin="round">
<path d="M16 45.6 L34.4 45.6 A9.8 11.9 0 1 0 32.3 55.0"/>
<path d="M23.5 24.2 L30 21.4" stroke="#00f0c8" stroke-width="6.2"/>
<path d="M61.4 38.2 A9.8 11.9 0 1 0 61.4 54.0"/>
<ellipse cx="80.9" cy="46" rx="9.9" ry="11.9"/>
</g>
<g fill="none" stroke="#fff" stroke-width="6.8" stroke-linecap="round" stroke-linejoin="round">
<path d="M99.3 37.2 L107.3 58.4 L115.8 39 L123.2 58.4 L137.6 18.6"/>
<path d="M159.4 34.5 L159.4 58.4 M159.4 46.6 A10 11.6 0 1 0 159.4 47"/>
<path d="M169.8 25.2 L169.8 52 Q169.8 58.6 177 58.4 M164.5 33 L177.5 33"/>
<path d="M185.2 25.2 L185.2 52 Q185.2 58.6 192.4 58.4 M179.5 33 L195.3 33"/>
</g>
<ellipse cx="257.5" cy="40.2" rx="26" ry="28" fill="#00b5e2"/>
<g fill="none" stroke="#fff" stroke-width="2.0" stroke-linecap="butt">
<path d="M243.4 48 V31.2 H247.6 A4.6 4.6 0 0 1 247.6 40.4 H243.4 M247.2 40.4 L252.2 48"/>
<path d="M255.6 33.5 V45 Q255.6 48 258.6 48"/>
<path d="M250.5 40.5 H273.2" stroke-width="1.7"/>
<path d="M261.2 42.7 H272.8 A5.8 5.6 0 1 0 271.2 46.6" stroke-width="1.9"/>
</g>
<text x="291.90" y="30.60" font-size="11.3" font-weight="normal" fill="#0a9fd0" textLength="47.50" lengthAdjust="spacingAndGlyphs" xml:space="preserve" >Le réseau</text>
<text x="291.90" y="43.60" font-size="11.3" font-weight="normal" fill="#0a9fd0" textLength="60.60" lengthAdjust="spacingAndGlyphs" xml:space="preserve" >de transport</text>
<text x="291.90" y="56.60" font-size="11.3" font-weight="normal" fill="#0a9fd0" textLength="57.00" lengthAdjust="spacingAndGlyphs" xml:space="preserve" >d’électricité</text>
<rect x="370.2" y="12.2" width="100.5" height="55.8" fill="#fff"/>
<rect x="376.5" y="19.8" width="8" height="6.7" fill="#2a3a8c"/><rect x="384.5" y="19.8" width="3.2" height="6.7" fill="#fff"/><rect x="387.6" y="19.8" width="7.4" height="6.7" fill="#e1000f"/>
<text x="376.50" y="35.60" font-size="7.4" font-weight="bold" fill="#222" textLength="43.50" lengthAdjust="spacingAndGlyphs" xml:space="preserve" >RÉPUBLIQUE</text>
<text x="376.50" y="43.90" font-size="7.4" font-weight="bold" fill="#222" textLength="40.60" lengthAdjust="spacingAndGlyphs" xml:space="preserve" >FRANÇAISE</text>
<text x="376.80" y="50.60" font-size="3.7" font-weight="normal" fill="#666" textLength="11.50" lengthAdjust="spacingAndGlyphs" xml:space="preserve" font-style="italic">Liberté</text>
<text x="376.80" y="55.55" font-size="3.7" font-weight="normal" fill="#666" textLength="11.50" lengthAdjust="spacingAndGlyphs" xml:space="preserve" font-style="italic">Égalité</text>
<text x="376.80" y="60.50" font-size="3.7" font-weight="normal" fill="#666" textLength="16.50" lengthAdjust="spacingAndGlyphs" xml:space="preserve" font-style="italic">Fraternité</text>
<rect x="430.9" y="17.9" width="34.3" height="44.2" fill="#fff" stroke="#4a7cc4" stroke-width="1"/>
<text x="435.25" y="25.90" font-size="6.3" font-weight="bold" fill="#e1000f" textLength="25.50" lengthAdjust="spacingAndGlyphs" xml:space="preserve" >ADEME</text>
<circle cx="447.8" cy="38.1" r="8.9" fill="#2a4fb0"/>
<path d="M443.5 33 q3 -2.5 6 -1 q-1.5 2.5 -0.5 4.5 q2 2 0.5 5 q-2.5 2.5 -4.5 0 q0.5 -3 -1.5 -4.5 q-1.5 -2 0 -4z" fill="#8aa6e0" opacity="0.85"/>
<text x="435.25" y="53.00" font-size="3.1" font-weight="bold" fill="#e1000f" textLength="25.50" lengthAdjust="spacingAndGlyphs" xml:space="preserve" >AGENCE DE LA</text>
<text x="435.25" y="56.70" font-size="3.1" font-weight="bold" fill="#e1000f" textLength="25.50" lengthAdjust="spacingAndGlyphs" xml:space="preserve" >TRANSITION</text>
<text x="435.25" y="60.40" font-size="3.1" font-weight="bold" fill="#e1000f" textLength="25.50" lengthAdjust="spacingAndGlyphs" xml:space="preserve" >ÉCOLOGIQUE</text>
</g>
<rect x="169.8" y="135.5" width="490" height="123" fill="#dcdcdc"/>
<rect x="172.6" y="139" width="116.6" height="49.6" fill="#f2f2f2"/>
<rect x="172.6" y="194.6" width="116.6" height="58.4" fill="#f2f2f2"/>
<rect x="286.0" y="194.6" width="3.2" height="58.4" fill="#fff"/>
<svg x="180.0" y="194.9" width="106.0" height="55.2" viewBox="0 0 106 55" preserveAspectRatio="none">
<rect width="106" height="55" fill="url(#teal)"/>
<path d="M17 0 C38 12 55 25 74 24 C88 23.5 98 20 106 16.5 L106 0 Z" fill="#00f0cc"/>
<path d="M29 0 C45 7 58 11.5 72 10.8 C86 10 97 7 106 3.6 L106 0 Z" fill="#00a38a"/>
</svg>
<path d="M237.9 150.9 V166.6 Q237.9 173.6 231.0 173.6 Q225.3 173.6 224.3 167.2" fill="none" stroke="#000" stroke-width="3.4"/>
<rect x="294.5" y="139" width="116.3" height="49.6" fill="#f2f2f2"/>
<rect x="294.5" y="194.6" width="116.3" height="58.4" fill="#fff"/>
<rect x="408.20000000000005" y="194.6" width="2.6" height="58.4" fill="#f2f2f2"/>
<svg x="302.1" y="195.9" width="106.1" height="55.8" viewBox="0 0 106 55" preserveAspectRatio="none">
<rect width="106" height="55" fill="url(#teal)"/>
<path d="M17 0 C38 12 55 25 74 24 C88 23.5 98 20 106 16.5 L106 0 Z" fill="#00f0cc"/>
<path d="M29 0 C45 7 58 11.5 72 10.8 C86 10 97 7 106 3.6 L106 0 Z" fill="#00a38a"/>
</svg>
<path d="M327.7 150.9 V166.6 Q327.7 173.6 320.8 173.6 Q315.1 173.6 314.1 167.2" fill="none" stroke="#000" stroke-width="3.4"/>
<path d="M346.2 164.2 H361.2 M353.7 155.2 V173.2" fill="none" stroke="#000" stroke-width="2.7"/>
<path d="M380.4 158.6 L387.3 152.2 V175.3" fill="none" stroke="#000" stroke-width="3.0" stroke-linejoin="miter"/>
<rect x="417.5" y="139" width="114.7" height="49.6" fill="#f2f2f2"/>
<rect x="417.5" y="194.6" width="114.7" height="58.4" fill="#fff"/>
<rect x="530.3" y="194.6" width="1.9" height="58.4" fill="#f2f2f2"/>
<svg x="424.2" y="196.4" width="106.1" height="55.4" viewBox="0 0 106 55" preserveAspectRatio="none">
<rect width="106" height="55" fill="url(#teal)"/>
<path d="M17 0 C38 12 55 25 74 24 C88 23.5 98 20 106 16.5 L106 0 Z" fill="#00f0cc"/>
<path d="M29 0 C45 7 58 11.5 72 10.8 C86 10 97 7 106 3.6 L106 0 Z" fill="#00a38a"/>
</svg>
<path d="M450.2 150.9 V166.6 Q450.2 173.6 443.3 173.6 Q437.6 173.6 436.6 167.2" fill="none" stroke="#000" stroke-width="3.4"/>
<path d="M469.3 164.2 H484.3 M476.8 155.2 V173.2" fill="none" stroke="#000" stroke-width="2.7"/>
<text x="509.0" y="175.3" font-size="33.5" font-weight="bold" text-anchor="middle" fill="#000">2</text>
<rect x="539.3" y="139" width="115.9" height="49.6" fill="#f2f2f2"/>
<rect x="539.3" y="194.6" width="115.9" height="58.4" fill="#fff"/>
<rect x="650.0999999999999" y="194.6" width="5.1" height="58.4" fill="#f2f2f2"/>
<svg x="544.3" y="196.4" width="105.8" height="55.4" viewBox="0 0 106 55" preserveAspectRatio="none">
<rect width="106" height="55" fill="url(#teal)"/>
<path d="M17 0 C38 12 55 25 74 24 C88 23.5 98 20 106 16.5 L106 0 Z" fill="#00f0cc"/>
<path d="M29 0 C45 7 58 11.5 72 10.8 C86 10 97 7 106 3.6 L106 0 Z" fill="#00a38a"/>
</svg>
<path d="M572.3 150.9 V166.6 Q572.3 173.6 565.4 173.6 Q559.7 173.6 558.7 167.2" fill="none" stroke="#000" stroke-width="3.4"/>
<path d="M591.4 164.2 H606.4 M598.9 155.2 V173.2" fill="none" stroke="#000" stroke-width="2.7"/>
<text x="630.6" y="175.3" font-size="33.5" font-weight="bold" text-anchor="middle" fill="#000">3</text>
<rect x="2323" y="1322.3" width="114.7" height="57.7" fill="#fff"/>
<g fill="none" stroke="#0670b8" stroke-linecap="round">
<path d="M2361.4 1344.6 A12.7 12.9 0 1 0 2362 1351.2 L2349.4 1351.2" stroke-width="4.8"/>
<path d="M2370.4 1350 A6.5 6.5 0 1 1 2381.2 1350.8 L2371 1361" stroke-width="4.6" stroke-linejoin="round"/>
</g>
<path d="M2368 1363.4 L2372.5 1358.8 L2385.8 1358.8 L2385.8 1363.4 Z" fill="#0670b8"/>
<polygon points="2392.1,1324.5 2383.4,1338.2 2390.9,1340.8 2389.2,1363.2 2399.8,1338.7 2392.4,1335 2393,1324.5" fill="#ea5a24"/>
<polygon points="2403.6,1338.9 2424.8,1338.9 2419,1344.9 2401.2,1344.9" fill="#f39220"/>
<polygon points="2399.8,1348 2418.3,1348 2413.7,1354 2396.9,1354" fill="#f39220"/>
<polygon points="2395.7,1357.2 2417.1,1357.2 2411.3,1363.4 2392.6,1363.4" fill="#f39220"/>
<text x="2393.60" y="1334.60" font-size="7.4" font-weight="bold" fill="#ea5a24" textLength="30.50" lengthAdjust="spacingAndGlyphs" xml:space="preserve" >FRANCE</text>
<text x="2339.20" y="1368.30" font-size="3.9" font-weight="normal" fill="#3a8fd0" textLength="75.00" lengthAdjust="spacingAndGlyphs" xml:space="preserve" >Optimisation des ressources énergétiques</text>
</svg>
</body></html>
